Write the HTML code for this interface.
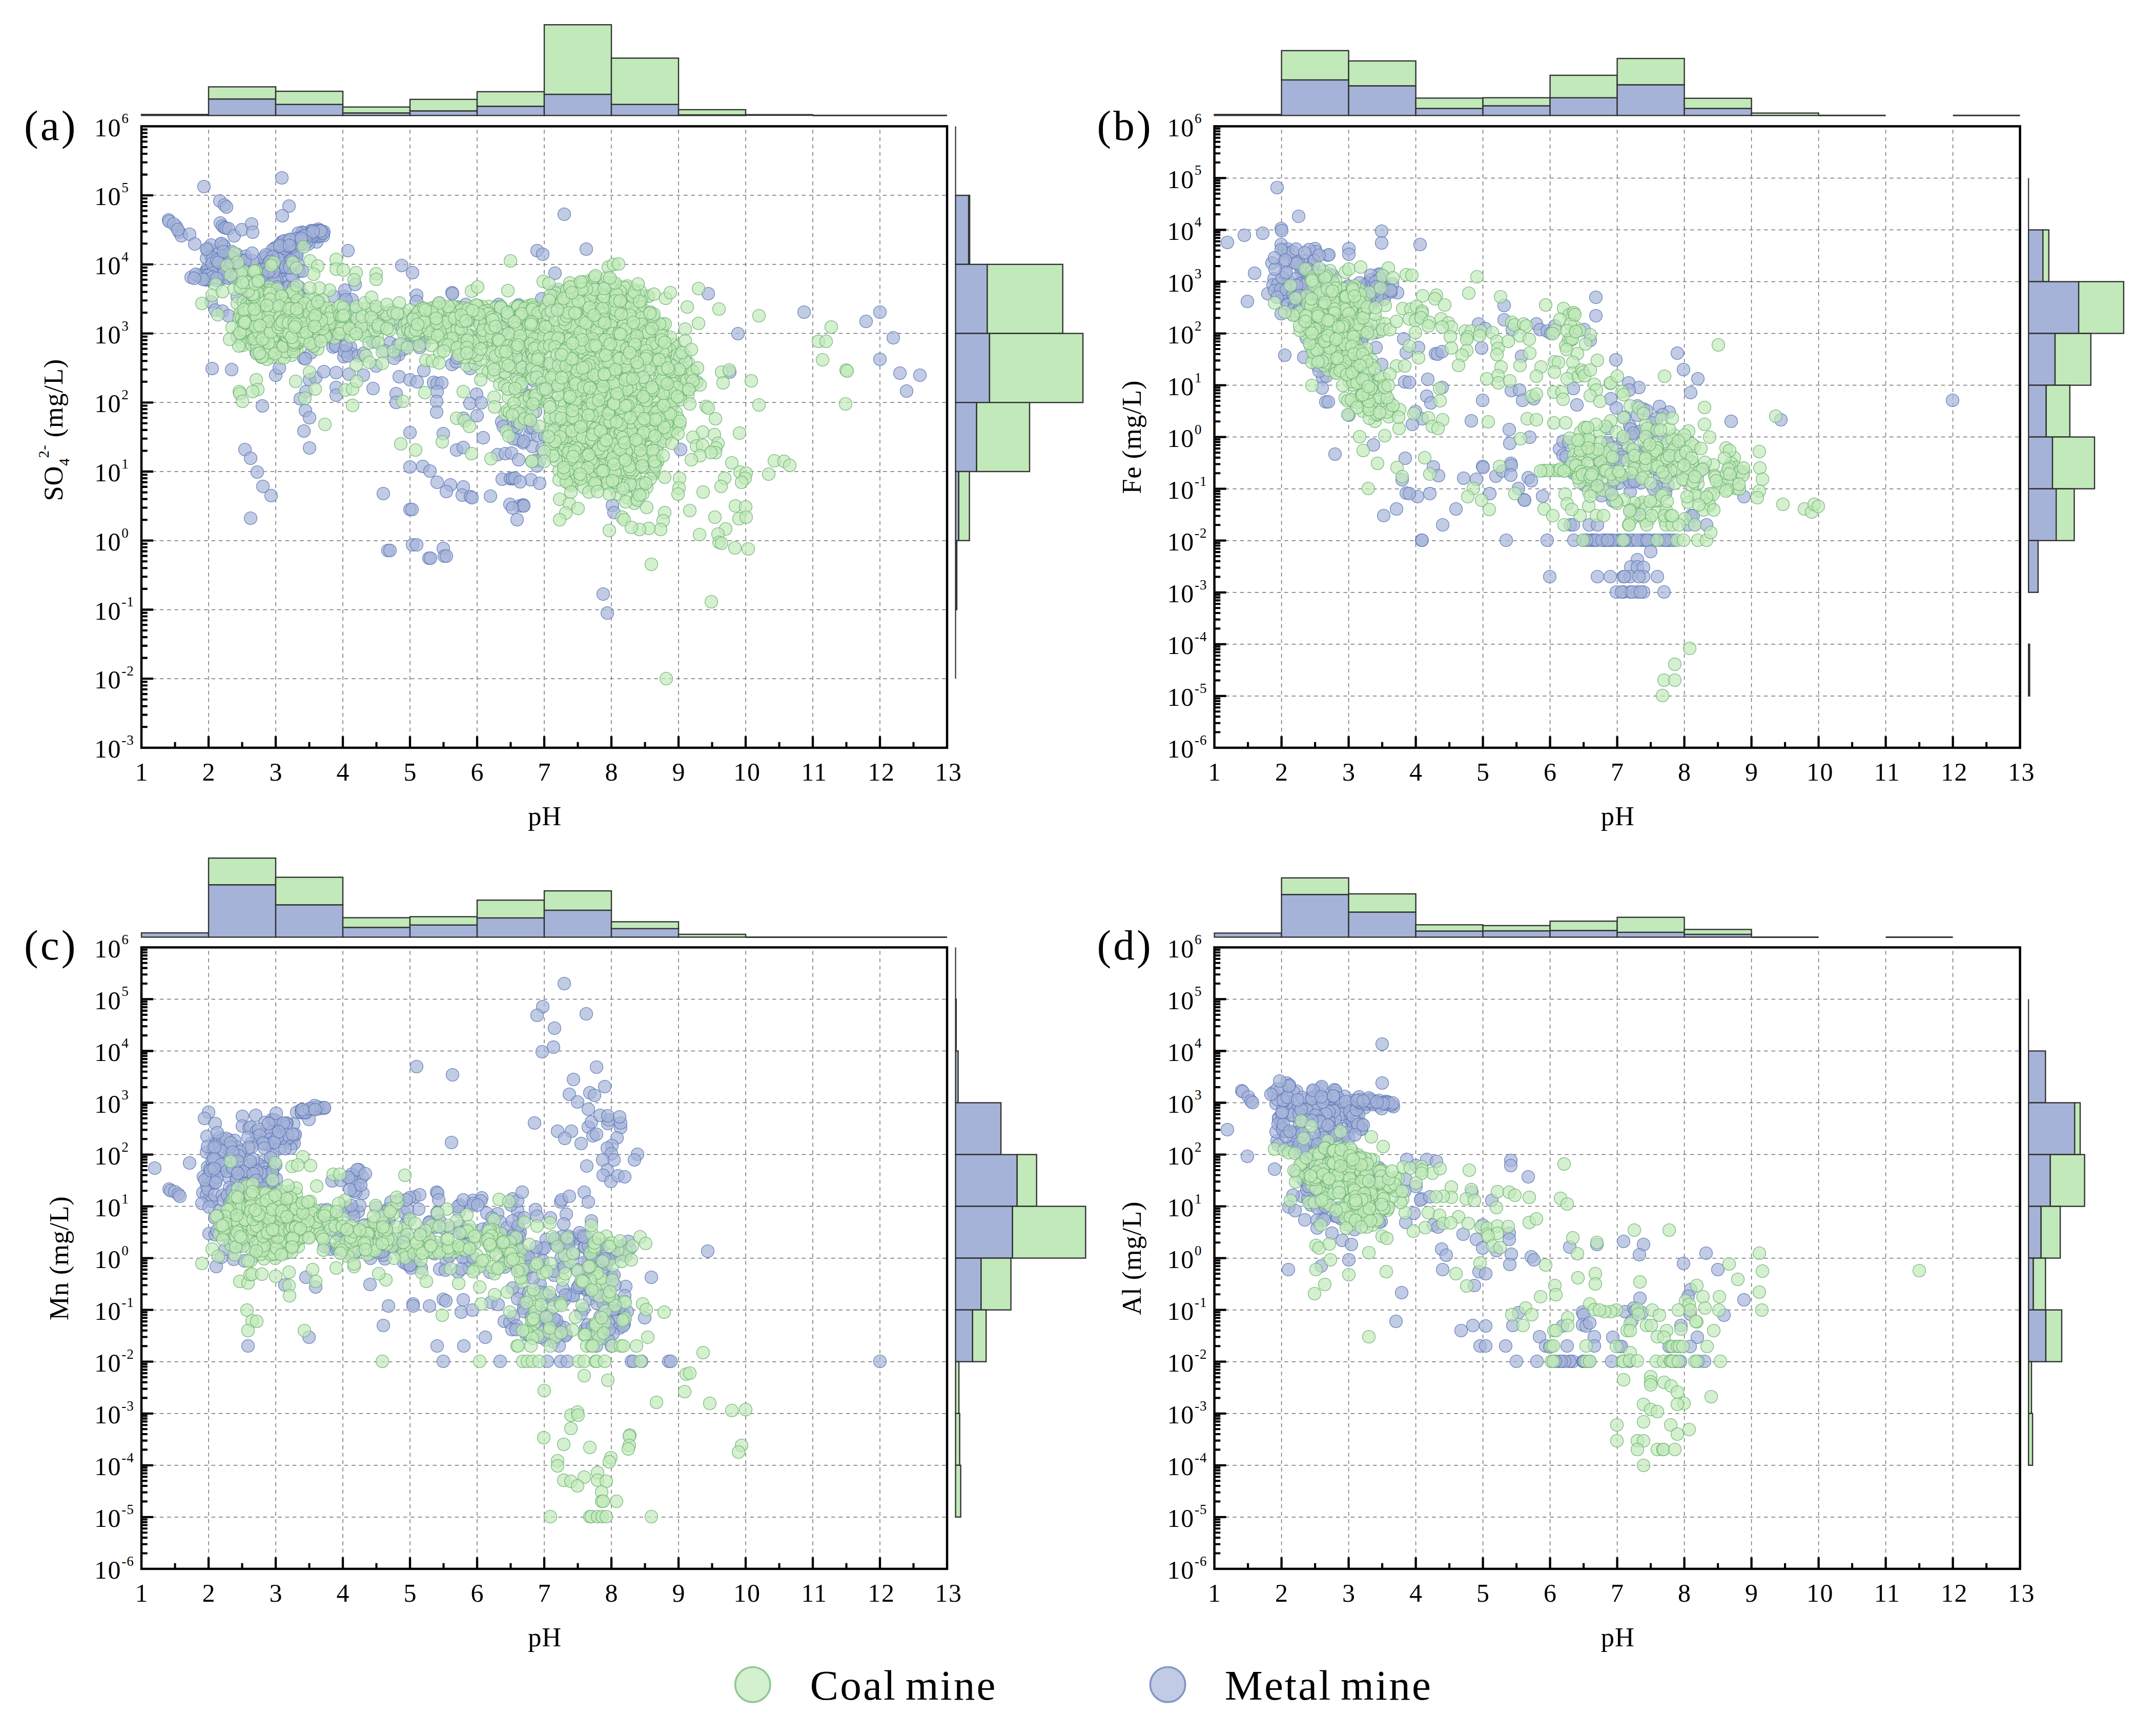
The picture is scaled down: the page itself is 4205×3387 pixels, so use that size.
<!DOCTYPE html>
<html lang="en"><head><meta charset="utf-8"><title>Mine drainage: pH vs concentration</title>
<style>
html,body{margin:0;padding:0;background:#fff}
svg{display:block}
text{font-family:"Liberation Serif", "Times New Roman", serif;fill:#000}
.grid{fill:none;stroke:#727272;stroke-width:1.5;stroke-dasharray:7.5 6.9;stroke-dashoffset:7.5}
.tk{fill:none;stroke:#000;stroke-width:4.3}
.mtk{fill:none;stroke:#000;stroke-width:4.1}
.fr{fill:none;stroke:#000;stroke-width:4.5}
.tl{font-size:50px;letter-spacing:1.7px}
.sp{font-size:27px;letter-spacing:1px}
.al{font-size:52.5px;letter-spacing:0.85px}
.sb{font-size:29px}
.tag{font-size:83.3px;letter-spacing:4px}
.lg{font-size:83.3px;letter-spacing:3.1px;word-spacing:-7.5px}
.pb circle{r:12.4px;fill:#a5b3d8;fill-opacity:.69;stroke:#5f7ab8;stroke-width:1.3;stroke-opacity:.9}
.pg circle{r:12.4px;fill:#c1e9b9;fill-opacity:.69;stroke:#6fb374;stroke-width:1.3;stroke-opacity:.9}
.hbl{fill:#a5b3d8;stroke:#333;stroke-width:2.4}
.hgr{fill:#c1e9b9;stroke:#333;stroke-width:2.4}
.hl{fill:none;stroke:#333;stroke-width:3}
.hr{stroke-width:2.2}
</style></head><body>
<svg width="4205" height="3387" viewBox="0 0 4205 3387">
<rect width="4205" height="3387" fill="#fff"/>
<g id="panel-a">
<path class="grid" d="M407 246.4V1458.9M538 246.4V1458.9M669 246.4V1458.9M800 246.4V1458.9M931 246.4V1458.9M1062 246.4V1458.9M1193 246.4V1458.9M1324 246.4V1458.9M1455 246.4V1458.9M1586 246.4V1458.9M1717 246.4V1458.9M276 381.1H1848M276 515.8H1848M276 650.6H1848M276 785.3H1848M276 920H1848M276 1054.7H1848M276 1189.5H1848M276 1324.2H1848"/>
<g class="pb"><circle cx="329" cy="429" r="12.4"/><circle cx="330" cy="432" r="12.4"/><circle cx="344" cy="442" r="12.4"/><circle cx="350" cy="453" r="12.4"/><circle cx="354" cy="460" r="12.4"/><circle cx="370" cy="457" r="12.4"/><circle cx="380" cy="476" r="12.4"/><circle cx="339" cy="437" r="12.4"/><circle cx="347" cy="448" r="12.4"/><circle cx="429" cy="392" r="12.4"/><circle cx="438" cy="400" r="12.4"/><circle cx="442" cy="404" r="12.4"/><circle cx="564" cy="402" r="12.4"/><circle cx="551" cy="421" r="12.4"/><circle cx="430" cy="435" r="12.4"/><circle cx="434" cy="441" r="12.4"/><circle cx="438" cy="444" r="12.4"/><circle cx="441" cy="445" r="12.4"/><circle cx="446" cy="446" r="12.4"/><circle cx="457" cy="460" r="12.4"/><circle cx="472" cy="448" r="12.4"/><circle cx="491" cy="437" r="12.4"/><circle cx="493" cy="453" r="12.4"/><circle cx="498" cy="520" r="12.4"/><circle cx="513" cy="524" r="12.4"/><circle cx="430" cy="514" r="12.4"/><circle cx="544" cy="552" r="12.4"/><circle cx="406" cy="485" r="12.4"/><circle cx="550" cy="528" r="12.4"/><circle cx="431" cy="477" r="12.4"/><circle cx="516" cy="531" r="12.4"/><circle cx="511" cy="534" r="12.4"/><circle cx="579" cy="499" r="12.4"/><circle cx="401" cy="530" r="12.4"/><circle cx="582" cy="481" r="12.4"/><circle cx="405" cy="489" r="12.4"/><circle cx="412" cy="478" r="12.4"/><circle cx="587" cy="468" r="12.4"/><circle cx="526" cy="505" r="12.4"/><circle cx="431" cy="544" r="12.4"/><circle cx="416" cy="532" r="12.4"/><circle cx="412" cy="501" r="12.4"/><circle cx="437" cy="481" r="12.4"/><circle cx="436" cy="498" r="12.4"/><circle cx="437" cy="479" r="12.4"/><circle cx="581" cy="489" r="12.4"/><circle cx="405" cy="523" r="12.4"/><circle cx="445" cy="526" r="12.4"/><circle cx="478" cy="506" r="12.4"/><circle cx="530" cy="562" r="12.4"/><circle cx="443" cy="540" r="12.4"/><circle cx="536" cy="484" r="12.4"/><circle cx="427" cy="542" r="12.4"/><circle cx="526" cy="560" r="12.4"/><circle cx="540" cy="482" r="12.4"/><circle cx="618" cy="472" r="12.4"/><circle cx="427" cy="494" r="12.4"/><circle cx="560" cy="524" r="12.4"/><circle cx="506" cy="543" r="12.4"/><circle cx="572" cy="566" r="12.4"/><circle cx="572" cy="540" r="12.4"/><circle cx="473" cy="537" r="12.4"/><circle cx="543" cy="496" r="12.4"/><circle cx="532" cy="527" r="12.4"/><circle cx="403" cy="531" r="12.4"/><circle cx="569" cy="497" r="12.4"/><circle cx="571" cy="523" r="12.4"/><circle cx="404" cy="546" r="12.4"/><circle cx="562" cy="512" r="12.4"/><circle cx="540" cy="569" r="12.4"/><circle cx="460" cy="536" r="12.4"/><circle cx="466" cy="535" r="12.4"/><circle cx="433" cy="503" r="12.4"/><circle cx="532" cy="487" r="12.4"/><circle cx="417" cy="512" r="12.4"/><circle cx="437" cy="500" r="12.4"/><circle cx="543" cy="511" r="12.4"/><circle cx="607" cy="450" r="12.4"/><circle cx="564" cy="522" r="12.4"/><circle cx="595" cy="477" r="12.4"/><circle cx="544" cy="505" r="12.4"/><circle cx="544" cy="533" r="12.4"/><circle cx="558" cy="471" r="12.4"/><circle cx="566" cy="469" r="12.4"/><circle cx="452" cy="491" r="12.4"/><circle cx="561" cy="515" r="12.4"/><circle cx="540" cy="547" r="12.4"/><circle cx="615" cy="456" r="12.4"/><circle cx="416" cy="506" r="12.4"/><circle cx="543" cy="568" r="12.4"/><circle cx="479" cy="521" r="12.4"/><circle cx="550" cy="472" r="12.4"/><circle cx="547" cy="542" r="12.4"/><circle cx="520" cy="552" r="12.4"/><circle cx="403" cy="504" r="12.4"/><circle cx="524" cy="549" r="12.4"/><circle cx="590" cy="453" r="12.4"/><circle cx="588" cy="468" r="12.4"/><circle cx="515" cy="542" r="12.4"/><circle cx="626" cy="456" r="12.4"/><circle cx="439" cy="516" r="12.4"/><circle cx="457" cy="543" r="12.4"/><circle cx="546" cy="515" r="12.4"/><circle cx="462" cy="496" r="12.4"/><circle cx="520" cy="513" r="12.4"/><circle cx="527" cy="511" r="12.4"/><circle cx="521" cy="500" r="12.4"/><circle cx="451" cy="509" r="12.4"/><circle cx="415" cy="503" r="12.4"/><circle cx="431" cy="528" r="12.4"/><circle cx="620" cy="462" r="12.4"/><circle cx="432" cy="475" r="12.4"/><circle cx="559" cy="488" r="12.4"/><circle cx="474" cy="528" r="12.4"/><circle cx="409" cy="543" r="12.4"/><circle cx="414" cy="514" r="12.4"/><circle cx="519" cy="504" r="12.4"/><circle cx="479" cy="500" r="12.4"/><circle cx="435" cy="530" r="12.4"/><circle cx="546" cy="516" r="12.4"/><circle cx="602" cy="476" r="12.4"/><circle cx="610" cy="462" r="12.4"/><circle cx="444" cy="543" r="12.4"/><circle cx="585" cy="461" r="12.4"/><circle cx="558" cy="568" r="12.4"/><circle cx="631" cy="460" r="12.4"/><circle cx="512" cy="547" r="12.4"/><circle cx="511" cy="537" r="12.4"/><circle cx="524" cy="514" r="12.4"/><circle cx="620" cy="457" r="12.4"/><circle cx="466" cy="508" r="12.4"/><circle cx="515" cy="503" r="12.4"/><circle cx="562" cy="559" r="12.4"/><circle cx="429" cy="506" r="12.4"/><circle cx="572" cy="499" r="12.4"/><circle cx="563" cy="561" r="12.4"/><circle cx="544" cy="499" r="12.4"/><circle cx="536" cy="513" r="12.4"/><circle cx="579" cy="499" r="12.4"/><circle cx="470" cy="508" r="12.4"/><circle cx="546" cy="529" r="12.4"/><circle cx="553" cy="490" r="12.4"/><circle cx="552" cy="522" r="12.4"/><circle cx="519" cy="497" r="12.4"/><circle cx="540" cy="545" r="12.4"/><circle cx="448" cy="499" r="12.4"/><circle cx="524" cy="513" r="12.4"/><circle cx="590" cy="455" r="12.4"/><circle cx="536" cy="547" r="12.4"/><circle cx="423" cy="508" r="12.4"/><circle cx="426" cy="512" r="12.4"/><circle cx="518" cy="525" r="12.4"/><circle cx="551" cy="520" r="12.4"/><circle cx="455" cy="542" r="12.4"/><circle cx="422" cy="547" r="12.4"/><circle cx="493" cy="509" r="12.4"/><circle cx="568" cy="508" r="12.4"/><circle cx="543" cy="506" r="12.4"/><circle cx="496" cy="535" r="12.4"/><circle cx="532" cy="501" r="12.4"/><circle cx="582" cy="516" r="12.4"/><circle cx="571" cy="477" r="12.4"/><circle cx="584" cy="529" r="12.4"/><circle cx="558" cy="521" r="12.4"/><circle cx="534" cy="530" r="12.4"/><circle cx="576" cy="470" r="12.4"/><circle cx="452" cy="502" r="12.4"/><circle cx="404" cy="536" r="12.4"/><circle cx="524" cy="530" r="12.4"/><circle cx="478" cy="509" r="12.4"/><circle cx="436" cy="491" r="12.4"/><circle cx="590" cy="529" r="12.4"/><circle cx="580" cy="473" r="12.4"/><circle cx="550" cy="579" r="12.4"/><circle cx="466" cy="519" r="12.4"/><circle cx="492" cy="494" r="12.4"/><circle cx="527" cy="510" r="12.4"/><circle cx="558" cy="485" r="12.4"/><circle cx="582" cy="455" r="12.4"/><circle cx="437" cy="534" r="12.4"/><circle cx="403" cy="486" r="12.4"/><circle cx="569" cy="538" r="12.4"/><circle cx="565" cy="522" r="12.4"/><circle cx="632" cy="452" r="12.4"/><circle cx="586" cy="465" r="12.4"/><circle cx="566" cy="478" r="12.4"/><circle cx="620" cy="460" r="12.4"/><circle cx="576" cy="474" r="12.4"/><circle cx="582" cy="475" r="12.4"/><circle cx="604" cy="456" r="12.4"/><circle cx="598" cy="472" r="12.4"/><circle cx="619" cy="457" r="12.4"/><circle cx="585" cy="465" r="12.4"/><circle cx="621" cy="447" r="12.4"/><circle cx="547" cy="476" r="12.4"/><circle cx="563" cy="481" r="12.4"/><circle cx="626" cy="459" r="12.4"/><circle cx="561" cy="469" r="12.4"/><circle cx="571" cy="481" r="12.4"/><circle cx="591" cy="461" r="12.4"/><circle cx="583" cy="470" r="12.4"/><circle cx="582" cy="465" r="12.4"/><circle cx="610" cy="459" r="12.4"/><circle cx="610" cy="450" r="12.4"/><circle cx="618" cy="450" r="12.4"/><circle cx="622" cy="450" r="12.4"/><circle cx="607" cy="456" r="12.4"/><circle cx="588" cy="475" r="12.4"/><circle cx="626" cy="455" r="12.4"/><circle cx="563" cy="476" r="12.4"/><circle cx="630" cy="455" r="12.4"/><circle cx="554" cy="470" r="12.4"/><circle cx="569" cy="477" r="12.4"/><circle cx="597" cy="464" r="12.4"/><circle cx="560" cy="480" r="12.4"/><circle cx="567" cy="468" r="12.4"/><circle cx="569" cy="477" r="12.4"/><circle cx="564" cy="471" r="12.4"/><circle cx="595" cy="460" r="12.4"/><circle cx="578" cy="466" r="12.4"/><circle cx="566" cy="467" r="12.4"/><circle cx="588" cy="469" r="12.4"/><circle cx="626" cy="450" r="12.4"/><circle cx="588" cy="465" r="12.4"/><circle cx="626" cy="451" r="12.4"/><circle cx="546" cy="480" r="12.4"/><circle cx="611" cy="452" r="12.4"/><circle cx="565" cy="479" r="12.4"/><circle cx="402" cy="546" r="12.4"/><circle cx="386" cy="538" r="12.4"/><circle cx="413" cy="539" r="12.4"/><circle cx="397" cy="538" r="12.4"/><circle cx="404" cy="539" r="12.4"/><circle cx="414" cy="533" r="12.4"/><circle cx="406" cy="538" r="12.4"/><circle cx="401" cy="545" r="12.4"/><circle cx="415" cy="541" r="12.4"/><circle cx="373" cy="541" r="12.4"/><circle cx="382" cy="535" r="12.4"/><circle cx="396" cy="545" r="12.4"/><circle cx="379" cy="543" r="12.4"/><circle cx="423" cy="543" r="12.4"/><circle cx="679" cy="489" r="12.4"/><circle cx="784" cy="518" r="12.4"/><circle cx="805" cy="532" r="12.4"/><circle cx="813" cy="576" r="12.4"/><circle cx="882" cy="571" r="12.4"/><circle cx="883" cy="573" r="12.4"/><circle cx="671" cy="578" r="12.4"/><circle cx="673" cy="566" r="12.4"/><circle cx="693" cy="555" r="12.4"/><circle cx="857" cy="591" r="12.4"/><circle cx="412" cy="589" r="12.4"/><circle cx="420" cy="605" r="12.4"/><circle cx="434" cy="607" r="12.4"/><circle cx="488" cy="636" r="12.4"/><circle cx="556" cy="581" r="12.4"/><circle cx="621" cy="603" r="12.4"/><circle cx="509" cy="569" r="12.4"/><circle cx="508" cy="625" r="12.4"/><circle cx="596" cy="610" r="12.4"/><circle cx="590" cy="574" r="12.4"/><circle cx="527" cy="625" r="12.4"/><circle cx="650" cy="677" r="12.4"/><circle cx="583" cy="560" r="12.4"/><circle cx="524" cy="660" r="12.4"/><circle cx="494" cy="639" r="12.4"/><circle cx="541" cy="560" r="12.4"/><circle cx="655" cy="673" r="12.4"/><circle cx="487" cy="647" r="12.4"/><circle cx="505" cy="612" r="12.4"/><circle cx="559" cy="601" r="12.4"/><circle cx="515" cy="615" r="12.4"/><circle cx="586" cy="595" r="12.4"/><circle cx="486" cy="663" r="12.4"/><circle cx="513" cy="694" r="12.4"/><circle cx="563" cy="662" r="12.4"/><circle cx="514" cy="677" r="12.4"/><circle cx="463" cy="579" r="12.4"/><circle cx="463" cy="655" r="12.4"/><circle cx="595" cy="584" r="12.4"/><circle cx="529" cy="678" r="12.4"/><circle cx="570" cy="571" r="12.4"/><circle cx="491" cy="581" r="12.4"/><circle cx="469" cy="617" r="12.4"/><circle cx="534" cy="632" r="12.4"/><circle cx="582" cy="668" r="12.4"/><circle cx="619" cy="614" r="12.4"/><circle cx="514" cy="617" r="12.4"/><circle cx="446" cy="616" r="12.4"/><circle cx="593" cy="699" r="12.4"/><circle cx="612" cy="653" r="12.4"/><circle cx="573" cy="561" r="12.4"/><circle cx="514" cy="607" r="12.4"/><circle cx="582" cy="574" r="12.4"/><circle cx="524" cy="631" r="12.4"/><circle cx="612" cy="676" r="12.4"/><circle cx="574" cy="581" r="12.4"/><circle cx="607" cy="688" r="12.4"/><circle cx="560" cy="609" r="12.4"/><circle cx="550" cy="579" r="12.4"/><circle cx="596" cy="700" r="12.4"/><circle cx="553" cy="661" r="12.4"/><circle cx="622" cy="587" r="12.4"/><circle cx="645" cy="648" r="12.4"/><circle cx="485" cy="570" r="12.4"/><circle cx="495" cy="641" r="12.4"/><circle cx="592" cy="606" r="12.4"/><circle cx="642" cy="610" r="12.4"/><circle cx="542" cy="576" r="12.4"/><circle cx="651" cy="578" r="12.4"/><circle cx="637" cy="636" r="12.4"/><circle cx="563" cy="639" r="12.4"/><circle cx="500" cy="688" r="12.4"/><circle cx="655" cy="675" r="12.4"/><circle cx="414" cy="719" r="12.4"/><circle cx="452" cy="721" r="12.4"/><circle cx="538" cy="732" r="12.4"/><circle cx="545" cy="718" r="12.4"/><circle cx="512" cy="792" r="12.4"/><circle cx="604" cy="741" r="12.4"/><circle cx="616" cy="737" r="12.4"/><circle cx="632" cy="725" r="12.4"/><circle cx="656" cy="727" r="12.4"/><circle cx="656" cy="756" r="12.4"/><circle cx="656" cy="771" r="12.4"/><circle cx="681" cy="730" r="12.4"/><circle cx="709" cy="732" r="12.4"/><circle cx="684" cy="678" r="12.4"/><circle cx="685" cy="690" r="12.4"/><circle cx="671" cy="696" r="12.4"/><circle cx="734" cy="714" r="12.4"/><circle cx="728" cy="758" r="12.4"/><circle cx="597" cy="764" r="12.4"/><circle cx="586" cy="778" r="12.4"/><circle cx="596" cy="801" r="12.4"/><circle cx="604" cy="815" r="12.4"/><circle cx="593" cy="841" r="12.4"/><circle cx="604" cy="874" r="12.4"/><circle cx="478" cy="877" r="12.4"/><circle cx="489" cy="894" r="12.4"/><circle cx="502" cy="921" r="12.4"/><circle cx="513" cy="949" r="12.4"/><circle cx="529" cy="967" r="12.4"/><circle cx="779" cy="735" r="12.4"/><circle cx="800" cy="741" r="12.4"/><circle cx="814" cy="745" r="12.4"/><circle cx="827" cy="723" r="12.4"/><circle cx="773" cy="768" r="12.4"/><circle cx="773" cy="785" r="12.4"/><circle cx="846" cy="746" r="12.4"/><circle cx="853" cy="748" r="12.4"/><circle cx="862" cy="747" r="12.4"/><circle cx="853" cy="764" r="12.4"/><circle cx="852" cy="783" r="12.4"/><circle cx="852" cy="804" r="12.4"/><circle cx="800" cy="844" r="12.4"/><circle cx="865" cy="846" r="12.4"/><circle cx="930" cy="769" r="12.4"/><circle cx="917" cy="787" r="12.4"/><circle cx="939" cy="786" r="12.4"/><circle cx="931" cy="811" r="12.4"/><circle cx="904" cy="816" r="12.4"/><circle cx="943" cy="854" r="12.4"/><circle cx="891" cy="878" r="12.4"/><circle cx="904" cy="873" r="12.4"/><circle cx="971" cy="887" r="12.4"/><circle cx="986" cy="885" r="12.4"/><circle cx="998" cy="884" r="12.4"/><circle cx="800" cy="911" r="12.4"/><circle cx="825" cy="910" r="12.4"/><circle cx="839" cy="919" r="12.4"/><circle cx="853" cy="941" r="12.4"/><circle cx="879" cy="946" r="12.4"/><circle cx="871" cy="959" r="12.4"/><circle cx="904" cy="950" r="12.4"/><circle cx="902" cy="966" r="12.4"/><circle cx="918" cy="969" r="12.4"/><circle cx="921" cy="971" r="12.4"/><circle cx="957" cy="968" r="12.4"/><circle cx="748" cy="963" r="12.4"/><circle cx="800" cy="994" r="12.4"/><circle cx="804" cy="994" r="12.4"/><circle cx="980" cy="935" r="12.4"/><circle cx="996" cy="934" r="12.4"/><circle cx="1000" cy="934" r="12.4"/><circle cx="995" cy="984" r="12.4"/><circle cx="1014" cy="987" r="12.4"/><circle cx="1021" cy="985" r="12.4"/><circle cx="1009" cy="835" r="12.4"/><circle cx="1021" cy="864" r="12.4"/><circle cx="1034" cy="848" r="12.4"/><circle cx="1039" cy="871" r="12.4"/><circle cx="979" cy="823" r="12.4"/><circle cx="982" cy="832" r="12.4"/><circle cx="893" cy="599" r="12.4"/><circle cx="981" cy="625" r="12.4"/><circle cx="1010" cy="618" r="12.4"/><circle cx="882" cy="711" r="12.4"/><circle cx="730" cy="666" r="12.4"/><circle cx="687" cy="585" r="12.4"/><circle cx="1026" cy="683" r="12.4"/><circle cx="778" cy="685" r="12.4"/><circle cx="947" cy="640" r="12.4"/><circle cx="890" cy="706" r="12.4"/><circle cx="664" cy="611" r="12.4"/><circle cx="841" cy="602" r="12.4"/><circle cx="809" cy="669" r="12.4"/><circle cx="725" cy="662" r="12.4"/><circle cx="761" cy="669" r="12.4"/><circle cx="788" cy="681" r="12.4"/><circle cx="672" cy="685" r="12.4"/><circle cx="893" cy="654" r="12.4"/><circle cx="819" cy="678" r="12.4"/><circle cx="928" cy="699" r="12.4"/><circle cx="952" cy="656" r="12.4"/><circle cx="1048" cy="712" r="12.4"/><circle cx="993" cy="644" r="12.4"/><circle cx="828" cy="669" r="12.4"/><circle cx="1013" cy="663" r="12.4"/><circle cx="863" cy="648" r="12.4"/><circle cx="1012" cy="630" r="12.4"/><circle cx="679" cy="694" r="12.4"/><circle cx="1011" cy="695" r="12.4"/><circle cx="892" cy="698" r="12.4"/><circle cx="777" cy="673" r="12.4"/><circle cx="685" cy="600" r="12.4"/><circle cx="833" cy="659" r="12.4"/><circle cx="813" cy="588" r="12.4"/><circle cx="930" cy="663" r="12.4"/><circle cx="751" cy="628" r="12.4"/><circle cx="813" cy="617" r="12.4"/><circle cx="1037" cy="685" r="12.4"/><circle cx="998" cy="646" r="12.4"/><circle cx="973" cy="615" r="12.4"/><circle cx="950" cy="669" r="12.4"/><circle cx="1012" cy="595" r="12.4"/><circle cx="968" cy="599" r="12.4"/><circle cx="657" cy="618" r="12.4"/><circle cx="775" cy="631" r="12.4"/><circle cx="977" cy="642" r="12.4"/><circle cx="797" cy="672" r="12.4"/><circle cx="675" cy="585" r="12.4"/><circle cx="1010" cy="628" r="12.4"/><circle cx="1041" cy="654" r="12.4"/><circle cx="738" cy="626" r="12.4"/><circle cx="1020" cy="721" r="12.4"/><circle cx="796" cy="654" r="12.4"/><circle cx="1048" cy="612" r="12.4"/><circle cx="906" cy="610" r="12.4"/><circle cx="699" cy="694" r="12.4"/><circle cx="999" cy="692" r="12.4"/><circle cx="710" cy="689" r="12.4"/><circle cx="1026" cy="650" r="12.4"/><circle cx="688" cy="615" r="12.4"/><circle cx="778" cy="692" r="12.4"/><circle cx="734" cy="608" r="12.4"/><circle cx="750" cy="684" r="12.4"/><circle cx="968" cy="639" r="12.4"/><circle cx="917" cy="719" r="12.4"/><circle cx="889" cy="616" r="12.4"/><circle cx="919" cy="624" r="12.4"/><circle cx="909" cy="594" r="12.4"/><circle cx="1043" cy="649" r="12.4"/><circle cx="865" cy="663" r="12.4"/><circle cx="675" cy="674" r="12.4"/><circle cx="769" cy="619" r="12.4"/><circle cx="973" cy="594" r="12.4"/><circle cx="769" cy="699" r="12.4"/><circle cx="754" cy="624" r="12.4"/><circle cx="872" cy="609" r="12.4"/><circle cx="670" cy="653" r="12.4"/><circle cx="952" cy="640" r="12.4"/><circle cx="1022" cy="659" r="12.4"/><circle cx="728" cy="667" r="12.4"/><circle cx="1048" cy="489" r="12.4"/><circle cx="1059" cy="496" r="12.4"/><circle cx="1144" cy="486" r="12.4"/><circle cx="1083" cy="533" r="12.4"/><circle cx="1382" cy="573" r="12.4"/><circle cx="1440" cy="651" r="12.4"/><circle cx="1424" cy="726" r="12.4"/><circle cx="1057" cy="583" r="12.4"/><circle cx="1081" cy="568" r="12.4"/><circle cx="1096" cy="569" r="12.4"/><circle cx="1114" cy="566" r="12.4"/><circle cx="1116" cy="578" r="12.4"/><circle cx="1009" cy="1014" r="12.4"/><circle cx="1021" cy="987" r="12.4"/><circle cx="1022" cy="987" r="12.4"/><circle cx="1000" cy="991" r="12.4"/><circle cx="1195" cy="986" r="12.4"/><circle cx="1198" cy="1000" r="12.4"/><circle cx="1201" cy="948" r="12.4"/><circle cx="1273" cy="893" r="12.4"/><circle cx="1328" cy="877" r="12.4"/><circle cx="1000" cy="933" r="12.4"/><circle cx="1005" cy="933" r="12.4"/><circle cx="1045" cy="803" r="12.4"/><circle cx="1045" cy="898" r="12.4"/><circle cx="1036" cy="835" r="12.4"/><circle cx="1058" cy="876" r="12.4"/><circle cx="1036" cy="936" r="12.4"/><circle cx="1012" cy="897" r="12.4"/><circle cx="1011" cy="858" r="12.4"/><circle cx="1016" cy="821" r="12.4"/><circle cx="1053" cy="899" r="12.4"/><circle cx="1055" cy="775" r="12.4"/><circle cx="1034" cy="772" r="12.4"/><circle cx="1040" cy="834" r="12.4"/><circle cx="1002" cy="856" r="12.4"/><circle cx="1049" cy="850" r="12.4"/><circle cx="1060" cy="762" r="12.4"/><circle cx="1010" cy="726" r="12.4"/><circle cx="1034" cy="820" r="12.4"/><circle cx="1031" cy="781" r="12.4"/><circle cx="1055" cy="738" r="12.4"/><circle cx="1063" cy="850" r="12.4"/><circle cx="1038" cy="900" r="12.4"/><circle cx="1016" cy="755" r="12.4"/><circle cx="1021" cy="731" r="12.4"/><circle cx="1022" cy="861" r="12.4"/><circle cx="1036" cy="781" r="12.4"/><circle cx="1041" cy="742" r="12.4"/><circle cx="1057" cy="760" r="12.4"/><circle cx="1018" cy="758" r="12.4"/><circle cx="1048" cy="909" r="12.4"/><circle cx="1054" cy="736" r="12.4"/><circle cx="1028" cy="804" r="12.4"/><circle cx="1015" cy="940" r="12.4"/><circle cx="1003" cy="832" r="12.4"/><circle cx="1053" cy="943" r="12.4"/><circle cx="1010" cy="824" r="12.4"/><circle cx="489" cy="1011" r="12.4"/><circle cx="757" cy="1074" r="12.4"/><circle cx="761" cy="1074" r="12.4"/><circle cx="805" cy="1063" r="12.4"/><circle cx="813" cy="1063" r="12.4"/><circle cx="837" cy="1089" r="12.4"/><circle cx="840" cy="1089" r="12.4"/><circle cx="865" cy="1070" r="12.4"/><circle cx="867" cy="1085" r="12.4"/><circle cx="871" cy="1085" r="12.4"/><circle cx="1177" cy="1159" r="12.4"/><circle cx="1185" cy="1196" r="12.4"/><circle cx="1569" cy="609" r="12.4"/><circle cx="1717" cy="609" r="12.4"/><circle cx="1690" cy="627" r="12.4"/><circle cx="1743" cy="659" r="12.4"/><circle cx="1717" cy="701" r="12.4"/><circle cx="1756" cy="728" r="12.4"/><circle cx="1795" cy="732" r="12.4"/><circle cx="1769" cy="763" r="12.4"/><circle cx="1101" cy="418" r="12.4"/><circle cx="398" cy="364" r="12.4"/><circle cx="550" cy="347" r="12.4"/></g>
<g class="pg"><circle cx="477" cy="638" r="12.4"/><circle cx="519" cy="614" r="12.4"/><circle cx="563" cy="632" r="12.4"/><circle cx="519" cy="691" r="12.4"/><circle cx="511" cy="587" r="12.4"/><circle cx="479" cy="612" r="12.4"/><circle cx="552" cy="659" r="12.4"/><circle cx="569" cy="693" r="12.4"/><circle cx="590" cy="653" r="12.4"/><circle cx="577" cy="653" r="12.4"/><circle cx="510" cy="660" r="12.4"/><circle cx="532" cy="625" r="12.4"/><circle cx="513" cy="629" r="12.4"/><circle cx="557" cy="653" r="12.4"/><circle cx="549" cy="652" r="12.4"/><circle cx="513" cy="616" r="12.4"/><circle cx="525" cy="620" r="12.4"/><circle cx="560" cy="685" r="12.4"/><circle cx="498" cy="651" r="12.4"/><circle cx="495" cy="608" r="12.4"/><circle cx="522" cy="636" r="12.4"/><circle cx="581" cy="623" r="12.4"/><circle cx="508" cy="655" r="12.4"/><circle cx="509" cy="583" r="12.4"/><circle cx="548" cy="646" r="12.4"/><circle cx="501" cy="661" r="12.4"/><circle cx="544" cy="593" r="12.4"/><circle cx="594" cy="641" r="12.4"/><circle cx="489" cy="647" r="12.4"/><circle cx="535" cy="665" r="12.4"/><circle cx="482" cy="668" r="12.4"/><circle cx="565" cy="656" r="12.4"/><circle cx="553" cy="677" r="12.4"/><circle cx="557" cy="636" r="12.4"/><circle cx="500" cy="670" r="12.4"/><circle cx="566" cy="642" r="12.4"/><circle cx="536" cy="657" r="12.4"/><circle cx="513" cy="647" r="12.4"/><circle cx="557" cy="631" r="12.4"/><circle cx="533" cy="599" r="12.4"/><circle cx="529" cy="634" r="12.4"/><circle cx="577" cy="642" r="12.4"/><circle cx="521" cy="630" r="12.4"/><circle cx="501" cy="684" r="12.4"/><circle cx="554" cy="588" r="12.4"/><circle cx="534" cy="671" r="12.4"/><circle cx="479" cy="637" r="12.4"/><circle cx="545" cy="618" r="12.4"/><circle cx="510" cy="697" r="12.4"/><circle cx="474" cy="625" r="12.4"/><circle cx="522" cy="607" r="12.4"/><circle cx="523" cy="655" r="12.4"/><circle cx="506" cy="582" r="12.4"/><circle cx="579" cy="682" r="12.4"/><circle cx="505" cy="642" r="12.4"/><circle cx="482" cy="613" r="12.4"/><circle cx="531" cy="595" r="12.4"/><circle cx="463" cy="592" r="12.4"/><circle cx="540" cy="587" r="12.4"/><circle cx="509" cy="657" r="12.4"/><circle cx="524" cy="586" r="12.4"/><circle cx="584" cy="636" r="12.4"/><circle cx="581" cy="596" r="12.4"/><circle cx="591" cy="585" r="12.4"/><circle cx="467" cy="617" r="12.4"/><circle cx="517" cy="641" r="12.4"/><circle cx="510" cy="653" r="12.4"/><circle cx="579" cy="609" r="12.4"/><circle cx="480" cy="618" r="12.4"/><circle cx="560" cy="660" r="12.4"/><circle cx="518" cy="598" r="12.4"/><circle cx="530" cy="665" r="12.4"/><circle cx="504" cy="676" r="12.4"/><circle cx="538" cy="641" r="12.4"/><circle cx="507" cy="678" r="12.4"/><circle cx="532" cy="580" r="12.4"/><circle cx="560" cy="617" r="12.4"/><circle cx="569" cy="637" r="12.4"/><circle cx="508" cy="637" r="12.4"/><circle cx="512" cy="603" r="12.4"/><circle cx="531" cy="660" r="12.4"/><circle cx="533" cy="629" r="12.4"/><circle cx="510" cy="651" r="12.4"/><circle cx="540" cy="664" r="12.4"/><circle cx="473" cy="630" r="12.4"/><circle cx="549" cy="662" r="12.4"/><circle cx="475" cy="589" r="12.4"/><circle cx="529" cy="668" r="12.4"/><circle cx="570" cy="579" r="12.4"/><circle cx="535" cy="672" r="12.4"/><circle cx="531" cy="596" r="12.4"/><circle cx="504" cy="586" r="12.4"/><circle cx="573" cy="623" r="12.4"/><circle cx="515" cy="601" r="12.4"/><circle cx="525" cy="600" r="12.4"/><circle cx="495" cy="630" r="12.4"/><circle cx="522" cy="647" r="12.4"/><circle cx="535" cy="672" r="12.4"/><circle cx="528" cy="640" r="12.4"/><circle cx="538" cy="604" r="12.4"/><circle cx="573" cy="612" r="12.4"/><circle cx="473" cy="674" r="12.4"/><circle cx="554" cy="612" r="12.4"/><circle cx="565" cy="665" r="12.4"/><circle cx="555" cy="591" r="12.4"/><circle cx="536" cy="596" r="12.4"/><circle cx="508" cy="612" r="12.4"/><circle cx="499" cy="648" r="12.4"/><circle cx="502" cy="653" r="12.4"/><circle cx="536" cy="611" r="12.4"/><circle cx="536" cy="655" r="12.4"/><circle cx="571" cy="623" r="12.4"/><circle cx="593" cy="651" r="12.4"/><circle cx="575" cy="585" r="12.4"/><circle cx="492" cy="673" r="12.4"/><circle cx="522" cy="647" r="12.4"/><circle cx="573" cy="582" r="12.4"/><circle cx="546" cy="698" r="12.4"/><circle cx="559" cy="634" r="12.4"/><circle cx="550" cy="632" r="12.4"/><circle cx="558" cy="676" r="12.4"/><circle cx="522" cy="651" r="12.4"/><circle cx="541" cy="657" r="12.4"/><circle cx="560" cy="595" r="12.4"/><circle cx="572" cy="661" r="12.4"/><circle cx="491" cy="622" r="12.4"/><circle cx="477" cy="622" r="12.4"/><circle cx="542" cy="592" r="12.4"/><circle cx="502" cy="601" r="12.4"/><circle cx="505" cy="605" r="12.4"/><circle cx="492" cy="651" r="12.4"/><circle cx="522" cy="603" r="12.4"/><circle cx="566" cy="612" r="12.4"/><circle cx="562" cy="589" r="12.4"/><circle cx="581" cy="616" r="12.4"/><circle cx="496" cy="645" r="12.4"/><circle cx="482" cy="594" r="12.4"/><circle cx="539" cy="615" r="12.4"/><circle cx="544" cy="636" r="12.4"/><circle cx="539" cy="636" r="12.4"/><circle cx="556" cy="631" r="12.4"/><circle cx="570" cy="664" r="12.4"/><circle cx="586" cy="616" r="12.4"/><circle cx="537" cy="627" r="12.4"/><circle cx="505" cy="634" r="12.4"/><circle cx="530" cy="594" r="12.4"/><circle cx="499" cy="622" r="12.4"/><circle cx="529" cy="644" r="12.4"/><circle cx="589" cy="625" r="12.4"/><circle cx="560" cy="617" r="12.4"/><circle cx="486" cy="600" r="12.4"/><circle cx="554" cy="632" r="12.4"/><circle cx="471" cy="636" r="12.4"/><circle cx="556" cy="579" r="12.4"/><circle cx="510" cy="658" r="12.4"/><circle cx="505" cy="632" r="12.4"/><circle cx="497" cy="600" r="12.4"/><circle cx="512" cy="649" r="12.4"/><circle cx="492" cy="661" r="12.4"/><circle cx="560" cy="660" r="12.4"/><circle cx="585" cy="613" r="12.4"/><circle cx="528" cy="665" r="12.4"/><circle cx="575" cy="663" r="12.4"/><circle cx="514" cy="615" r="12.4"/><circle cx="483" cy="616" r="12.4"/><circle cx="498" cy="615" r="12.4"/><circle cx="516" cy="660" r="12.4"/><circle cx="561" cy="630" r="12.4"/><circle cx="489" cy="629" r="12.4"/><circle cx="545" cy="660" r="12.4"/><circle cx="537" cy="659" r="12.4"/><circle cx="506" cy="653" r="12.4"/><circle cx="556" cy="619" r="12.4"/><circle cx="503" cy="673" r="12.4"/><circle cx="494" cy="655" r="12.4"/><circle cx="520" cy="619" r="12.4"/><circle cx="521" cy="616" r="12.4"/><circle cx="528" cy="692" r="12.4"/><circle cx="582" cy="627" r="12.4"/><circle cx="547" cy="662" r="12.4"/><circle cx="515" cy="694" r="12.4"/><circle cx="531" cy="652" r="12.4"/><circle cx="496" cy="593" r="12.4"/><circle cx="494" cy="609" r="12.4"/><circle cx="567" cy="620" r="12.4"/><circle cx="561" cy="617" r="12.4"/><circle cx="496" cy="637" r="12.4"/><circle cx="516" cy="575" r="12.4"/><circle cx="532" cy="671" r="12.4"/><circle cx="522" cy="590" r="12.4"/><circle cx="503" cy="590" r="12.4"/><circle cx="521" cy="599" r="12.4"/><circle cx="526" cy="637" r="12.4"/><circle cx="577" cy="592" r="12.4"/><circle cx="545" cy="619" r="12.4"/><circle cx="548" cy="600" r="12.4"/><circle cx="518" cy="654" r="12.4"/><circle cx="519" cy="636" r="12.4"/><circle cx="545" cy="635" r="12.4"/><circle cx="521" cy="649" r="12.4"/><circle cx="577" cy="674" r="12.4"/><circle cx="498" cy="657" r="12.4"/><circle cx="544" cy="649" r="12.4"/><circle cx="579" cy="573" r="12.4"/><circle cx="568" cy="613" r="12.4"/><circle cx="513" cy="646" r="12.4"/><circle cx="580" cy="599" r="12.4"/><circle cx="469" cy="611" r="12.4"/><circle cx="526" cy="672" r="12.4"/><circle cx="543" cy="621" r="12.4"/><circle cx="512" cy="615" r="12.4"/><circle cx="564" cy="575" r="12.4"/><circle cx="505" cy="601" r="12.4"/><circle cx="570" cy="635" r="12.4"/><circle cx="506" cy="657" r="12.4"/><circle cx="483" cy="624" r="12.4"/><circle cx="570" cy="570" r="12.4"/><circle cx="486" cy="617" r="12.4"/><circle cx="548" cy="603" r="12.4"/><circle cx="535" cy="626" r="12.4"/><circle cx="541" cy="590" r="12.4"/><circle cx="535" cy="664" r="12.4"/><circle cx="547" cy="576" r="12.4"/><circle cx="467" cy="621" r="12.4"/><circle cx="497" cy="569" r="12.4"/><circle cx="509" cy="604" r="12.4"/><circle cx="525" cy="644" r="12.4"/><circle cx="536" cy="637" r="12.4"/><circle cx="548" cy="627" r="12.4"/><circle cx="513" cy="619" r="12.4"/><circle cx="572" cy="621" r="12.4"/><circle cx="558" cy="687" r="12.4"/><circle cx="535" cy="664" r="12.4"/><circle cx="513" cy="607" r="12.4"/><circle cx="478" cy="608" r="12.4"/><circle cx="529" cy="567" r="12.4"/><circle cx="529" cy="602" r="12.4"/><circle cx="530" cy="594" r="12.4"/><circle cx="532" cy="636" r="12.4"/><circle cx="504" cy="608" r="12.4"/><circle cx="563" cy="652" r="12.4"/><circle cx="501" cy="645" r="12.4"/><circle cx="488" cy="613" r="12.4"/><circle cx="553" cy="614" r="12.4"/><circle cx="550" cy="609" r="12.4"/><circle cx="540" cy="625" r="12.4"/><circle cx="499" cy="585" r="12.4"/><circle cx="534" cy="647" r="12.4"/><circle cx="541" cy="627" r="12.4"/><circle cx="546" cy="662" r="12.4"/><circle cx="551" cy="584" r="12.4"/><circle cx="591" cy="629" r="12.4"/><circle cx="524" cy="640" r="12.4"/><circle cx="600" cy="612" r="12.4"/><circle cx="507" cy="597" r="12.4"/><circle cx="536" cy="653" r="12.4"/><circle cx="543" cy="636" r="12.4"/><circle cx="453" cy="639" r="12.4"/><circle cx="568" cy="613" r="12.4"/><circle cx="510" cy="596" r="12.4"/><circle cx="538" cy="578" r="12.4"/><circle cx="597" cy="624" r="12.4"/><circle cx="508" cy="589" r="12.4"/><circle cx="548" cy="663" r="12.4"/><circle cx="509" cy="636" r="12.4"/><circle cx="540" cy="663" r="12.4"/><circle cx="551" cy="672" r="12.4"/><circle cx="511" cy="593" r="12.4"/><circle cx="496" cy="644" r="12.4"/><circle cx="573" cy="605" r="12.4"/><circle cx="517" cy="615" r="12.4"/><circle cx="508" cy="625" r="12.4"/><circle cx="507" cy="670" r="12.4"/><circle cx="541" cy="652" r="12.4"/><circle cx="524" cy="591" r="12.4"/><circle cx="545" cy="617" r="12.4"/><circle cx="486" cy="597" r="12.4"/><circle cx="510" cy="623" r="12.4"/><circle cx="570" cy="624" r="12.4"/><circle cx="545" cy="620" r="12.4"/><circle cx="521" cy="672" r="12.4"/><circle cx="530" cy="697" r="12.4"/><circle cx="528" cy="644" r="12.4"/><circle cx="543" cy="653" r="12.4"/><circle cx="598" cy="608" r="12.4"/><circle cx="510" cy="599" r="12.4"/><circle cx="594" cy="646" r="12.4"/><circle cx="545" cy="646" r="12.4"/><circle cx="463" cy="657" r="12.4"/><circle cx="534" cy="641" r="12.4"/><circle cx="532" cy="628" r="12.4"/><circle cx="527" cy="611" r="12.4"/><circle cx="521" cy="652" r="12.4"/><circle cx="552" cy="594" r="12.4"/><circle cx="547" cy="641" r="12.4"/><circle cx="511" cy="688" r="12.4"/><circle cx="536" cy="626" r="12.4"/><circle cx="537" cy="641" r="12.4"/><circle cx="521" cy="701" r="12.4"/><circle cx="524" cy="684" r="12.4"/><circle cx="567" cy="664" r="12.4"/><circle cx="552" cy="670" r="12.4"/><circle cx="525" cy="560" r="12.4"/><circle cx="551" cy="647" r="12.4"/><circle cx="504" cy="563" r="12.4"/><circle cx="526" cy="688" r="12.4"/><circle cx="525" cy="630" r="12.4"/><circle cx="532" cy="632" r="12.4"/><circle cx="498" cy="569" r="12.4"/><circle cx="559" cy="613" r="12.4"/><circle cx="511" cy="583" r="12.4"/><circle cx="523" cy="616" r="12.4"/><circle cx="545" cy="617" r="12.4"/><circle cx="477" cy="647" r="12.4"/><circle cx="526" cy="567" r="12.4"/><circle cx="517" cy="656" r="12.4"/><circle cx="527" cy="620" r="12.4"/><circle cx="550" cy="609" r="12.4"/><circle cx="504" cy="648" r="12.4"/><circle cx="524" cy="610" r="12.4"/><circle cx="537" cy="639" r="12.4"/><circle cx="563" cy="665" r="12.4"/><circle cx="532" cy="630" r="12.4"/><circle cx="496" cy="637" r="12.4"/><circle cx="517" cy="659" r="12.4"/><circle cx="558" cy="652" r="12.4"/><circle cx="527" cy="642" r="12.4"/><circle cx="551" cy="579" r="12.4"/><circle cx="531" cy="646" r="12.4"/><circle cx="583" cy="625" r="12.4"/><circle cx="525" cy="611" r="12.4"/><circle cx="540" cy="589" r="12.4"/><circle cx="549" cy="642" r="12.4"/><circle cx="577" cy="620" r="12.4"/><circle cx="541" cy="638" r="12.4"/><circle cx="529" cy="598" r="12.4"/><circle cx="509" cy="633" r="12.4"/><circle cx="547" cy="666" r="12.4"/><circle cx="508" cy="640" r="12.4"/><circle cx="551" cy="660" r="12.4"/><circle cx="538" cy="638" r="12.4"/><circle cx="517" cy="632" r="12.4"/><circle cx="523" cy="572" r="12.4"/><circle cx="547" cy="661" r="12.4"/><circle cx="517" cy="637" r="12.4"/><circle cx="535" cy="622" r="12.4"/><circle cx="582" cy="625" r="12.4"/><circle cx="541" cy="629" r="12.4"/><circle cx="537" cy="586" r="12.4"/><circle cx="504" cy="599" r="12.4"/><circle cx="557" cy="594" r="12.4"/><circle cx="494" cy="620" r="12.4"/><circle cx="496" cy="597" r="12.4"/><circle cx="586" cy="609" r="12.4"/><circle cx="501" cy="677" r="12.4"/><circle cx="533" cy="669" r="12.4"/><circle cx="472" cy="621" r="12.4"/><circle cx="547" cy="638" r="12.4"/><circle cx="549" cy="673" r="12.4"/><circle cx="550" cy="668" r="12.4"/><circle cx="556" cy="606" r="12.4"/><circle cx="537" cy="675" r="12.4"/><circle cx="496" cy="649" r="12.4"/><circle cx="552" cy="676" r="12.4"/><circle cx="475" cy="631" r="12.4"/><circle cx="535" cy="605" r="12.4"/><circle cx="519" cy="587" r="12.4"/><circle cx="481" cy="644" r="12.4"/><circle cx="478" cy="643" r="12.4"/><circle cx="527" cy="627" r="12.4"/><circle cx="493" cy="589" r="12.4"/><circle cx="558" cy="599" r="12.4"/><circle cx="509" cy="625" r="12.4"/><circle cx="554" cy="698" r="12.4"/><circle cx="600" cy="658" r="12.4"/><circle cx="554" cy="653" r="12.4"/><circle cx="522" cy="624" r="12.4"/><circle cx="468" cy="650" r="12.4"/><circle cx="512" cy="644" r="12.4"/><circle cx="571" cy="661" r="12.4"/><circle cx="510" cy="609" r="12.4"/><circle cx="478" cy="612" r="12.4"/><circle cx="536" cy="655" r="12.4"/><circle cx="550" cy="619" r="12.4"/><circle cx="489" cy="633" r="12.4"/><circle cx="541" cy="564" r="12.4"/><circle cx="533" cy="583" r="12.4"/><circle cx="513" cy="626" r="12.4"/><circle cx="495" cy="614" r="12.4"/><circle cx="530" cy="597" r="12.4"/><circle cx="554" cy="653" r="12.4"/><circle cx="549" cy="595" r="12.4"/><circle cx="523" cy="620" r="12.4"/><circle cx="534" cy="656" r="12.4"/><circle cx="511" cy="632" r="12.4"/><circle cx="559" cy="620" r="12.4"/><circle cx="555" cy="630" r="12.4"/><circle cx="479" cy="630" r="12.4"/><circle cx="535" cy="617" r="12.4"/><circle cx="598" cy="618" r="12.4"/><circle cx="477" cy="626" r="12.4"/><circle cx="521" cy="648" r="12.4"/><circle cx="559" cy="607" r="12.4"/><circle cx="496" cy="607" r="12.4"/><circle cx="522" cy="616" r="12.4"/><circle cx="529" cy="609" r="12.4"/><circle cx="487" cy="604" r="12.4"/><circle cx="557" cy="592" r="12.4"/><circle cx="557" cy="686" r="12.4"/><circle cx="496" cy="661" r="12.4"/><circle cx="560" cy="653" r="12.4"/><circle cx="501" cy="690" r="12.4"/><circle cx="466" cy="675" r="12.4"/><circle cx="539" cy="596" r="12.4"/><circle cx="533" cy="579" r="12.4"/><circle cx="551" cy="649" r="12.4"/><circle cx="573" cy="678" r="12.4"/><circle cx="505" cy="648" r="12.4"/><circle cx="563" cy="670" r="12.4"/><circle cx="537" cy="690" r="12.4"/><circle cx="527" cy="572" r="12.4"/><circle cx="513" cy="621" r="12.4"/><circle cx="539" cy="617" r="12.4"/><circle cx="524" cy="669" r="12.4"/><circle cx="505" cy="586" r="12.4"/><circle cx="512" cy="662" r="12.4"/><circle cx="574" cy="597" r="12.4"/><circle cx="553" cy="675" r="12.4"/><circle cx="558" cy="593" r="12.4"/><circle cx="551" cy="614" r="12.4"/><circle cx="511" cy="696" r="12.4"/><circle cx="528" cy="648" r="12.4"/><circle cx="573" cy="686" r="12.4"/><circle cx="539" cy="610" r="12.4"/><circle cx="527" cy="608" r="12.4"/><circle cx="525" cy="627" r="12.4"/><circle cx="476" cy="604" r="12.4"/><circle cx="478" cy="629" r="12.4"/><circle cx="558" cy="655" r="12.4"/><circle cx="536" cy="598" r="12.4"/><circle cx="527" cy="584" r="12.4"/><circle cx="549" cy="578" r="12.4"/><circle cx="506" cy="689" r="12.4"/><circle cx="544" cy="597" r="12.4"/><circle cx="521" cy="596" r="12.4"/><circle cx="500" cy="616" r="12.4"/><circle cx="499" cy="637" r="12.4"/><circle cx="567" cy="601" r="12.4"/><circle cx="496" cy="603" r="12.4"/><circle cx="507" cy="635" r="12.4"/><circle cx="587" cy="612" r="12.4"/><circle cx="587" cy="655" r="12.4"/><circle cx="637" cy="656" r="12.4"/><circle cx="613" cy="610" r="12.4"/><circle cx="588" cy="618" r="12.4"/><circle cx="641" cy="648" r="12.4"/><circle cx="620" cy="681" r="12.4"/><circle cx="602" cy="614" r="12.4"/><circle cx="596" cy="637" r="12.4"/><circle cx="613" cy="661" r="12.4"/><circle cx="631" cy="615" r="12.4"/><circle cx="630" cy="628" r="12.4"/><circle cx="653" cy="659" r="12.4"/><circle cx="589" cy="645" r="12.4"/><circle cx="568" cy="643" r="12.4"/><circle cx="610" cy="643" r="12.4"/><circle cx="571" cy="612" r="12.4"/><circle cx="591" cy="627" r="12.4"/><circle cx="628" cy="613" r="12.4"/><circle cx="546" cy="619" r="12.4"/><circle cx="631" cy="652" r="12.4"/><circle cx="569" cy="647" r="12.4"/><circle cx="611" cy="649" r="12.4"/><circle cx="613" cy="661" r="12.4"/><circle cx="641" cy="605" r="12.4"/><circle cx="560" cy="656" r="12.4"/><circle cx="560" cy="614" r="12.4"/><circle cx="622" cy="628" r="12.4"/><circle cx="612" cy="582" r="12.4"/><circle cx="584" cy="644" r="12.4"/><circle cx="670" cy="642" r="12.4"/><circle cx="608" cy="635" r="12.4"/><circle cx="638" cy="647" r="12.4"/><circle cx="580" cy="586" r="12.4"/><circle cx="600" cy="623" r="12.4"/><circle cx="663" cy="612" r="12.4"/><circle cx="630" cy="585" r="12.4"/><circle cx="631" cy="602" r="12.4"/><circle cx="608" cy="627" r="12.4"/><circle cx="610" cy="632" r="12.4"/><circle cx="572" cy="645" r="12.4"/><circle cx="580" cy="630" r="12.4"/><circle cx="581" cy="631" r="12.4"/><circle cx="603" cy="627" r="12.4"/><circle cx="582" cy="660" r="12.4"/><circle cx="601" cy="633" r="12.4"/><circle cx="558" cy="627" r="12.4"/><circle cx="552" cy="625" r="12.4"/><circle cx="568" cy="602" r="12.4"/><circle cx="672" cy="628" r="12.4"/><circle cx="631" cy="620" r="12.4"/><circle cx="573" cy="673" r="12.4"/><circle cx="626" cy="604" r="12.4"/><circle cx="603" cy="630" r="12.4"/><circle cx="597" cy="629" r="12.4"/><circle cx="586" cy="629" r="12.4"/><circle cx="593" cy="623" r="12.4"/><circle cx="583" cy="667" r="12.4"/><circle cx="593" cy="626" r="12.4"/><circle cx="613" cy="631" r="12.4"/><circle cx="566" cy="651" r="12.4"/><circle cx="569" cy="615" r="12.4"/><circle cx="618" cy="626" r="12.4"/><circle cx="584" cy="631" r="12.4"/><circle cx="580" cy="617" r="12.4"/><circle cx="570" cy="602" r="12.4"/><circle cx="575" cy="632" r="12.4"/><circle cx="590" cy="627" r="12.4"/><circle cx="633" cy="620" r="12.4"/><circle cx="549" cy="632" r="12.4"/><circle cx="597" cy="604" r="12.4"/><circle cx="560" cy="649" r="12.4"/><circle cx="604" cy="629" r="12.4"/><circle cx="565" cy="618" r="12.4"/><circle cx="571" cy="666" r="12.4"/><circle cx="604" cy="583" r="12.4"/><circle cx="595" cy="665" r="12.4"/><circle cx="581" cy="624" r="12.4"/><circle cx="603" cy="641" r="12.4"/><circle cx="620" cy="616" r="12.4"/><circle cx="594" cy="646" r="12.4"/><circle cx="574" cy="622" r="12.4"/><circle cx="615" cy="625" r="12.4"/><circle cx="575" cy="669" r="12.4"/><circle cx="610" cy="624" r="12.4"/><circle cx="633" cy="629" r="12.4"/><circle cx="606" cy="611" r="12.4"/><circle cx="667" cy="651" r="12.4"/><circle cx="550" cy="645" r="12.4"/><circle cx="543" cy="639" r="12.4"/><circle cx="607" cy="618" r="12.4"/><circle cx="625" cy="634" r="12.4"/><circle cx="596" cy="625" r="12.4"/><circle cx="634" cy="642" r="12.4"/><circle cx="632" cy="638" r="12.4"/><circle cx="592" cy="620" r="12.4"/><circle cx="613" cy="614" r="12.4"/><circle cx="587" cy="650" r="12.4"/><circle cx="613" cy="626" r="12.4"/><circle cx="612" cy="622" r="12.4"/><circle cx="645" cy="626" r="12.4"/><circle cx="607" cy="604" r="12.4"/><circle cx="585" cy="601" r="12.4"/><circle cx="619" cy="644" r="12.4"/><circle cx="625" cy="623" r="12.4"/><circle cx="608" cy="639" r="12.4"/><circle cx="595" cy="592" r="12.4"/><circle cx="666" cy="643" r="12.4"/><circle cx="634" cy="650" r="12.4"/><circle cx="584" cy="630" r="12.4"/><circle cx="591" cy="656" r="12.4"/><circle cx="612" cy="614" r="12.4"/><circle cx="606" cy="643" r="12.4"/><circle cx="615" cy="660" r="12.4"/><circle cx="626" cy="617" r="12.4"/><circle cx="606" cy="634" r="12.4"/><circle cx="636" cy="655" r="12.4"/><circle cx="547" cy="633" r="12.4"/><circle cx="584" cy="638" r="12.4"/><circle cx="594" cy="640" r="12.4"/><circle cx="561" cy="636" r="12.4"/><circle cx="623" cy="660" r="12.4"/><circle cx="654" cy="631" r="12.4"/><circle cx="589" cy="662" r="12.4"/><circle cx="618" cy="639" r="12.4"/><circle cx="624" cy="598" r="12.4"/><circle cx="579" cy="611" r="12.4"/><circle cx="573" cy="667" r="12.4"/><circle cx="551" cy="628" r="12.4"/><circle cx="604" cy="611" r="12.4"/><circle cx="618" cy="612" r="12.4"/><circle cx="564" cy="602" r="12.4"/><circle cx="648" cy="622" r="12.4"/><circle cx="613" cy="645" r="12.4"/><circle cx="620" cy="614" r="12.4"/><circle cx="631" cy="656" r="12.4"/><circle cx="564" cy="651" r="12.4"/><circle cx="623" cy="657" r="12.4"/><circle cx="625" cy="628" r="12.4"/><circle cx="584" cy="647" r="12.4"/><circle cx="619" cy="641" r="12.4"/><circle cx="592" cy="659" r="12.4"/><circle cx="635" cy="657" r="12.4"/><circle cx="589" cy="646" r="12.4"/><circle cx="637" cy="601" r="12.4"/><circle cx="585" cy="638" r="12.4"/><circle cx="563" cy="630" r="12.4"/><circle cx="610" cy="598" r="12.4"/><circle cx="625" cy="632" r="12.4"/><circle cx="645" cy="631" r="12.4"/><circle cx="592" cy="631" r="12.4"/><circle cx="620" cy="589" r="12.4"/><circle cx="598" cy="649" r="12.4"/><circle cx="630" cy="641" r="12.4"/><circle cx="574" cy="630" r="12.4"/><circle cx="621" cy="632" r="12.4"/><circle cx="612" cy="675" r="12.4"/><circle cx="666" cy="622" r="12.4"/><circle cx="578" cy="633" r="12.4"/><circle cx="647" cy="608" r="12.4"/><circle cx="579" cy="603" r="12.4"/><circle cx="641" cy="621" r="12.4"/><circle cx="605" cy="670" r="12.4"/><circle cx="627" cy="625" r="12.4"/><circle cx="569" cy="658" r="12.4"/><circle cx="610" cy="625" r="12.4"/><circle cx="615" cy="616" r="12.4"/><circle cx="614" cy="637" r="12.4"/><circle cx="575" cy="638" r="12.4"/><circle cx="626" cy="666" r="12.4"/><circle cx="684" cy="657" r="12.4"/><circle cx="800" cy="617" r="12.4"/><circle cx="660" cy="599" r="12.4"/><circle cx="734" cy="618" r="12.4"/><circle cx="768" cy="622" r="12.4"/><circle cx="694" cy="605" r="12.4"/><circle cx="799" cy="646" r="12.4"/><circle cx="754" cy="609" r="12.4"/><circle cx="720" cy="646" r="12.4"/><circle cx="750" cy="613" r="12.4"/><circle cx="707" cy="649" r="12.4"/><circle cx="665" cy="638" r="12.4"/><circle cx="758" cy="629" r="12.4"/><circle cx="736" cy="657" r="12.4"/><circle cx="703" cy="645" r="12.4"/><circle cx="760" cy="644" r="12.4"/><circle cx="667" cy="641" r="12.4"/><circle cx="711" cy="603" r="12.4"/><circle cx="787" cy="612" r="12.4"/><circle cx="724" cy="615" r="12.4"/><circle cx="673" cy="614" r="12.4"/><circle cx="745" cy="638" r="12.4"/><circle cx="764" cy="605" r="12.4"/><circle cx="696" cy="651" r="12.4"/><circle cx="732" cy="644" r="12.4"/><circle cx="723" cy="623" r="12.4"/><circle cx="662" cy="651" r="12.4"/><circle cx="786" cy="643" r="12.4"/><circle cx="688" cy="637" r="12.4"/><circle cx="754" cy="613" r="12.4"/><circle cx="711" cy="655" r="12.4"/><circle cx="695" cy="636" r="12.4"/><circle cx="664" cy="596" r="12.4"/><circle cx="663" cy="615" r="12.4"/><circle cx="790" cy="633" r="12.4"/><circle cx="726" cy="604" r="12.4"/><circle cx="737" cy="603" r="12.4"/><circle cx="667" cy="617" r="12.4"/><circle cx="694" cy="647" r="12.4"/><circle cx="738" cy="638" r="12.4"/><circle cx="697" cy="621" r="12.4"/><circle cx="673" cy="614" r="12.4"/><circle cx="799" cy="640" r="12.4"/><circle cx="705" cy="637" r="12.4"/><circle cx="787" cy="649" r="12.4"/><circle cx="474" cy="554" r="12.4"/><circle cx="493" cy="557" r="12.4"/><circle cx="500" cy="530" r="12.4"/><circle cx="476" cy="530" r="12.4"/><circle cx="502" cy="571" r="12.4"/><circle cx="491" cy="555" r="12.4"/><circle cx="484" cy="554" r="12.4"/><circle cx="470" cy="563" r="12.4"/><circle cx="498" cy="544" r="12.4"/><circle cx="494" cy="578" r="12.4"/><circle cx="477" cy="548" r="12.4"/><circle cx="495" cy="579" r="12.4"/><circle cx="457" cy="564" r="12.4"/><circle cx="492" cy="575" r="12.4"/><circle cx="496" cy="545" r="12.4"/><circle cx="491" cy="547" r="12.4"/><circle cx="483" cy="551" r="12.4"/><circle cx="486" cy="561" r="12.4"/><circle cx="494" cy="574" r="12.4"/><circle cx="499" cy="528" r="12.4"/><circle cx="498" cy="549" r="12.4"/><circle cx="505" cy="549" r="12.4"/><circle cx="470" cy="533" r="12.4"/><circle cx="484" cy="568" r="12.4"/><circle cx="469" cy="561" r="12.4"/><circle cx="482" cy="551" r="12.4"/><circle cx="496" cy="529" r="12.4"/><circle cx="498" cy="554" r="12.4"/><circle cx="504" cy="548" r="12.4"/><circle cx="473" cy="551" r="12.4"/><circle cx="457" cy="494" r="12.4"/><circle cx="464" cy="512" r="12.4"/><circle cx="443" cy="518" r="12.4"/><circle cx="450" cy="537" r="12.4"/><circle cx="421" cy="555" r="12.4"/><circle cx="414" cy="576" r="12.4"/><circle cx="434" cy="569" r="12.4"/><circle cx="394" cy="592" r="12.4"/><circle cx="425" cy="614" r="12.4"/><circle cx="448" cy="662" r="12.4"/><circle cx="592" cy="482" r="12.4"/><circle cx="534" cy="512" r="12.4"/><circle cx="529" cy="518" r="12.4"/><circle cx="571" cy="512" r="12.4"/><circle cx="579" cy="523" r="12.4"/><circle cx="605" cy="509" r="12.4"/><circle cx="620" cy="519" r="12.4"/><circle cx="612" cy="535" r="12.4"/><circle cx="656" cy="506" r="12.4"/><circle cx="656" cy="525" r="12.4"/><circle cx="670" cy="527" r="12.4"/><circle cx="695" cy="532" r="12.4"/><circle cx="691" cy="546" r="12.4"/><circle cx="734" cy="534" r="12.4"/><circle cx="734" cy="545" r="12.4"/><circle cx="643" cy="566" r="12.4"/><circle cx="623" cy="562" r="12.4"/><circle cx="604" cy="562" r="12.4"/><circle cx="579" cy="557" r="12.4"/><circle cx="670" cy="600" r="12.4"/><circle cx="670" cy="616" r="12.4"/><circle cx="682" cy="641" r="12.4"/><circle cx="695" cy="598" r="12.4"/><circle cx="707" cy="618" r="12.4"/><circle cx="695" cy="651" r="12.4"/><circle cx="712" cy="591" r="12.4"/><circle cx="725" cy="580" r="12.4"/><circle cx="734" cy="598" r="12.4"/><circle cx="725" cy="619" r="12.4"/><circle cx="738" cy="634" r="12.4"/><circle cx="755" cy="641" r="12.4"/><circle cx="755" cy="594" r="12.4"/><circle cx="768" cy="610" r="12.4"/><circle cx="779" cy="591" r="12.4"/><circle cx="775" cy="612" r="12.4"/><circle cx="795" cy="630" r="12.4"/><circle cx="800" cy="605" r="12.4"/><circle cx="796" cy="644" r="12.4"/><circle cx="720" cy="669" r="12.4"/><circle cx="738" cy="669" r="12.4"/><circle cx="746" cy="687" r="12.4"/><circle cx="768" cy="685" r="12.4"/><circle cx="782" cy="671" r="12.4"/><circle cx="795" cy="678" r="12.4"/><circle cx="714" cy="694" r="12.4"/><circle cx="721" cy="707" r="12.4"/><circle cx="746" cy="709" r="12.4"/><circle cx="695" cy="712" r="12.4"/><circle cx="863" cy="628" r="12.4"/><circle cx="941" cy="614" r="12.4"/><circle cx="938" cy="628" r="12.4"/><circle cx="855" cy="647" r="12.4"/><circle cx="860" cy="628" r="12.4"/><circle cx="954" cy="598" r="12.4"/><circle cx="1022" cy="599" r="12.4"/><circle cx="1037" cy="595" r="12.4"/><circle cx="877" cy="621" r="12.4"/><circle cx="968" cy="600" r="12.4"/><circle cx="1030" cy="597" r="12.4"/><circle cx="825" cy="621" r="12.4"/><circle cx="890" cy="649" r="12.4"/><circle cx="1036" cy="646" r="12.4"/><circle cx="883" cy="611" r="12.4"/><circle cx="1016" cy="665" r="12.4"/><circle cx="892" cy="611" r="12.4"/><circle cx="1016" cy="612" r="12.4"/><circle cx="901" cy="667" r="12.4"/><circle cx="806" cy="622" r="12.4"/><circle cx="850" cy="630" r="12.4"/><circle cx="988" cy="664" r="12.4"/><circle cx="894" cy="655" r="12.4"/><circle cx="983" cy="668" r="12.4"/><circle cx="891" cy="664" r="12.4"/><circle cx="847" cy="642" r="12.4"/><circle cx="1037" cy="655" r="12.4"/><circle cx="989" cy="608" r="12.4"/><circle cx="893" cy="640" r="12.4"/><circle cx="1001" cy="612" r="12.4"/><circle cx="935" cy="655" r="12.4"/><circle cx="972" cy="614" r="12.4"/><circle cx="825" cy="623" r="12.4"/><circle cx="848" cy="640" r="12.4"/><circle cx="932" cy="596" r="12.4"/><circle cx="848" cy="615" r="12.4"/><circle cx="1039" cy="595" r="12.4"/><circle cx="840" cy="623" r="12.4"/><circle cx="1011" cy="597" r="12.4"/><circle cx="932" cy="656" r="12.4"/><circle cx="957" cy="630" r="12.4"/><circle cx="963" cy="652" r="12.4"/><circle cx="921" cy="615" r="12.4"/><circle cx="958" cy="660" r="12.4"/><circle cx="824" cy="646" r="12.4"/><circle cx="905" cy="606" r="12.4"/><circle cx="882" cy="598" r="12.4"/><circle cx="1006" cy="639" r="12.4"/><circle cx="909" cy="665" r="12.4"/><circle cx="1007" cy="626" r="12.4"/><circle cx="808" cy="642" r="12.4"/><circle cx="858" cy="643" r="12.4"/><circle cx="1013" cy="608" r="12.4"/><circle cx="1005" cy="600" r="12.4"/><circle cx="836" cy="640" r="12.4"/><circle cx="860" cy="625" r="12.4"/><circle cx="892" cy="656" r="12.4"/><circle cx="994" cy="667" r="12.4"/><circle cx="860" cy="614" r="12.4"/><circle cx="1008" cy="626" r="12.4"/><circle cx="829" cy="635" r="12.4"/><circle cx="860" cy="646" r="12.4"/><circle cx="901" cy="606" r="12.4"/><circle cx="988" cy="667" r="12.4"/><circle cx="838" cy="610" r="12.4"/><circle cx="925" cy="606" r="12.4"/><circle cx="1040" cy="629" r="12.4"/><circle cx="818" cy="609" r="12.4"/><circle cx="854" cy="614" r="12.4"/><circle cx="952" cy="666" r="12.4"/><circle cx="899" cy="639" r="12.4"/><circle cx="1039" cy="634" r="12.4"/><circle cx="895" cy="666" r="12.4"/><circle cx="970" cy="627" r="12.4"/><circle cx="1004" cy="613" r="12.4"/><circle cx="825" cy="612" r="12.4"/><circle cx="883" cy="664" r="12.4"/><circle cx="863" cy="599" r="12.4"/><circle cx="925" cy="672" r="12.4"/><circle cx="884" cy="605" r="12.4"/><circle cx="846" cy="656" r="12.4"/><circle cx="926" cy="663" r="12.4"/><circle cx="1037" cy="633" r="12.4"/><circle cx="1021" cy="641" r="12.4"/><circle cx="933" cy="658" r="12.4"/><circle cx="1039" cy="632" r="12.4"/><circle cx="1026" cy="629" r="12.4"/><circle cx="929" cy="635" r="12.4"/><circle cx="1035" cy="604" r="12.4"/><circle cx="976" cy="610" r="12.4"/><circle cx="881" cy="658" r="12.4"/><circle cx="980" cy="670" r="12.4"/><circle cx="1012" cy="642" r="12.4"/><circle cx="900" cy="601" r="12.4"/><circle cx="1028" cy="658" r="12.4"/><circle cx="880" cy="617" r="12.4"/><circle cx="1041" cy="620" r="12.4"/><circle cx="843" cy="612" r="12.4"/><circle cx="977" cy="661" r="12.4"/><circle cx="867" cy="650" r="12.4"/><circle cx="950" cy="648" r="12.4"/><circle cx="841" cy="658" r="12.4"/><circle cx="826" cy="601" r="12.4"/><circle cx="950" cy="668" r="12.4"/><circle cx="972" cy="664" r="12.4"/><circle cx="1014" cy="649" r="12.4"/><circle cx="1009" cy="605" r="12.4"/><circle cx="872" cy="630" r="12.4"/><circle cx="937" cy="632" r="12.4"/><circle cx="1023" cy="646" r="12.4"/><circle cx="811" cy="617" r="12.4"/><circle cx="1046" cy="601" r="12.4"/><circle cx="895" cy="607" r="12.4"/><circle cx="966" cy="631" r="12.4"/><circle cx="1021" cy="619" r="12.4"/><circle cx="960" cy="676" r="12.4"/><circle cx="906" cy="629" r="12.4"/><circle cx="1048" cy="640" r="12.4"/><circle cx="803" cy="639" r="12.4"/><circle cx="1020" cy="656" r="12.4"/><circle cx="814" cy="633" r="12.4"/><circle cx="864" cy="648" r="12.4"/><circle cx="1042" cy="632" r="12.4"/><circle cx="1008" cy="602" r="12.4"/><circle cx="981" cy="610" r="12.4"/><circle cx="1014" cy="638" r="12.4"/><circle cx="890" cy="625" r="12.4"/><circle cx="857" cy="653" r="12.4"/><circle cx="921" cy="604" r="12.4"/><circle cx="870" cy="624" r="12.4"/><circle cx="870" cy="606" r="12.4"/><circle cx="938" cy="652" r="12.4"/><circle cx="801" cy="650" r="12.4"/><circle cx="850" cy="634" r="12.4"/><circle cx="1002" cy="617" r="12.4"/><circle cx="1010" cy="600" r="12.4"/><circle cx="839" cy="651" r="12.4"/><circle cx="1031" cy="657" r="12.4"/><circle cx="855" cy="643" r="12.4"/><circle cx="958" cy="616" r="12.4"/><circle cx="1033" cy="621" r="12.4"/><circle cx="1048" cy="609" r="12.4"/><circle cx="860" cy="648" r="12.4"/><circle cx="980" cy="647" r="12.4"/><circle cx="892" cy="610" r="12.4"/><circle cx="997" cy="612" r="12.4"/><circle cx="906" cy="615" r="12.4"/><circle cx="919" cy="656" r="12.4"/><circle cx="926" cy="664" r="12.4"/><circle cx="913" cy="624" r="12.4"/><circle cx="941" cy="598" r="12.4"/><circle cx="850" cy="603" r="12.4"/><circle cx="844" cy="615" r="12.4"/><circle cx="812" cy="614" r="12.4"/><circle cx="816" cy="642" r="12.4"/><circle cx="1021" cy="639" r="12.4"/><circle cx="897" cy="658" r="12.4"/><circle cx="949" cy="653" r="12.4"/><circle cx="981" cy="614" r="12.4"/><circle cx="818" cy="618" r="12.4"/><circle cx="852" cy="655" r="12.4"/><circle cx="1011" cy="598" r="12.4"/><circle cx="944" cy="638" r="12.4"/><circle cx="912" cy="613" r="12.4"/><circle cx="1049" cy="660" r="12.4"/><circle cx="992" cy="662" r="12.4"/><circle cx="1031" cy="667" r="12.4"/><circle cx="996" cy="649" r="12.4"/><circle cx="807" cy="620" r="12.4"/><circle cx="883" cy="658" r="12.4"/><circle cx="808" cy="654" r="12.4"/><circle cx="905" cy="601" r="12.4"/><circle cx="894" cy="615" r="12.4"/><circle cx="968" cy="614" r="12.4"/><circle cx="861" cy="661" r="12.4"/><circle cx="899" cy="657" r="12.4"/><circle cx="834" cy="624" r="12.4"/><circle cx="844" cy="613" r="12.4"/><circle cx="926" cy="666" r="12.4"/><circle cx="926" cy="666" r="12.4"/><circle cx="884" cy="598" r="12.4"/><circle cx="1009" cy="617" r="12.4"/><circle cx="873" cy="650" r="12.4"/><circle cx="1049" cy="637" r="12.4"/><circle cx="928" cy="612" r="12.4"/><circle cx="816" cy="622" r="12.4"/><circle cx="853" cy="638" r="12.4"/><circle cx="833" cy="614" r="12.4"/><circle cx="999" cy="622" r="12.4"/><circle cx="977" cy="654" r="12.4"/><circle cx="980" cy="636" r="12.4"/><circle cx="849" cy="644" r="12.4"/><circle cx="884" cy="615" r="12.4"/><circle cx="1008" cy="667" r="12.4"/><circle cx="1013" cy="669" r="12.4"/><circle cx="952" cy="663" r="12.4"/><circle cx="957" cy="668" r="12.4"/><circle cx="849" cy="608" r="12.4"/><circle cx="823" cy="626" r="12.4"/><circle cx="1046" cy="640" r="12.4"/><circle cx="871" cy="646" r="12.4"/><circle cx="880" cy="643" r="12.4"/><circle cx="982" cy="653" r="12.4"/><circle cx="947" cy="627" r="12.4"/><circle cx="845" cy="600" r="12.4"/><circle cx="825" cy="622" r="12.4"/><circle cx="1011" cy="665" r="12.4"/><circle cx="849" cy="654" r="12.4"/><circle cx="892" cy="624" r="12.4"/><circle cx="1025" cy="642" r="12.4"/><circle cx="939" cy="669" r="12.4"/><circle cx="872" cy="617" r="12.4"/><circle cx="828" cy="617" r="12.4"/><circle cx="978" cy="598" r="12.4"/><circle cx="926" cy="606" r="12.4"/><circle cx="927" cy="597" r="12.4"/><circle cx="964" cy="632" r="12.4"/><circle cx="1016" cy="613" r="12.4"/><circle cx="837" cy="641" r="12.4"/><circle cx="962" cy="665" r="12.4"/><circle cx="951" cy="651" r="12.4"/><circle cx="863" cy="636" r="12.4"/><circle cx="853" cy="648" r="12.4"/><circle cx="912" cy="670" r="12.4"/><circle cx="949" cy="654" r="12.4"/><circle cx="993" cy="614" r="12.4"/><circle cx="971" cy="651" r="12.4"/><circle cx="885" cy="617" r="12.4"/><circle cx="821" cy="603" r="12.4"/><circle cx="886" cy="616" r="12.4"/><circle cx="851" cy="625" r="12.4"/><circle cx="828" cy="627" r="12.4"/><circle cx="816" cy="609" r="12.4"/><circle cx="1014" cy="642" r="12.4"/><circle cx="957" cy="637" r="12.4"/><circle cx="950" cy="606" r="12.4"/><circle cx="810" cy="640" r="12.4"/><circle cx="1014" cy="644" r="12.4"/><circle cx="989" cy="617" r="12.4"/><circle cx="848" cy="657" r="12.4"/><circle cx="846" cy="617" r="12.4"/><circle cx="1037" cy="648" r="12.4"/><circle cx="996" cy="662" r="12.4"/><circle cx="827" cy="602" r="12.4"/><circle cx="1024" cy="602" r="12.4"/><circle cx="932" cy="597" r="12.4"/><circle cx="918" cy="661" r="12.4"/><circle cx="912" cy="614" r="12.4"/><circle cx="847" cy="658" r="12.4"/><circle cx="929" cy="595" r="12.4"/><circle cx="853" cy="600" r="12.4"/><circle cx="913" cy="605" r="12.4"/><circle cx="900" cy="605" r="12.4"/><circle cx="1050" cy="655" r="12.4"/><circle cx="810" cy="652" r="12.4"/><circle cx="942" cy="656" r="12.4"/><circle cx="912" cy="654" r="12.4"/><circle cx="894" cy="648" r="12.4"/><circle cx="868" cy="604" r="12.4"/><circle cx="972" cy="671" r="12.4"/><circle cx="953" cy="612" r="12.4"/><circle cx="853" cy="610" r="12.4"/><circle cx="912" cy="625" r="12.4"/><circle cx="878" cy="643" r="12.4"/><circle cx="912" cy="610" r="12.4"/><circle cx="821" cy="645" r="12.4"/><circle cx="837" cy="645" r="12.4"/><circle cx="828" cy="625" r="12.4"/><circle cx="880" cy="610" r="12.4"/><circle cx="923" cy="667" r="12.4"/><circle cx="943" cy="608" r="12.4"/><circle cx="1034" cy="609" r="12.4"/><circle cx="1001" cy="655" r="12.4"/><circle cx="961" cy="649" r="12.4"/><circle cx="1005" cy="667" r="12.4"/><circle cx="880" cy="661" r="12.4"/><circle cx="943" cy="644" r="12.4"/><circle cx="892" cy="643" r="12.4"/><circle cx="909" cy="612" r="12.4"/><circle cx="953" cy="612" r="12.4"/><circle cx="912" cy="664" r="12.4"/><circle cx="977" cy="600" r="12.4"/><circle cx="1040" cy="600" r="12.4"/><circle cx="1014" cy="618" r="12.4"/><circle cx="819" cy="621" r="12.4"/><circle cx="960" cy="619" r="12.4"/><circle cx="806" cy="623" r="12.4"/><circle cx="959" cy="657" r="12.4"/><circle cx="934" cy="613" r="12.4"/><circle cx="958" cy="640" r="12.4"/><circle cx="998" cy="625" r="12.4"/><circle cx="900" cy="641" r="12.4"/><circle cx="991" cy="617" r="12.4"/><circle cx="967" cy="622" r="12.4"/><circle cx="880" cy="621" r="12.4"/><circle cx="1007" cy="641" r="12.4"/><circle cx="1033" cy="654" r="12.4"/><circle cx="870" cy="629" r="12.4"/><circle cx="1018" cy="612" r="12.4"/><circle cx="842" cy="609" r="12.4"/><circle cx="974" cy="674" r="12.4"/><circle cx="1019" cy="665" r="12.4"/><circle cx="887" cy="621" r="12.4"/><circle cx="882" cy="660" r="12.4"/><circle cx="861" cy="655" r="12.4"/><circle cx="1032" cy="632" r="12.4"/><circle cx="972" cy="662" r="12.4"/><circle cx="858" cy="646" r="12.4"/><circle cx="875" cy="598" r="12.4"/><circle cx="820" cy="638" r="12.4"/><circle cx="828" cy="628" r="12.4"/><circle cx="961" cy="624" r="12.4"/><circle cx="990" cy="610" r="12.4"/><circle cx="992" cy="651" r="12.4"/><circle cx="852" cy="630" r="12.4"/><circle cx="802" cy="647" r="12.4"/><circle cx="812" cy="644" r="12.4"/><circle cx="902" cy="627" r="12.4"/><circle cx="1004" cy="628" r="12.4"/><circle cx="974" cy="664" r="12.4"/><circle cx="1015" cy="655" r="12.4"/><circle cx="913" cy="603" r="12.4"/><circle cx="830" cy="605" r="12.4"/><circle cx="967" cy="637" r="12.4"/><circle cx="922" cy="606" r="12.4"/><circle cx="900" cy="615" r="12.4"/><circle cx="815" cy="633" r="12.4"/><circle cx="851" cy="621" r="12.4"/><circle cx="909" cy="626" r="12.4"/><circle cx="854" cy="655" r="12.4"/><circle cx="920" cy="568" r="12.4"/><circle cx="932" cy="560" r="12.4"/><circle cx="857" cy="591" r="12.4"/><circle cx="991" cy="567" r="12.4"/><circle cx="996" cy="509" r="12.4"/><circle cx="1040" cy="709" r="12.4"/><circle cx="1032" cy="730" r="12.4"/><circle cx="1047" cy="685" r="12.4"/><circle cx="987" cy="706" r="12.4"/><circle cx="1044" cy="702" r="12.4"/><circle cx="1021" cy="698" r="12.4"/><circle cx="831" cy="703" r="12.4"/><circle cx="889" cy="679" r="12.4"/><circle cx="1027" cy="729" r="12.4"/><circle cx="911" cy="713" r="12.4"/><circle cx="976" cy="735" r="12.4"/><circle cx="980" cy="686" r="12.4"/><circle cx="941" cy="723" r="12.4"/><circle cx="1000" cy="683" r="12.4"/><circle cx="1038" cy="704" r="12.4"/><circle cx="1007" cy="734" r="12.4"/><circle cx="1011" cy="678" r="12.4"/><circle cx="868" cy="673" r="12.4"/><circle cx="875" cy="673" r="12.4"/><circle cx="985" cy="734" r="12.4"/><circle cx="985" cy="726" r="12.4"/><circle cx="965" cy="701" r="12.4"/><circle cx="992" cy="675" r="12.4"/><circle cx="1024" cy="684" r="12.4"/><circle cx="927" cy="710" r="12.4"/><circle cx="922" cy="697" r="12.4"/><circle cx="1049" cy="723" r="12.4"/><circle cx="989" cy="687" r="12.4"/><circle cx="844" cy="704" r="12.4"/><circle cx="907" cy="697" r="12.4"/><circle cx="953" cy="726" r="12.4"/><circle cx="1003" cy="717" r="12.4"/><circle cx="858" cy="688" r="12.4"/><circle cx="1016" cy="706" r="12.4"/><circle cx="1033" cy="735" r="12.4"/><circle cx="1028" cy="683" r="12.4"/><circle cx="1046" cy="716" r="12.4"/><circle cx="1004" cy="676" r="12.4"/><circle cx="1035" cy="730" r="12.4"/><circle cx="976" cy="714" r="12.4"/><circle cx="949" cy="690" r="12.4"/><circle cx="1006" cy="717" r="12.4"/><circle cx="981" cy="708" r="12.4"/><circle cx="1007" cy="697" r="12.4"/><circle cx="997" cy="716" r="12.4"/><circle cx="1031" cy="696" r="12.4"/><circle cx="1039" cy="681" r="12.4"/><circle cx="938" cy="702" r="12.4"/><circle cx="1038" cy="713" r="12.4"/><circle cx="893" cy="678" r="12.4"/><circle cx="931" cy="693" r="12.4"/><circle cx="895" cy="693" r="12.4"/><circle cx="962" cy="714" r="12.4"/><circle cx="842" cy="674" r="12.4"/><circle cx="989" cy="698" r="12.4"/><circle cx="1008" cy="678" r="12.4"/><circle cx="1019" cy="717" r="12.4"/><circle cx="963" cy="732" r="12.4"/><circle cx="857" cy="708" r="12.4"/><circle cx="1047" cy="676" r="12.4"/><circle cx="818" cy="674" r="12.4"/><circle cx="961" cy="687" r="12.4"/><circle cx="992" cy="713" r="12.4"/><circle cx="919" cy="688" r="12.4"/><circle cx="866" cy="685" r="12.4"/><circle cx="1037" cy="684" r="12.4"/><circle cx="1011" cy="673" r="12.4"/><circle cx="967" cy="695" r="12.4"/><circle cx="911" cy="678" r="12.4"/><circle cx="978" cy="686" r="12.4"/><circle cx="911" cy="689" r="12.4"/><circle cx="938" cy="681" r="12.4"/><circle cx="964" cy="721" r="12.4"/><circle cx="987" cy="686" r="12.4"/><circle cx="1038" cy="705" r="12.4"/><circle cx="500" cy="741" r="12.4"/><circle cx="503" cy="760" r="12.4"/><circle cx="493" cy="764" r="12.4"/><circle cx="467" cy="764" r="12.4"/><circle cx="468" cy="768" r="12.4"/><circle cx="473" cy="783" r="12.4"/><circle cx="577" cy="744" r="12.4"/><circle cx="604" cy="726" r="12.4"/><circle cx="615" cy="759" r="12.4"/><circle cx="595" cy="777" r="12.4"/><circle cx="674" cy="761" r="12.4"/><circle cx="688" cy="759" r="12.4"/><circle cx="696" cy="744" r="12.4"/><circle cx="688" cy="791" r="12.4"/><circle cx="634" cy="828" r="12.4"/><circle cx="786" cy="783" r="12.4"/><circle cx="829" cy="766" r="12.4"/><circle cx="904" cy="764" r="12.4"/><circle cx="782" cy="866" r="12.4"/><circle cx="811" cy="878" r="12.4"/><circle cx="863" cy="862" r="12.4"/><circle cx="891" cy="816" r="12.4"/><circle cx="907" cy="821" r="12.4"/><circle cx="916" cy="832" r="12.4"/><circle cx="920" cy="885" r="12.4"/><circle cx="958" cy="895" r="12.4"/><circle cx="1038" cy="900" r="12.4"/><circle cx="964" cy="775" r="12.4"/><circle cx="965" cy="794" r="12.4"/><circle cx="975" cy="750" r="12.4"/><circle cx="985" cy="753" r="12.4"/><circle cx="986" cy="807" r="12.4"/><circle cx="988" cy="841" r="12.4"/><circle cx="993" cy="851" r="12.4"/><circle cx="938" cy="741" r="12.4"/><circle cx="1044" cy="784" r="12.4"/><circle cx="1015" cy="777" r="12.4"/><circle cx="1006" cy="764" r="12.4"/><circle cx="1025" cy="806" r="12.4"/><circle cx="1011" cy="744" r="12.4"/><circle cx="1036" cy="774" r="12.4"/><circle cx="1039" cy="806" r="12.4"/><circle cx="990" cy="801" r="12.4"/><circle cx="992" cy="775" r="12.4"/><circle cx="991" cy="759" r="12.4"/><circle cx="1040" cy="774" r="12.4"/><circle cx="994" cy="804" r="12.4"/><circle cx="1034" cy="781" r="12.4"/><circle cx="1022" cy="784" r="12.4"/><circle cx="1003" cy="787" r="12.4"/><circle cx="1011" cy="808" r="12.4"/><circle cx="1015" cy="754" r="12.4"/><circle cx="1006" cy="802" r="12.4"/><circle cx="1033" cy="774" r="12.4"/><circle cx="1050" cy="770" r="12.4"/><circle cx="1018" cy="748" r="12.4"/><circle cx="1005" cy="758" r="12.4"/><circle cx="1013" cy="806" r="12.4"/><circle cx="1000" cy="810" r="12.4"/><circle cx="1015" cy="826" r="12.4"/><circle cx="1157" cy="589" r="12.4"/><circle cx="1243" cy="692" r="12.4"/><circle cx="1230" cy="817" r="12.4"/><circle cx="1043" cy="725" r="12.4"/><circle cx="1117" cy="892" r="12.4"/><circle cx="1165" cy="647" r="12.4"/><circle cx="1328" cy="686" r="12.4"/><circle cx="1135" cy="617" r="12.4"/><circle cx="1186" cy="831" r="12.4"/><circle cx="1137" cy="826" r="12.4"/><circle cx="1132" cy="849" r="12.4"/><circle cx="1350" cy="735" r="12.4"/><circle cx="1123" cy="571" r="12.4"/><circle cx="1299" cy="702" r="12.4"/><circle cx="1130" cy="636" r="12.4"/><circle cx="1265" cy="578" r="12.4"/><circle cx="1190" cy="558" r="12.4"/><circle cx="1039" cy="725" r="12.4"/><circle cx="1275" cy="842" r="12.4"/><circle cx="1214" cy="657" r="12.4"/><circle cx="1285" cy="820" r="12.4"/><circle cx="1261" cy="896" r="12.4"/><circle cx="1245" cy="754" r="12.4"/><circle cx="1212" cy="576" r="12.4"/><circle cx="1260" cy="899" r="12.4"/><circle cx="1320" cy="697" r="12.4"/><circle cx="1330" cy="729" r="12.4"/><circle cx="1174" cy="832" r="12.4"/><circle cx="1219" cy="929" r="12.4"/><circle cx="1039" cy="604" r="12.4"/><circle cx="1092" cy="861" r="12.4"/><circle cx="1238" cy="949" r="12.4"/><circle cx="1211" cy="767" r="12.4"/><circle cx="1173" cy="721" r="12.4"/><circle cx="1163" cy="883" r="12.4"/><circle cx="1311" cy="793" r="12.4"/><circle cx="1208" cy="559" r="12.4"/><circle cx="1113" cy="934" r="12.4"/><circle cx="1308" cy="768" r="12.4"/><circle cx="1272" cy="640" r="12.4"/><circle cx="1334" cy="759" r="12.4"/><circle cx="1086" cy="863" r="12.4"/><circle cx="1267" cy="897" r="12.4"/><circle cx="1238" cy="593" r="12.4"/><circle cx="1038" cy="737" r="12.4"/><circle cx="1309" cy="676" r="12.4"/><circle cx="1213" cy="702" r="12.4"/><circle cx="1230" cy="702" r="12.4"/><circle cx="1135" cy="779" r="12.4"/><circle cx="1343" cy="708" r="12.4"/><circle cx="1107" cy="880" r="12.4"/><circle cx="1173" cy="905" r="12.4"/><circle cx="1239" cy="929" r="12.4"/><circle cx="1112" cy="814" r="12.4"/><circle cx="1309" cy="744" r="12.4"/><circle cx="1255" cy="578" r="12.4"/><circle cx="1218" cy="566" r="12.4"/><circle cx="1097" cy="579" r="12.4"/><circle cx="1265" cy="578" r="12.4"/><circle cx="1157" cy="709" r="12.4"/><circle cx="1121" cy="760" r="12.4"/><circle cx="1225" cy="569" r="12.4"/><circle cx="1177" cy="688" r="12.4"/><circle cx="1305" cy="721" r="12.4"/><circle cx="1241" cy="792" r="12.4"/><circle cx="1102" cy="609" r="12.4"/><circle cx="1234" cy="631" r="12.4"/><circle cx="1145" cy="631" r="12.4"/><circle cx="1313" cy="736" r="12.4"/><circle cx="1164" cy="761" r="12.4"/><circle cx="1109" cy="902" r="12.4"/><circle cx="1256" cy="605" r="12.4"/><circle cx="1319" cy="833" r="12.4"/><circle cx="1106" cy="658" r="12.4"/><circle cx="1190" cy="870" r="12.4"/><circle cx="1172" cy="707" r="12.4"/><circle cx="1250" cy="749" r="12.4"/><circle cx="1129" cy="554" r="12.4"/><circle cx="1131" cy="563" r="12.4"/><circle cx="1334" cy="738" r="12.4"/><circle cx="1094" cy="688" r="12.4"/><circle cx="1242" cy="661" r="12.4"/><circle cx="1056" cy="608" r="12.4"/><circle cx="1203" cy="659" r="12.4"/><circle cx="1154" cy="735" r="12.4"/><circle cx="1101" cy="754" r="12.4"/><circle cx="1263" cy="840" r="12.4"/><circle cx="1120" cy="908" r="12.4"/><circle cx="1100" cy="632" r="12.4"/><circle cx="1337" cy="694" r="12.4"/><circle cx="1207" cy="964" r="12.4"/><circle cx="1273" cy="877" r="12.4"/><circle cx="1179" cy="855" r="12.4"/><circle cx="1255" cy="853" r="12.4"/><circle cx="1213" cy="659" r="12.4"/><circle cx="1266" cy="688" r="12.4"/><circle cx="1216" cy="634" r="12.4"/><circle cx="1317" cy="673" r="12.4"/><circle cx="1090" cy="565" r="12.4"/><circle cx="1165" cy="588" r="12.4"/><circle cx="1106" cy="787" r="12.4"/><circle cx="1055" cy="615" r="12.4"/><circle cx="1082" cy="667" r="12.4"/><circle cx="1114" cy="874" r="12.4"/><circle cx="1234" cy="724" r="12.4"/><circle cx="1123" cy="762" r="12.4"/><circle cx="1219" cy="770" r="12.4"/><circle cx="1179" cy="594" r="12.4"/><circle cx="1107" cy="638" r="12.4"/><circle cx="1090" cy="670" r="12.4"/><circle cx="1113" cy="796" r="12.4"/><circle cx="1094" cy="749" r="12.4"/><circle cx="1267" cy="902" r="12.4"/><circle cx="1149" cy="887" r="12.4"/><circle cx="1211" cy="906" r="12.4"/><circle cx="1297" cy="667" r="12.4"/><circle cx="1278" cy="879" r="12.4"/><circle cx="1159" cy="731" r="12.4"/><circle cx="1187" cy="760" r="12.4"/><circle cx="1278" cy="898" r="12.4"/><circle cx="1224" cy="971" r="12.4"/><circle cx="1113" cy="624" r="12.4"/><circle cx="1263" cy="752" r="12.4"/><circle cx="1142" cy="665" r="12.4"/><circle cx="1150" cy="548" r="12.4"/><circle cx="1259" cy="862" r="12.4"/><circle cx="1190" cy="817" r="12.4"/><circle cx="1094" cy="786" r="12.4"/><circle cx="1170" cy="822" r="12.4"/><circle cx="1342" cy="771" r="12.4"/><circle cx="1096" cy="650" r="12.4"/><circle cx="1125" cy="738" r="12.4"/><circle cx="1257" cy="899" r="12.4"/><circle cx="1152" cy="690" r="12.4"/><circle cx="1229" cy="687" r="12.4"/><circle cx="1229" cy="838" r="12.4"/><circle cx="1236" cy="586" r="12.4"/><circle cx="1153" cy="580" r="12.4"/><circle cx="1113" cy="828" r="12.4"/><circle cx="1271" cy="612" r="12.4"/><circle cx="1266" cy="881" r="12.4"/><circle cx="1141" cy="925" r="12.4"/><circle cx="1136" cy="798" r="12.4"/><circle cx="1103" cy="824" r="12.4"/><circle cx="1254" cy="650" r="12.4"/><circle cx="1247" cy="671" r="12.4"/><circle cx="1132" cy="890" r="12.4"/><circle cx="1080" cy="600" r="12.4"/><circle cx="1096" cy="822" r="12.4"/><circle cx="1317" cy="763" r="12.4"/><circle cx="1313" cy="754" r="12.4"/><circle cx="1046" cy="765" r="12.4"/><circle cx="1215" cy="900" r="12.4"/><circle cx="1295" cy="736" r="12.4"/><circle cx="1110" cy="781" r="12.4"/><circle cx="1158" cy="690" r="12.4"/><circle cx="1124" cy="574" r="12.4"/><circle cx="1223" cy="624" r="12.4"/><circle cx="1256" cy="941" r="12.4"/><circle cx="1117" cy="577" r="12.4"/><circle cx="1088" cy="674" r="12.4"/><circle cx="1300" cy="833" r="12.4"/><circle cx="1274" cy="715" r="12.4"/><circle cx="1189" cy="624" r="12.4"/><circle cx="1297" cy="784" r="12.4"/><circle cx="1214" cy="908" r="12.4"/><circle cx="1153" cy="625" r="12.4"/><circle cx="1128" cy="713" r="12.4"/><circle cx="1185" cy="792" r="12.4"/><circle cx="1172" cy="563" r="12.4"/><circle cx="1095" cy="871" r="12.4"/><circle cx="1038" cy="689" r="12.4"/><circle cx="1241" cy="653" r="12.4"/><circle cx="1238" cy="982" r="12.4"/><circle cx="1257" cy="909" r="12.4"/><circle cx="1152" cy="706" r="12.4"/><circle cx="1252" cy="825" r="12.4"/><circle cx="1187" cy="911" r="12.4"/><circle cx="1283" cy="762" r="12.4"/><circle cx="1060" cy="626" r="12.4"/><circle cx="1056" cy="705" r="12.4"/><circle cx="1107" cy="662" r="12.4"/><circle cx="1276" cy="924" r="12.4"/><circle cx="1178" cy="630" r="12.4"/><circle cx="1111" cy="871" r="12.4"/><circle cx="1094" cy="781" r="12.4"/><circle cx="1107" cy="918" r="12.4"/><circle cx="1130" cy="794" r="12.4"/><circle cx="1317" cy="762" r="12.4"/><circle cx="1193" cy="711" r="12.4"/><circle cx="1148" cy="604" r="12.4"/><circle cx="1246" cy="874" r="12.4"/><circle cx="1159" cy="612" r="12.4"/><circle cx="1262" cy="951" r="12.4"/><circle cx="1194" cy="797" r="12.4"/><circle cx="1067" cy="594" r="12.4"/><circle cx="1201" cy="927" r="12.4"/><circle cx="1111" cy="567" r="12.4"/><circle cx="1201" cy="575" r="12.4"/><circle cx="1122" cy="931" r="12.4"/><circle cx="1173" cy="673" r="12.4"/><circle cx="1076" cy="879" r="12.4"/><circle cx="1110" cy="850" r="12.4"/><circle cx="1083" cy="648" r="12.4"/><circle cx="1195" cy="591" r="12.4"/><circle cx="1283" cy="869" r="12.4"/><circle cx="1116" cy="579" r="12.4"/><circle cx="1078" cy="663" r="12.4"/><circle cx="1198" cy="948" r="12.4"/><circle cx="1125" cy="637" r="12.4"/><circle cx="1167" cy="824" r="12.4"/><circle cx="1227" cy="731" r="12.4"/><circle cx="1281" cy="785" r="12.4"/><circle cx="1162" cy="557" r="12.4"/><circle cx="1240" cy="857" r="12.4"/><circle cx="1296" cy="854" r="12.4"/><circle cx="1260" cy="639" r="12.4"/><circle cx="1195" cy="914" r="12.4"/><circle cx="1147" cy="879" r="12.4"/><circle cx="1224" cy="792" r="12.4"/><circle cx="1248" cy="850" r="12.4"/><circle cx="1059" cy="728" r="12.4"/><circle cx="1162" cy="850" r="12.4"/><circle cx="1231" cy="867" r="12.4"/><circle cx="1229" cy="862" r="12.4"/><circle cx="1246" cy="728" r="12.4"/><circle cx="1276" cy="798" r="12.4"/><circle cx="1209" cy="713" r="12.4"/><circle cx="1351" cy="724" r="12.4"/><circle cx="1042" cy="697" r="12.4"/><circle cx="1119" cy="855" r="12.4"/><circle cx="1269" cy="694" r="12.4"/><circle cx="1163" cy="596" r="12.4"/><circle cx="1215" cy="849" r="12.4"/><circle cx="1211" cy="655" r="12.4"/><circle cx="1208" cy="679" r="12.4"/><circle cx="1048" cy="663" r="12.4"/><circle cx="1268" cy="645" r="12.4"/><circle cx="1219" cy="857" r="12.4"/><circle cx="1351" cy="753" r="12.4"/><circle cx="1152" cy="731" r="12.4"/><circle cx="1248" cy="788" r="12.4"/><circle cx="1179" cy="944" r="12.4"/><circle cx="1204" cy="850" r="12.4"/><circle cx="1258" cy="890" r="12.4"/><circle cx="1077" cy="755" r="12.4"/><circle cx="1107" cy="711" r="12.4"/><circle cx="1250" cy="609" r="12.4"/><circle cx="1076" cy="819" r="12.4"/><circle cx="1116" cy="762" r="12.4"/><circle cx="1269" cy="636" r="12.4"/><circle cx="1307" cy="798" r="12.4"/><circle cx="1220" cy="771" r="12.4"/><circle cx="1311" cy="840" r="12.4"/><circle cx="1118" cy="873" r="12.4"/><circle cx="1299" cy="804" r="12.4"/><circle cx="1283" cy="650" r="12.4"/><circle cx="1037" cy="722" r="12.4"/><circle cx="1162" cy="904" r="12.4"/><circle cx="1204" cy="632" r="12.4"/><circle cx="1195" cy="553" r="12.4"/><circle cx="1054" cy="783" r="12.4"/><circle cx="1207" cy="823" r="12.4"/><circle cx="1229" cy="751" r="12.4"/><circle cx="1143" cy="927" r="12.4"/><circle cx="1202" cy="727" r="12.4"/><circle cx="1156" cy="714" r="12.4"/><circle cx="1100" cy="726" r="12.4"/><circle cx="1046" cy="725" r="12.4"/><circle cx="1246" cy="577" r="12.4"/><circle cx="1317" cy="737" r="12.4"/><circle cx="1327" cy="774" r="12.4"/><circle cx="1230" cy="948" r="12.4"/><circle cx="1292" cy="729" r="12.4"/><circle cx="1212" cy="565" r="12.4"/><circle cx="1210" cy="731" r="12.4"/><circle cx="1221" cy="979" r="12.4"/><circle cx="1162" cy="862" r="12.4"/><circle cx="1178" cy="901" r="12.4"/><circle cx="1312" cy="672" r="12.4"/><circle cx="1274" cy="682" r="12.4"/><circle cx="1195" cy="765" r="12.4"/><circle cx="1043" cy="773" r="12.4"/><circle cx="1119" cy="750" r="12.4"/><circle cx="1042" cy="722" r="12.4"/><circle cx="1156" cy="664" r="12.4"/><circle cx="1156" cy="665" r="12.4"/><circle cx="1096" cy="605" r="12.4"/><circle cx="1228" cy="809" r="12.4"/><circle cx="1193" cy="713" r="12.4"/><circle cx="1135" cy="553" r="12.4"/><circle cx="1201" cy="679" r="12.4"/><circle cx="1185" cy="694" r="12.4"/><circle cx="1050" cy="682" r="12.4"/><circle cx="1248" cy="721" r="12.4"/><circle cx="1150" cy="827" r="12.4"/><circle cx="1051" cy="780" r="12.4"/><circle cx="1138" cy="763" r="12.4"/><circle cx="1210" cy="882" r="12.4"/><circle cx="1267" cy="807" r="12.4"/><circle cx="1335" cy="761" r="12.4"/><circle cx="1039" cy="718" r="12.4"/><circle cx="1093" cy="675" r="12.4"/><circle cx="1091" cy="678" r="12.4"/><circle cx="1248" cy="904" r="12.4"/><circle cx="1167" cy="823" r="12.4"/><circle cx="1232" cy="759" r="12.4"/><circle cx="1243" cy="973" r="12.4"/><circle cx="1050" cy="671" r="12.4"/><circle cx="1272" cy="671" r="12.4"/><circle cx="1105" cy="900" r="12.4"/><circle cx="1184" cy="860" r="12.4"/><circle cx="1296" cy="710" r="12.4"/><circle cx="1078" cy="844" r="12.4"/><circle cx="1306" cy="682" r="12.4"/><circle cx="1064" cy="626" r="12.4"/><circle cx="1248" cy="625" r="12.4"/><circle cx="1276" cy="920" r="12.4"/><circle cx="1170" cy="737" r="12.4"/><circle cx="1283" cy="899" r="12.4"/><circle cx="1198" cy="949" r="12.4"/><circle cx="1208" cy="719" r="12.4"/><circle cx="1248" cy="864" r="12.4"/><circle cx="1062" cy="628" r="12.4"/><circle cx="1170" cy="937" r="12.4"/><circle cx="1202" cy="681" r="12.4"/><circle cx="1148" cy="561" r="12.4"/><circle cx="1196" cy="892" r="12.4"/><circle cx="1149" cy="677" r="12.4"/><circle cx="1191" cy="831" r="12.4"/><circle cx="1320" cy="772" r="12.4"/><circle cx="1213" cy="775" r="12.4"/><circle cx="1058" cy="729" r="12.4"/><circle cx="1260" cy="850" r="12.4"/><circle cx="1195" cy="594" r="12.4"/><circle cx="1236" cy="947" r="12.4"/><circle cx="1224" cy="893" r="12.4"/><circle cx="1281" cy="796" r="12.4"/><circle cx="1194" cy="640" r="12.4"/><circle cx="1177" cy="770" r="12.4"/><circle cx="1084" cy="572" r="12.4"/><circle cx="1130" cy="911" r="12.4"/><circle cx="1237" cy="780" r="12.4"/><circle cx="1262" cy="773" r="12.4"/><circle cx="1060" cy="666" r="12.4"/><circle cx="1181" cy="699" r="12.4"/><circle cx="1182" cy="735" r="12.4"/><circle cx="1075" cy="742" r="12.4"/><circle cx="1203" cy="624" r="12.4"/><circle cx="1251" cy="612" r="12.4"/><circle cx="1110" cy="864" r="12.4"/><circle cx="1088" cy="718" r="12.4"/><circle cx="1213" cy="748" r="12.4"/><circle cx="1167" cy="906" r="12.4"/><circle cx="1143" cy="894" r="12.4"/><circle cx="1073" cy="714" r="12.4"/><circle cx="1215" cy="947" r="12.4"/><circle cx="1272" cy="669" r="12.4"/><circle cx="1115" cy="947" r="12.4"/><circle cx="1164" cy="936" r="12.4"/><circle cx="1193" cy="647" r="12.4"/><circle cx="1126" cy="558" r="12.4"/><circle cx="1040" cy="691" r="12.4"/><circle cx="1286" cy="681" r="12.4"/><circle cx="1186" cy="739" r="12.4"/><circle cx="1064" cy="693" r="12.4"/><circle cx="1208" cy="574" r="12.4"/><circle cx="1167" cy="748" r="12.4"/><circle cx="1229" cy="890" r="12.4"/><circle cx="1264" cy="639" r="12.4"/><circle cx="1218" cy="605" r="12.4"/><circle cx="1312" cy="781" r="12.4"/><circle cx="1140" cy="634" r="12.4"/><circle cx="1268" cy="624" r="12.4"/><circle cx="1244" cy="958" r="12.4"/><circle cx="1311" cy="733" r="12.4"/><circle cx="1182" cy="820" r="12.4"/><circle cx="1115" cy="562" r="12.4"/><circle cx="1253" cy="947" r="12.4"/><circle cx="1095" cy="829" r="12.4"/><circle cx="1137" cy="657" r="12.4"/><circle cx="1204" cy="718" r="12.4"/><circle cx="1190" cy="596" r="12.4"/><circle cx="1193" cy="574" r="12.4"/><circle cx="1140" cy="794" r="12.4"/><circle cx="1182" cy="781" r="12.4"/><circle cx="1283" cy="901" r="12.4"/><circle cx="1208" cy="610" r="12.4"/><circle cx="1080" cy="578" r="12.4"/><circle cx="1105" cy="834" r="12.4"/><circle cx="1118" cy="559" r="12.4"/><circle cx="1249" cy="911" r="12.4"/><circle cx="1124" cy="748" r="12.4"/><circle cx="1242" cy="775" r="12.4"/><circle cx="1198" cy="757" r="12.4"/><circle cx="1273" cy="903" r="12.4"/><circle cx="1153" cy="633" r="12.4"/><circle cx="1156" cy="624" r="12.4"/><circle cx="1199" cy="856" r="12.4"/><circle cx="1280" cy="813" r="12.4"/><circle cx="1099" cy="764" r="12.4"/><circle cx="1285" cy="710" r="12.4"/><circle cx="1096" cy="590" r="12.4"/><circle cx="1156" cy="948" r="12.4"/><circle cx="1050" cy="610" r="12.4"/><circle cx="1291" cy="806" r="12.4"/><circle cx="1062" cy="734" r="12.4"/><circle cx="1222" cy="863" r="12.4"/><circle cx="1058" cy="682" r="12.4"/><circle cx="1159" cy="602" r="12.4"/><circle cx="1150" cy="649" r="12.4"/><circle cx="1111" cy="760" r="12.4"/><circle cx="1161" cy="680" r="12.4"/><circle cx="1043" cy="661" r="12.4"/><circle cx="1133" cy="810" r="12.4"/><circle cx="1224" cy="804" r="12.4"/><circle cx="1173" cy="803" r="12.4"/><circle cx="1178" cy="613" r="12.4"/><circle cx="1145" cy="637" r="12.4"/><circle cx="1217" cy="816" r="12.4"/><circle cx="1225" cy="903" r="12.4"/><circle cx="1204" cy="930" r="12.4"/><circle cx="1131" cy="716" r="12.4"/><circle cx="1192" cy="753" r="12.4"/><circle cx="1273" cy="917" r="12.4"/><circle cx="1211" cy="922" r="12.4"/><circle cx="1101" cy="878" r="12.4"/><circle cx="1299" cy="854" r="12.4"/><circle cx="1203" cy="841" r="12.4"/><circle cx="1190" cy="598" r="12.4"/><circle cx="1093" cy="646" r="12.4"/><circle cx="1251" cy="586" r="12.4"/><circle cx="1040" cy="634" r="12.4"/><circle cx="1357" cy="745" r="12.4"/><circle cx="1126" cy="887" r="12.4"/><circle cx="1245" cy="715" r="12.4"/><circle cx="1048" cy="726" r="12.4"/><circle cx="1155" cy="598" r="12.4"/><circle cx="1138" cy="925" r="12.4"/><circle cx="1260" cy="848" r="12.4"/><circle cx="1237" cy="744" r="12.4"/><circle cx="1122" cy="708" r="12.4"/><circle cx="1091" cy="820" r="12.4"/><circle cx="1245" cy="774" r="12.4"/><circle cx="1240" cy="862" r="12.4"/><circle cx="1181" cy="730" r="12.4"/><circle cx="1299" cy="785" r="12.4"/><circle cx="1036" cy="671" r="12.4"/><circle cx="1178" cy="635" r="12.4"/><circle cx="1138" cy="550" r="12.4"/><circle cx="1185" cy="663" r="12.4"/><circle cx="1256" cy="912" r="12.4"/><circle cx="1188" cy="932" r="12.4"/><circle cx="1314" cy="786" r="12.4"/><circle cx="1138" cy="689" r="12.4"/><circle cx="1290" cy="648" r="12.4"/><circle cx="1310" cy="812" r="12.4"/><circle cx="1079" cy="890" r="12.4"/><circle cx="1298" cy="855" r="12.4"/><circle cx="1171" cy="775" r="12.4"/><circle cx="1328" cy="780" r="12.4"/><circle cx="1338" cy="734" r="12.4"/><circle cx="1168" cy="552" r="12.4"/><circle cx="1223" cy="886" r="12.4"/><circle cx="1119" cy="614" r="12.4"/><circle cx="1229" cy="589" r="12.4"/><circle cx="1036" cy="630" r="12.4"/><circle cx="1182" cy="779" r="12.4"/><circle cx="1133" cy="788" r="12.4"/><circle cx="1100" cy="708" r="12.4"/><circle cx="1274" cy="744" r="12.4"/><circle cx="1215" cy="662" r="12.4"/><circle cx="1090" cy="659" r="12.4"/><circle cx="1175" cy="824" r="12.4"/><circle cx="1078" cy="854" r="12.4"/><circle cx="1113" cy="683" r="12.4"/><circle cx="1182" cy="687" r="12.4"/><circle cx="1203" cy="800" r="12.4"/><circle cx="1183" cy="558" r="12.4"/><circle cx="1037" cy="628" r="12.4"/><circle cx="1187" cy="731" r="12.4"/><circle cx="1174" cy="683" r="12.4"/><circle cx="1243" cy="633" r="12.4"/><circle cx="1211" cy="732" r="12.4"/><circle cx="1107" cy="704" r="12.4"/><circle cx="1249" cy="568" r="12.4"/><circle cx="1292" cy="643" r="12.4"/><circle cx="1123" cy="870" r="12.4"/><circle cx="1140" cy="695" r="12.4"/><circle cx="1265" cy="641" r="12.4"/><circle cx="1271" cy="701" r="12.4"/><circle cx="1277" cy="905" r="12.4"/><circle cx="1151" cy="700" r="12.4"/><circle cx="1238" cy="769" r="12.4"/><circle cx="1098" cy="628" r="12.4"/><circle cx="1203" cy="621" r="12.4"/><circle cx="1242" cy="881" r="12.4"/><circle cx="1196" cy="915" r="12.4"/><circle cx="1234" cy="722" r="12.4"/><circle cx="1071" cy="633" r="12.4"/><circle cx="1124" cy="681" r="12.4"/><circle cx="1127" cy="773" r="12.4"/><circle cx="1102" cy="788" r="12.4"/><circle cx="1112" cy="552" r="12.4"/><circle cx="1319" cy="805" r="12.4"/><circle cx="1120" cy="723" r="12.4"/><circle cx="1125" cy="937" r="12.4"/><circle cx="1311" cy="725" r="12.4"/><circle cx="1181" cy="694" r="12.4"/><circle cx="1068" cy="629" r="12.4"/><circle cx="1285" cy="817" r="12.4"/><circle cx="1175" cy="726" r="12.4"/><circle cx="1298" cy="744" r="12.4"/><circle cx="1108" cy="942" r="12.4"/><circle cx="1195" cy="626" r="12.4"/><circle cx="1259" cy="715" r="12.4"/><circle cx="1202" cy="934" r="12.4"/><circle cx="1259" cy="614" r="12.4"/><circle cx="1213" cy="884" r="12.4"/><circle cx="1123" cy="595" r="12.4"/><circle cx="1287" cy="798" r="12.4"/><circle cx="1200" cy="916" r="12.4"/><circle cx="1294" cy="632" r="12.4"/><circle cx="1071" cy="784" r="12.4"/><circle cx="1112" cy="943" r="12.4"/><circle cx="1145" cy="645" r="12.4"/><circle cx="1143" cy="604" r="12.4"/><circle cx="1042" cy="698" r="12.4"/><circle cx="1250" cy="946" r="12.4"/><circle cx="1276" cy="630" r="12.4"/><circle cx="1153" cy="911" r="12.4"/><circle cx="1165" cy="687" r="12.4"/><circle cx="1285" cy="649" r="12.4"/><circle cx="1151" cy="633" r="12.4"/><circle cx="1187" cy="691" r="12.4"/><circle cx="1319" cy="712" r="12.4"/><circle cx="1340" cy="742" r="12.4"/><circle cx="1133" cy="796" r="12.4"/><circle cx="1185" cy="550" r="12.4"/><circle cx="1282" cy="837" r="12.4"/><circle cx="1094" cy="693" r="12.4"/><circle cx="1248" cy="599" r="12.4"/><circle cx="1133" cy="724" r="12.4"/><circle cx="1154" cy="790" r="12.4"/><circle cx="1103" cy="870" r="12.4"/><circle cx="1106" cy="852" r="12.4"/><circle cx="1142" cy="671" r="12.4"/><circle cx="1173" cy="775" r="12.4"/><circle cx="1237" cy="691" r="12.4"/><circle cx="1075" cy="834" r="12.4"/><circle cx="1251" cy="766" r="12.4"/><circle cx="1177" cy="685" r="12.4"/><circle cx="1149" cy="692" r="12.4"/><circle cx="1238" cy="857" r="12.4"/><circle cx="1231" cy="715" r="12.4"/><circle cx="1259" cy="684" r="12.4"/><circle cx="1181" cy="806" r="12.4"/><circle cx="1244" cy="790" r="12.4"/><circle cx="1278" cy="901" r="12.4"/><circle cx="1079" cy="639" r="12.4"/><circle cx="1225" cy="920" r="12.4"/><circle cx="1128" cy="875" r="12.4"/><circle cx="1208" cy="880" r="12.4"/><circle cx="1213" cy="916" r="12.4"/><circle cx="1085" cy="821" r="12.4"/><circle cx="1178" cy="904" r="12.4"/><circle cx="1109" cy="924" r="12.4"/><circle cx="1204" cy="702" r="12.4"/><circle cx="1214" cy="569" r="12.4"/><circle cx="1108" cy="612" r="12.4"/><circle cx="1114" cy="902" r="12.4"/><circle cx="1323" cy="816" r="12.4"/><circle cx="1111" cy="916" r="12.4"/><circle cx="1251" cy="694" r="12.4"/><circle cx="1282" cy="802" r="12.4"/><circle cx="1159" cy="946" r="12.4"/><circle cx="1215" cy="598" r="12.4"/><circle cx="1039" cy="738" r="12.4"/><circle cx="1296" cy="703" r="12.4"/><circle cx="1241" cy="867" r="12.4"/><circle cx="1243" cy="790" r="12.4"/><circle cx="1298" cy="632" r="12.4"/><circle cx="1235" cy="580" r="12.4"/><circle cx="1046" cy="779" r="12.4"/><circle cx="1072" cy="843" r="12.4"/><circle cx="1244" cy="976" r="12.4"/><circle cx="1293" cy="763" r="12.4"/><circle cx="1270" cy="889" r="12.4"/><circle cx="1072" cy="583" r="12.4"/><circle cx="1135" cy="670" r="12.4"/><circle cx="1150" cy="607" r="12.4"/><circle cx="1141" cy="695" r="12.4"/><circle cx="1227" cy="876" r="12.4"/><circle cx="1293" cy="721" r="12.4"/><circle cx="1188" cy="590" r="12.4"/><circle cx="1081" cy="654" r="12.4"/><circle cx="1091" cy="918" r="12.4"/><circle cx="1199" cy="603" r="12.4"/><circle cx="1197" cy="633" r="12.4"/><circle cx="1036" cy="633" r="12.4"/><circle cx="1075" cy="604" r="12.4"/><circle cx="1239" cy="760" r="12.4"/><circle cx="1190" cy="772" r="12.4"/><circle cx="1209" cy="598" r="12.4"/><circle cx="1238" cy="611" r="12.4"/><circle cx="1186" cy="886" r="12.4"/><circle cx="1210" cy="870" r="12.4"/><circle cx="1146" cy="861" r="12.4"/><circle cx="1245" cy="858" r="12.4"/><circle cx="1322" cy="692" r="12.4"/><circle cx="1288" cy="735" r="12.4"/><circle cx="1108" cy="900" r="12.4"/><circle cx="1280" cy="815" r="12.4"/><circle cx="1184" cy="900" r="12.4"/><circle cx="1151" cy="671" r="12.4"/><circle cx="1046" cy="778" r="12.4"/><circle cx="1196" cy="602" r="12.4"/><circle cx="1142" cy="854" r="12.4"/><circle cx="1089" cy="770" r="12.4"/><circle cx="1074" cy="867" r="12.4"/><circle cx="1327" cy="695" r="12.4"/><circle cx="1146" cy="682" r="12.4"/><circle cx="1204" cy="670" r="12.4"/><circle cx="1115" cy="636" r="12.4"/><circle cx="1116" cy="784" r="12.4"/><circle cx="1265" cy="661" r="12.4"/><circle cx="1091" cy="936" r="12.4"/><circle cx="1250" cy="838" r="12.4"/><circle cx="1094" cy="701" r="12.4"/><circle cx="1177" cy="765" r="12.4"/><circle cx="1083" cy="861" r="12.4"/><circle cx="1227" cy="855" r="12.4"/><circle cx="1233" cy="922" r="12.4"/><circle cx="1218" cy="576" r="12.4"/><circle cx="1195" cy="829" r="12.4"/><circle cx="1271" cy="623" r="12.4"/><circle cx="1314" cy="749" r="12.4"/><circle cx="1308" cy="658" r="12.4"/><circle cx="1095" cy="848" r="12.4"/><circle cx="1180" cy="876" r="12.4"/><circle cx="1202" cy="628" r="12.4"/><circle cx="1256" cy="640" r="12.4"/><circle cx="1097" cy="855" r="12.4"/><circle cx="1196" cy="707" r="12.4"/><circle cx="1184" cy="931" r="12.4"/><circle cx="1351" cy="723" r="12.4"/><circle cx="1206" cy="904" r="12.4"/><circle cx="1321" cy="756" r="12.4"/><circle cx="1161" cy="889" r="12.4"/><circle cx="1256" cy="835" r="12.4"/><circle cx="1201" cy="660" r="12.4"/><circle cx="1151" cy="583" r="12.4"/><circle cx="1194" cy="818" r="12.4"/><circle cx="1220" cy="605" r="12.4"/><circle cx="1125" cy="748" r="12.4"/><circle cx="1204" cy="770" r="12.4"/><circle cx="1068" cy="784" r="12.4"/><circle cx="1360" cy="745" r="12.4"/><circle cx="1277" cy="678" r="12.4"/><circle cx="1152" cy="933" r="12.4"/><circle cx="1223" cy="681" r="12.4"/><circle cx="1261" cy="746" r="12.4"/><circle cx="1252" cy="620" r="12.4"/><circle cx="1128" cy="571" r="12.4"/><circle cx="1161" cy="677" r="12.4"/><circle cx="1189" cy="655" r="12.4"/><circle cx="1195" cy="568" r="12.4"/><circle cx="1152" cy="716" r="12.4"/><circle cx="1164" cy="876" r="12.4"/><circle cx="1205" cy="673" r="12.4"/><circle cx="1230" cy="838" r="12.4"/><circle cx="1231" cy="711" r="12.4"/><circle cx="1156" cy="558" r="12.4"/><circle cx="1113" cy="697" r="12.4"/><circle cx="1082" cy="753" r="12.4"/><circle cx="1180" cy="835" r="12.4"/><circle cx="1200" cy="921" r="12.4"/><circle cx="1189" cy="804" r="12.4"/><circle cx="1236" cy="565" r="12.4"/><circle cx="1331" cy="719" r="12.4"/><circle cx="1202" cy="684" r="12.4"/><circle cx="1256" cy="898" r="12.4"/><circle cx="1263" cy="767" r="12.4"/><circle cx="1185" cy="781" r="12.4"/><circle cx="1236" cy="657" r="12.4"/><circle cx="1096" cy="805" r="12.4"/><circle cx="1047" cy="736" r="12.4"/><circle cx="1282" cy="716" r="12.4"/><circle cx="1221" cy="879" r="12.4"/><circle cx="1125" cy="606" r="12.4"/><circle cx="1279" cy="909" r="12.4"/><circle cx="1268" cy="652" r="12.4"/><circle cx="1224" cy="750" r="12.4"/><circle cx="1106" cy="567" r="12.4"/><circle cx="1269" cy="609" r="12.4"/><circle cx="1252" cy="633" r="12.4"/><circle cx="1126" cy="930" r="12.4"/><circle cx="1224" cy="561" r="12.4"/><circle cx="1153" cy="673" r="12.4"/><circle cx="1204" cy="686" r="12.4"/><circle cx="1127" cy="768" r="12.4"/><circle cx="1151" cy="782" r="12.4"/><circle cx="1269" cy="934" r="12.4"/><circle cx="1299" cy="679" r="12.4"/><circle cx="1104" cy="733" r="12.4"/><circle cx="1220" cy="592" r="12.4"/><circle cx="1074" cy="576" r="12.4"/><circle cx="1176" cy="792" r="12.4"/><circle cx="1139" cy="838" r="12.4"/><circle cx="1210" cy="827" r="12.4"/><circle cx="1298" cy="708" r="12.4"/><circle cx="1349" cy="735" r="12.4"/><circle cx="1125" cy="850" r="12.4"/><circle cx="1201" cy="869" r="12.4"/><circle cx="1161" cy="565" r="12.4"/><circle cx="1196" cy="735" r="12.4"/><circle cx="1099" cy="904" r="12.4"/><circle cx="1201" cy="941" r="12.4"/><circle cx="1225" cy="683" r="12.4"/><circle cx="1224" cy="558" r="12.4"/><circle cx="1221" cy="589" r="12.4"/><circle cx="1076" cy="634" r="12.4"/><circle cx="1159" cy="902" r="12.4"/><circle cx="1295" cy="731" r="12.4"/><circle cx="1159" cy="777" r="12.4"/><circle cx="1276" cy="697" r="12.4"/><circle cx="1171" cy="816" r="12.4"/><circle cx="1202" cy="616" r="12.4"/><circle cx="1170" cy="874" r="12.4"/><circle cx="1205" cy="880" r="12.4"/><circle cx="1051" cy="694" r="12.4"/><circle cx="1352" cy="725" r="12.4"/><circle cx="1236" cy="917" r="12.4"/><circle cx="1289" cy="664" r="12.4"/><circle cx="1281" cy="879" r="12.4"/><circle cx="1338" cy="707" r="12.4"/><circle cx="1293" cy="687" r="12.4"/><circle cx="1049" cy="675" r="12.4"/><circle cx="1144" cy="564" r="12.4"/><circle cx="1254" cy="848" r="12.4"/><circle cx="1081" cy="840" r="12.4"/><circle cx="1199" cy="761" r="12.4"/><circle cx="1165" cy="644" r="12.4"/><circle cx="1172" cy="668" r="12.4"/><circle cx="1117" cy="723" r="12.4"/><circle cx="1064" cy="603" r="12.4"/><circle cx="1172" cy="873" r="12.4"/><circle cx="1263" cy="645" r="12.4"/><circle cx="1140" cy="591" r="12.4"/><circle cx="1173" cy="663" r="12.4"/><circle cx="1269" cy="839" r="12.4"/><circle cx="1290" cy="727" r="12.4"/><circle cx="1170" cy="704" r="12.4"/><circle cx="1210" cy="744" r="12.4"/><circle cx="1114" cy="913" r="12.4"/><circle cx="1148" cy="886" r="12.4"/><circle cx="1231" cy="576" r="12.4"/><circle cx="1215" cy="663" r="12.4"/><circle cx="1155" cy="700" r="12.4"/><circle cx="1161" cy="872" r="12.4"/><circle cx="1254" cy="964" r="12.4"/><circle cx="1194" cy="853" r="12.4"/><circle cx="1297" cy="743" r="12.4"/><circle cx="1072" cy="789" r="12.4"/><circle cx="1179" cy="579" r="12.4"/><circle cx="1226" cy="727" r="12.4"/><circle cx="1158" cy="869" r="12.4"/><circle cx="1301" cy="826" r="12.4"/><circle cx="1079" cy="718" r="12.4"/><circle cx="1289" cy="847" r="12.4"/><circle cx="1104" cy="701" r="12.4"/><circle cx="1143" cy="829" r="12.4"/><circle cx="1187" cy="801" r="12.4"/><circle cx="1164" cy="801" r="12.4"/><circle cx="1230" cy="945" r="12.4"/><circle cx="1170" cy="742" r="12.4"/><circle cx="1192" cy="635" r="12.4"/><circle cx="1150" cy="741" r="12.4"/><circle cx="1136" cy="803" r="12.4"/><circle cx="1254" cy="891" r="12.4"/><circle cx="1196" cy="651" r="12.4"/><circle cx="1218" cy="767" r="12.4"/><circle cx="1185" cy="942" r="12.4"/><circle cx="1218" cy="561" r="12.4"/><circle cx="1200" cy="783" r="12.4"/><circle cx="1108" cy="918" r="12.4"/><circle cx="1046" cy="771" r="12.4"/><circle cx="1184" cy="826" r="12.4"/><circle cx="1331" cy="688" r="12.4"/><circle cx="1269" cy="768" r="12.4"/><circle cx="1155" cy="698" r="12.4"/><circle cx="1130" cy="800" r="12.4"/><circle cx="1158" cy="783" r="12.4"/><circle cx="1108" cy="895" r="12.4"/><circle cx="1185" cy="819" r="12.4"/><circle cx="1157" cy="861" r="12.4"/><circle cx="1043" cy="680" r="12.4"/><circle cx="1309" cy="766" r="12.4"/><circle cx="1159" cy="839" r="12.4"/><circle cx="1074" cy="709" r="12.4"/><circle cx="1216" cy="953" r="12.4"/><circle cx="1291" cy="654" r="12.4"/><circle cx="1248" cy="966" r="12.4"/><circle cx="1261" cy="679" r="12.4"/><circle cx="1284" cy="756" r="12.4"/><circle cx="1256" cy="672" r="12.4"/><circle cx="1265" cy="817" r="12.4"/><circle cx="1231" cy="786" r="12.4"/><circle cx="1166" cy="798" r="12.4"/><circle cx="1177" cy="910" r="12.4"/><circle cx="1229" cy="916" r="12.4"/><circle cx="1271" cy="837" r="12.4"/><circle cx="1221" cy="632" r="12.4"/><circle cx="1224" cy="842" r="12.4"/><circle cx="1268" cy="761" r="12.4"/><circle cx="1061" cy="657" r="12.4"/><circle cx="1129" cy="910" r="12.4"/><circle cx="1160" cy="541" r="12.4"/><circle cx="1197" cy="565" r="12.4"/><circle cx="1113" cy="777" r="12.4"/><circle cx="1069" cy="613" r="12.4"/><circle cx="1211" cy="699" r="12.4"/><circle cx="1143" cy="826" r="12.4"/><circle cx="1135" cy="725" r="12.4"/><circle cx="1092" cy="638" r="12.4"/><circle cx="1281" cy="751" r="12.4"/><circle cx="1051" cy="696" r="12.4"/><circle cx="1114" cy="896" r="12.4"/><circle cx="1073" cy="815" r="12.4"/><circle cx="1084" cy="624" r="12.4"/><circle cx="1219" cy="853" r="12.4"/><circle cx="1173" cy="907" r="12.4"/><circle cx="1195" cy="938" r="12.4"/><circle cx="1171" cy="697" r="12.4"/><circle cx="1292" cy="741" r="12.4"/><circle cx="1134" cy="890" r="12.4"/><circle cx="1250" cy="724" r="12.4"/><circle cx="1162" cy="883" r="12.4"/><circle cx="1326" cy="829" r="12.4"/><circle cx="1103" cy="632" r="12.4"/><circle cx="1160" cy="919" r="12.4"/><circle cx="1216" cy="636" r="12.4"/><circle cx="1103" cy="842" r="12.4"/><circle cx="1085" cy="813" r="12.4"/><circle cx="1249" cy="794" r="12.4"/><circle cx="1275" cy="886" r="12.4"/><circle cx="1274" cy="879" r="12.4"/><circle cx="1062" cy="677" r="12.4"/><circle cx="1111" cy="878" r="12.4"/><circle cx="1209" cy="657" r="12.4"/><circle cx="1156" cy="661" r="12.4"/><circle cx="1123" cy="832" r="12.4"/><circle cx="1150" cy="776" r="12.4"/><circle cx="1105" cy="940" r="12.4"/><circle cx="1285" cy="812" r="12.4"/><circle cx="1064" cy="638" r="12.4"/><circle cx="1223" cy="747" r="12.4"/><circle cx="1058" cy="747" r="12.4"/><circle cx="1085" cy="898" r="12.4"/><circle cx="1272" cy="849" r="12.4"/><circle cx="1235" cy="581" r="12.4"/><circle cx="1124" cy="820" r="12.4"/><circle cx="1239" cy="654" r="12.4"/><circle cx="1155" cy="822" r="12.4"/><circle cx="1217" cy="816" r="12.4"/><circle cx="1223" cy="618" r="12.4"/><circle cx="1067" cy="765" r="12.4"/><circle cx="1146" cy="890" r="12.4"/><circle cx="1287" cy="632" r="12.4"/><circle cx="1222" cy="881" r="12.4"/><circle cx="1100" cy="923" r="12.4"/><circle cx="1304" cy="806" r="12.4"/><circle cx="1216" cy="858" r="12.4"/><circle cx="1108" cy="580" r="12.4"/><circle cx="1247" cy="861" r="12.4"/><circle cx="1049" cy="701" r="12.4"/><circle cx="1239" cy="666" r="12.4"/><circle cx="1132" cy="772" r="12.4"/><circle cx="1264" cy="811" r="12.4"/><circle cx="1118" cy="594" r="12.4"/><circle cx="1263" cy="761" r="12.4"/><circle cx="1167" cy="911" r="12.4"/><circle cx="1123" cy="665" r="12.4"/><circle cx="1198" cy="829" r="12.4"/><circle cx="1139" cy="951" r="12.4"/><circle cx="1209" cy="647" r="12.4"/><circle cx="1133" cy="809" r="12.4"/><circle cx="1295" cy="861" r="12.4"/><circle cx="1198" cy="825" r="12.4"/><circle cx="1244" cy="816" r="12.4"/><circle cx="1196" cy="735" r="12.4"/><circle cx="1305" cy="845" r="12.4"/><circle cx="1209" cy="854" r="12.4"/><circle cx="1202" cy="844" r="12.4"/><circle cx="1173" cy="918" r="12.4"/><circle cx="1294" cy="768" r="12.4"/><circle cx="1233" cy="598" r="12.4"/><circle cx="1235" cy="578" r="12.4"/><circle cx="1109" cy="883" r="12.4"/><circle cx="1203" cy="606" r="12.4"/><circle cx="1137" cy="853" r="12.4"/><circle cx="1171" cy="791" r="12.4"/><circle cx="1238" cy="570" r="12.4"/><circle cx="1172" cy="867" r="12.4"/><circle cx="1071" cy="586" r="12.4"/><circle cx="1176" cy="602" r="12.4"/><circle cx="1186" cy="766" r="12.4"/><circle cx="1269" cy="691" r="12.4"/><circle cx="1167" cy="814" r="12.4"/><circle cx="1225" cy="849" r="12.4"/><circle cx="1073" cy="660" r="12.4"/><circle cx="1129" cy="744" r="12.4"/><circle cx="1095" cy="683" r="12.4"/><circle cx="1194" cy="747" r="12.4"/><circle cx="1190" cy="556" r="12.4"/><circle cx="1279" cy="805" r="12.4"/><circle cx="1308" cy="808" r="12.4"/><circle cx="1163" cy="946" r="12.4"/><circle cx="1174" cy="694" r="12.4"/><circle cx="1295" cy="791" r="12.4"/><circle cx="1230" cy="663" r="12.4"/><circle cx="1101" cy="734" r="12.4"/><circle cx="1177" cy="623" r="12.4"/><circle cx="1154" cy="857" r="12.4"/><circle cx="1113" cy="776" r="12.4"/><circle cx="1134" cy="678" r="12.4"/><circle cx="1228" cy="910" r="12.4"/><circle cx="1325" cy="721" r="12.4"/><circle cx="1248" cy="588" r="12.4"/><circle cx="1277" cy="900" r="12.4"/><circle cx="1267" cy="719" r="12.4"/><circle cx="1217" cy="754" r="12.4"/><circle cx="1073" cy="674" r="12.4"/><circle cx="1170" cy="872" r="12.4"/><circle cx="1079" cy="889" r="12.4"/><circle cx="1281" cy="677" r="12.4"/><circle cx="1267" cy="841" r="12.4"/><circle cx="1246" cy="748" r="12.4"/><circle cx="1144" cy="822" r="12.4"/><circle cx="1260" cy="943" r="12.4"/><circle cx="1272" cy="818" r="12.4"/><circle cx="1278" cy="703" r="12.4"/><circle cx="1089" cy="660" r="12.4"/><circle cx="1123" cy="788" r="12.4"/><circle cx="1201" cy="581" r="12.4"/><circle cx="1193" cy="664" r="12.4"/><circle cx="1305" cy="722" r="12.4"/><circle cx="1103" cy="735" r="12.4"/><circle cx="1203" cy="718" r="12.4"/><circle cx="1286" cy="817" r="12.4"/><circle cx="1259" cy="648" r="12.4"/><circle cx="1265" cy="649" r="12.4"/><circle cx="1166" cy="880" r="12.4"/><circle cx="1186" cy="819" r="12.4"/><circle cx="1229" cy="654" r="12.4"/><circle cx="1157" cy="903" r="12.4"/><circle cx="1168" cy="761" r="12.4"/><circle cx="1133" cy="934" r="12.4"/><circle cx="1160" cy="800" r="12.4"/><circle cx="1193" cy="899" r="12.4"/><circle cx="1093" cy="852" r="12.4"/><circle cx="1209" cy="683" r="12.4"/><circle cx="1153" cy="897" r="12.4"/><circle cx="1260" cy="744" r="12.4"/><circle cx="1173" cy="837" r="12.4"/><circle cx="1206" cy="877" r="12.4"/><circle cx="1187" cy="722" r="12.4"/><circle cx="1188" cy="722" r="12.4"/><circle cx="1294" cy="720" r="12.4"/><circle cx="1218" cy="838" r="12.4"/><circle cx="1253" cy="909" r="12.4"/><circle cx="1215" cy="854" r="12.4"/><circle cx="1190" cy="714" r="12.4"/><circle cx="1095" cy="816" r="12.4"/><circle cx="1296" cy="834" r="12.4"/><circle cx="1274" cy="617" r="12.4"/><circle cx="1260" cy="793" r="12.4"/><circle cx="1210" cy="569" r="12.4"/><circle cx="1144" cy="724" r="12.4"/><circle cx="1229" cy="738" r="12.4"/><circle cx="1272" cy="641" r="12.4"/><circle cx="1170" cy="626" r="12.4"/><circle cx="1227" cy="690" r="12.4"/><circle cx="1132" cy="711" r="12.4"/><circle cx="1244" cy="801" r="12.4"/><circle cx="1154" cy="675" r="12.4"/><circle cx="1250" cy="878" r="12.4"/><circle cx="1129" cy="738" r="12.4"/><circle cx="1207" cy="794" r="12.4"/><circle cx="1157" cy="730" r="12.4"/><circle cx="1082" cy="730" r="12.4"/><circle cx="1169" cy="793" r="12.4"/><circle cx="1199" cy="879" r="12.4"/><circle cx="1222" cy="738" r="12.4"/><circle cx="1204" cy="790" r="12.4"/><circle cx="1197" cy="867" r="12.4"/><circle cx="1221" cy="705" r="12.4"/><circle cx="1114" cy="701" r="12.4"/><circle cx="1134" cy="625" r="12.4"/><circle cx="1148" cy="722" r="12.4"/><circle cx="1247" cy="715" r="12.4"/><circle cx="1129" cy="753" r="12.4"/><circle cx="1140" cy="710" r="12.4"/><circle cx="1131" cy="811" r="12.4"/><circle cx="1286" cy="702" r="12.4"/><circle cx="1230" cy="755" r="12.4"/><circle cx="1162" cy="538" r="12.4"/><circle cx="1215" cy="780" r="12.4"/><circle cx="1210" cy="845" r="12.4"/><circle cx="1181" cy="552" r="12.4"/><circle cx="1274" cy="761" r="12.4"/><circle cx="1083" cy="677" r="12.4"/><circle cx="1123" cy="758" r="12.4"/><circle cx="1273" cy="670" r="12.4"/><circle cx="1255" cy="736" r="12.4"/><circle cx="1215" cy="894" r="12.4"/><circle cx="1162" cy="836" r="12.4"/><circle cx="1104" cy="681" r="12.4"/><circle cx="1261" cy="781" r="12.4"/><circle cx="1166" cy="812" r="12.4"/><circle cx="1183" cy="880" r="12.4"/><circle cx="1165" cy="677" r="12.4"/><circle cx="1040" cy="788" r="12.4"/><circle cx="1231" cy="840" r="12.4"/><circle cx="1087" cy="692" r="12.4"/><circle cx="1231" cy="824" r="12.4"/><circle cx="1134" cy="824" r="12.4"/><circle cx="1152" cy="727" r="12.4"/><circle cx="1225" cy="736" r="12.4"/><circle cx="1132" cy="649" r="12.4"/><circle cx="1213" cy="756" r="12.4"/><circle cx="1210" cy="663" r="12.4"/><circle cx="1196" cy="770" r="12.4"/><circle cx="1276" cy="613" r="12.4"/><circle cx="1211" cy="753" r="12.4"/><circle cx="1203" cy="574" r="12.4"/><circle cx="1210" cy="699" r="12.4"/><circle cx="1073" cy="794" r="12.4"/><circle cx="1171" cy="717" r="12.4"/><circle cx="1229" cy="615" r="12.4"/><circle cx="1212" cy="841" r="12.4"/><circle cx="1090" cy="713" r="12.4"/><circle cx="1259" cy="821" r="12.4"/><circle cx="1189" cy="821" r="12.4"/><circle cx="1116" cy="841" r="12.4"/><circle cx="1136" cy="663" r="12.4"/><circle cx="1060" cy="760" r="12.4"/><circle cx="1164" cy="795" r="12.4"/><circle cx="1206" cy="776" r="12.4"/><circle cx="1105" cy="714" r="12.4"/><circle cx="1177" cy="919" r="12.4"/><circle cx="1150" cy="600" r="12.4"/><circle cx="1174" cy="883" r="12.4"/><circle cx="1123" cy="780" r="12.4"/><circle cx="1112" cy="769" r="12.4"/><circle cx="1234" cy="694" r="12.4"/><circle cx="1135" cy="564" r="12.4"/><circle cx="1101" cy="623" r="12.4"/><circle cx="1272" cy="756" r="12.4"/><circle cx="1250" cy="826" r="12.4"/><circle cx="1196" cy="894" r="12.4"/><circle cx="1125" cy="709" r="12.4"/><circle cx="1101" cy="685" r="12.4"/><circle cx="1123" cy="817" r="12.4"/><circle cx="1167" cy="800" r="12.4"/><circle cx="1219" cy="812" r="12.4"/><circle cx="1182" cy="824" r="12.4"/><circle cx="1124" cy="610" r="12.4"/><circle cx="1187" cy="705" r="12.4"/><circle cx="1155" cy="810" r="12.4"/><circle cx="1208" cy="673" r="12.4"/><circle cx="1185" cy="541" r="12.4"/><circle cx="1245" cy="554" r="12.4"/><circle cx="1148" cy="797" r="12.4"/><circle cx="1185" cy="778" r="12.4"/><circle cx="1116" cy="700" r="12.4"/><circle cx="1261" cy="684" r="12.4"/><circle cx="1148" cy="705" r="12.4"/><circle cx="1322" cy="774" r="12.4"/><circle cx="1268" cy="611" r="12.4"/><circle cx="1210" cy="877" r="12.4"/><circle cx="1168" cy="876" r="12.4"/><circle cx="1138" cy="760" r="12.4"/><circle cx="1220" cy="715" r="12.4"/><circle cx="1223" cy="680" r="12.4"/><circle cx="1117" cy="670" r="12.4"/><circle cx="1291" cy="663" r="12.4"/><circle cx="1228" cy="655" r="12.4"/><circle cx="1237" cy="667" r="12.4"/><circle cx="1215" cy="818" r="12.4"/><circle cx="1220" cy="809" r="12.4"/><circle cx="1188" cy="674" r="12.4"/><circle cx="1076" cy="737" r="12.4"/><circle cx="1186" cy="680" r="12.4"/><circle cx="1147" cy="913" r="12.4"/><circle cx="1177" cy="741" r="12.4"/><circle cx="1122" cy="741" r="12.4"/><circle cx="1217" cy="635" r="12.4"/><circle cx="1233" cy="639" r="12.4"/><circle cx="1262" cy="695" r="12.4"/><circle cx="1215" cy="854" r="12.4"/><circle cx="1211" cy="796" r="12.4"/><circle cx="1181" cy="663" r="12.4"/><circle cx="1143" cy="630" r="12.4"/><circle cx="1178" cy="737" r="12.4"/><circle cx="1096" cy="747" r="12.4"/><circle cx="1083" cy="861" r="12.4"/><circle cx="1179" cy="771" r="12.4"/><circle cx="1220" cy="643" r="12.4"/><circle cx="1106" cy="617" r="12.4"/><circle cx="1303" cy="718" r="12.4"/><circle cx="1133" cy="833" r="12.4"/><circle cx="1255" cy="774" r="12.4"/><circle cx="1256" cy="844" r="12.4"/><circle cx="1223" cy="760" r="12.4"/><circle cx="1126" cy="762" r="12.4"/><circle cx="1243" cy="656" r="12.4"/><circle cx="1173" cy="766" r="12.4"/><circle cx="1157" cy="707" r="12.4"/><circle cx="1182" cy="693" r="12.4"/><circle cx="1065" cy="759" r="12.4"/><circle cx="1157" cy="848" r="12.4"/><circle cx="1191" cy="671" r="12.4"/><circle cx="1297" cy="668" r="12.4"/><circle cx="1154" cy="727" r="12.4"/><circle cx="1220" cy="898" r="12.4"/><circle cx="1208" cy="651" r="12.4"/><circle cx="1212" cy="828" r="12.4"/><circle cx="1197" cy="788" r="12.4"/><circle cx="1179" cy="563" r="12.4"/><circle cx="1170" cy="768" r="12.4"/><circle cx="1219" cy="864" r="12.4"/><circle cx="1129" cy="588" r="12.4"/><circle cx="1162" cy="674" r="12.4"/><circle cx="1191" cy="823" r="12.4"/><circle cx="1158" cy="721" r="12.4"/><circle cx="1168" cy="737" r="12.4"/><circle cx="1149" cy="712" r="12.4"/><circle cx="1141" cy="728" r="12.4"/><circle cx="1100" cy="582" r="12.4"/><circle cx="1178" cy="868" r="12.4"/><circle cx="1109" cy="610" r="12.4"/><circle cx="1156" cy="787" r="12.4"/><circle cx="1187" cy="807" r="12.4"/><circle cx="1089" cy="752" r="12.4"/><circle cx="1208" cy="700" r="12.4"/><circle cx="1076" cy="607" r="12.4"/><circle cx="1127" cy="723" r="12.4"/><circle cx="1121" cy="880" r="12.4"/><circle cx="1201" cy="587" r="12.4"/><circle cx="1112" cy="560" r="12.4"/><circle cx="1230" cy="815" r="12.4"/><circle cx="1212" cy="613" r="12.4"/><circle cx="1123" cy="749" r="12.4"/><circle cx="1096" cy="737" r="12.4"/><circle cx="1088" cy="605" r="12.4"/><circle cx="1279" cy="819" r="12.4"/><circle cx="1203" cy="823" r="12.4"/><circle cx="1168" cy="781" r="12.4"/><circle cx="1148" cy="810" r="12.4"/><circle cx="1205" cy="752" r="12.4"/><circle cx="1257" cy="817" r="12.4"/><circle cx="1172" cy="841" r="12.4"/><circle cx="1122" cy="611" r="12.4"/><circle cx="1180" cy="630" r="12.4"/><circle cx="1183" cy="859" r="12.4"/><circle cx="1239" cy="672" r="12.4"/><circle cx="1231" cy="786" r="12.4"/><circle cx="1225" cy="791" r="12.4"/><circle cx="1200" cy="552" r="12.4"/><circle cx="1132" cy="925" r="12.4"/><circle cx="1278" cy="851" r="12.4"/><circle cx="1161" cy="943" r="12.4"/><circle cx="1133" cy="550" r="12.4"/><circle cx="1139" cy="755" r="12.4"/><circle cx="1197" cy="748" r="12.4"/><circle cx="1070" cy="852" r="12.4"/><circle cx="1159" cy="732" r="12.4"/><circle cx="1143" cy="716" r="12.4"/><circle cx="1096" cy="692" r="12.4"/><circle cx="1198" cy="906" r="12.4"/><circle cx="1220" cy="741" r="12.4"/><circle cx="1235" cy="739" r="12.4"/><circle cx="1241" cy="858" r="12.4"/><circle cx="1151" cy="757" r="12.4"/><circle cx="1116" cy="571" r="12.4"/><circle cx="1180" cy="731" r="12.4"/><circle cx="1260" cy="700" r="12.4"/><circle cx="1117" cy="814" r="12.4"/><circle cx="1211" cy="652" r="12.4"/><circle cx="1189" cy="730" r="12.4"/><circle cx="1137" cy="718" r="12.4"/><circle cx="1198" cy="788" r="12.4"/><circle cx="1236" cy="629" r="12.4"/><circle cx="1177" cy="754" r="12.4"/><circle cx="1118" cy="891" r="12.4"/><circle cx="1100" cy="912" r="12.4"/><circle cx="1117" cy="801" r="12.4"/><circle cx="1204" cy="768" r="12.4"/><circle cx="1201" cy="721" r="12.4"/><circle cx="1149" cy="887" r="12.4"/><circle cx="1225" cy="699" r="12.4"/><circle cx="1302" cy="749" r="12.4"/><circle cx="1210" cy="587" r="12.4"/><circle cx="1221" cy="792" r="12.4"/><circle cx="1243" cy="707" r="12.4"/><circle cx="1229" cy="688" r="12.4"/><circle cx="1179" cy="730" r="12.4"/><circle cx="1159" cy="615" r="12.4"/><circle cx="1112" cy="774" r="12.4"/><circle cx="1187" cy="521" r="12.4"/><circle cx="1197" cy="516" r="12.4"/><circle cx="1207" cy="515" r="12.4"/><circle cx="1190" cy="542" r="12.4"/><circle cx="1060" cy="549" r="12.4"/><circle cx="1071" cy="553" r="12.4"/><circle cx="1276" cy="574" r="12.4"/><circle cx="1299" cy="582" r="12.4"/><circle cx="1308" cy="571" r="12.4"/><circle cx="1363" cy="563" r="12.4"/><circle cx="1341" cy="599" r="12.4"/><circle cx="1403" cy="603" r="12.4"/><circle cx="1481" cy="616" r="12.4"/><circle cx="1363" cy="631" r="12.4"/><circle cx="1337" cy="642" r="12.4"/><circle cx="1337" cy="665" r="12.4"/><circle cx="1349" cy="682" r="12.4"/><circle cx="1361" cy="718" r="12.4"/><circle cx="1366" cy="751" r="12.4"/><circle cx="1352" cy="743" r="12.4"/><circle cx="1344" cy="760" r="12.4"/><circle cx="1408" cy="726" r="12.4"/><circle cx="1423" cy="722" r="12.4"/><circle cx="1411" cy="747" r="12.4"/><circle cx="1466" cy="743" r="12.4"/><circle cx="1481" cy="790" r="12.4"/><circle cx="1346" cy="788" r="12.4"/><circle cx="1378" cy="793" r="12.4"/><circle cx="1382" cy="796" r="12.4"/><circle cx="1396" cy="817" r="12.4"/><circle cx="1443" cy="845" r="12.4"/><circle cx="1371" cy="843" r="12.4"/><circle cx="1394" cy="848" r="12.4"/><circle cx="1352" cy="853" r="12.4"/><circle cx="1359" cy="870" r="12.4"/><circle cx="1371" cy="869" r="12.4"/><circle cx="1401" cy="865" r="12.4"/><circle cx="1397" cy="874" r="12.4"/><circle cx="1396" cy="883" r="12.4"/><circle cx="1387" cy="883" r="12.4"/><circle cx="1366" cy="889" r="12.4"/><circle cx="1349" cy="897" r="12.4"/><circle cx="1327" cy="822" r="12.4"/><circle cx="1323" cy="846" r="12.4"/><circle cx="1311" cy="865" r="12.4"/><circle cx="1428" cy="903" r="12.4"/><circle cx="1444" cy="921" r="12.4"/><circle cx="1456" cy="923" r="12.4"/><circle cx="1454" cy="933" r="12.4"/><circle cx="1447" cy="941" r="12.4"/><circle cx="1414" cy="933" r="12.4"/><circle cx="1407" cy="949" r="12.4"/><circle cx="1372" cy="960" r="12.4"/><circle cx="1326" cy="933" r="12.4"/><circle cx="1325" cy="952" r="12.4"/><circle cx="1323" cy="964" r="12.4"/><circle cx="1297" cy="931" r="12.4"/><circle cx="1294" cy="889" r="12.4"/><circle cx="1346" cy="996" r="12.4"/><circle cx="1435" cy="987" r="12.4"/><circle cx="1455" cy="989" r="12.4"/><circle cx="1395" cy="1009" r="12.4"/><circle cx="1442" cy="1012" r="12.4"/><circle cx="1456" cy="1009" r="12.4"/><circle cx="1416" cy="1032" r="12.4"/><circle cx="1365" cy="1043" r="12.4"/><circle cx="1401" cy="1042" r="12.4"/><circle cx="1403" cy="1058" r="12.4"/><circle cx="1408" cy="1060" r="12.4"/><circle cx="1434" cy="1069" r="12.4"/><circle cx="1460" cy="1071" r="12.4"/><circle cx="1092" cy="974" r="12.4"/><circle cx="1111" cy="983" r="12.4"/><circle cx="1128" cy="992" r="12.4"/><circle cx="1104" cy="1001" r="12.4"/><circle cx="1092" cy="1014" r="12.4"/><circle cx="1062" cy="881" r="12.4"/><circle cx="1038" cy="900" r="12.4"/><circle cx="1062" cy="900" r="12.4"/><circle cx="1052" cy="832" r="12.4"/><circle cx="1024" cy="817" r="12.4"/><circle cx="1035" cy="820" r="12.4"/><circle cx="1189" cy="964" r="12.4"/><circle cx="1262" cy="990" r="12.4"/><circle cx="1214" cy="1009" r="12.4"/><circle cx="1218" cy="1014" r="12.4"/><circle cx="1297" cy="1000" r="12.4"/><circle cx="1294" cy="1016" r="12.4"/><circle cx="1289" cy="1033" r="12.4"/><circle cx="1266" cy="1031" r="12.4"/><circle cx="1248" cy="1033" r="12.4"/><circle cx="1232" cy="1029" r="12.4"/><circle cx="1189" cy="1035" r="12.4"/><circle cx="1149" cy="960" r="12.4"/><circle cx="1166" cy="959" r="12.4"/><circle cx="1114" cy="960" r="12.4"/><circle cx="1300" cy="1324" r="12.4"/><circle cx="1388" cy="1174" r="12.4"/><circle cx="1271" cy="1101" r="12.4"/><circle cx="1597" cy="666" r="12.4"/><circle cx="1612" cy="666" r="12.4"/><circle cx="1622" cy="638" r="12.4"/><circle cx="1605" cy="702" r="12.4"/><circle cx="1651" cy="722" r="12.4"/><circle cx="1653" cy="724" r="12.4"/><circle cx="1650" cy="788" r="12.4"/><circle cx="1500" cy="925" r="12.4"/><circle cx="1511" cy="899" r="12.4"/><circle cx="1530" cy="900" r="12.4"/><circle cx="1541" cy="908" r="12.4"/></g>
<path class="tk" d="M276 381.1h23M276 515.8h23M276 650.6h23M276 785.3h23M276 920h23M276 1054.7h23M276 1189.5h23M276 1324.2h23M407 1458.9v-22.7M538 1458.9v-22.7M669 1458.9v-22.7M800 1458.9v-22.7M931 1458.9v-22.7M1062 1458.9v-22.7M1193 1458.9v-22.7M1324 1458.9v-22.7M1455 1458.9v-22.7M1586 1458.9v-22.7M1717 1458.9v-22.7"/>
<path class="mtk" d="M276 340.6h11.7M276 316.8h11.7M276 300h11.7M276 287h11.7M276 276.3h11.7M276 267.3h11.7M276 259.5h11.7M276 252.6h11.7M276 475.3h11.7M276 451.6h11.7M276 434.7h11.7M276 421.7h11.7M276 411h11.7M276 402h11.7M276 394.2h11.7M276 387.3h11.7M276 610h11.7M276 586.3h11.7M276 569.5h11.7M276 556.4h11.7M276 545.7h11.7M276 536.7h11.7M276 528.9h11.7M276 522h11.7M276 744.7h11.7M276 721h11.7M276 704.2h11.7M276 691.1h11.7M276 680.5h11.7M276 671.4h11.7M276 663.6h11.7M276 656.7h11.7M276 879.5h11.7M276 855.7h11.7M276 838.9h11.7M276 825.8h11.7M276 815.2h11.7M276 806.2h11.7M276 798.3h11.7M276 791.5h11.7M276 1014.2h11.7M276 990.5h11.7M276 973.6h11.7M276 960.6h11.7M276 949.9h11.7M276 940.9h11.7M276 933.1h11.7M276 926.2h11.7M276 1148.9h11.7M276 1125.2h11.7M276 1108.3h11.7M276 1095.3h11.7M276 1084.6h11.7M276 1075.6h11.7M276 1067.8h11.7M276 1060.9h11.7M276 1283.6h11.7M276 1259.9h11.7M276 1243.1h11.7M276 1230h11.7M276 1219.3h11.7M276 1210.3h11.7M276 1202.5h11.7M276 1195.6h11.7M276 1418.3h11.7M276 1394.6h11.7M276 1377.8h11.7M276 1364.7h11.7M276 1354.1h11.7M276 1345h11.7M276 1337.2h11.7M276 1330.3h11.7M341.5 1458.9v-11.1M472.5 1458.9v-11.1M603.5 1458.9v-11.1M734.5 1458.9v-11.1M865.5 1458.9v-11.1M996.5 1458.9v-11.1M1127.5 1458.9v-11.1M1258.5 1458.9v-11.1M1389.5 1458.9v-11.1M1520.5 1458.9v-11.1M1651.5 1458.9v-11.1M1782.5 1458.9v-11.1"/>
<rect class="fr" x="276" y="246.4" width="1572" height="1212.5"/>
<text class="tl" text-anchor="middle" x="276.9" y="1522.5">1</text>
<text class="tl" text-anchor="middle" x="407.9" y="1522.5">2</text>
<text class="tl" text-anchor="middle" x="538.9" y="1522.5">3</text>
<text class="tl" text-anchor="middle" x="669.9" y="1522.5">4</text>
<text class="tl" text-anchor="middle" x="800.9" y="1522.5">5</text>
<text class="tl" text-anchor="middle" x="931.9" y="1522.5">6</text>
<text class="tl" text-anchor="middle" x="1062.8" y="1522.5">7</text>
<text class="tl" text-anchor="middle" x="1193.8" y="1522.5">8</text>
<text class="tl" text-anchor="middle" x="1324.8" y="1522.5">9</text>
<text class="tl" text-anchor="middle" x="1458" y="1522.5">10</text>
<text class="tl" text-anchor="middle" x="1589" y="1522.5">11</text>
<text class="tl" text-anchor="middle" x="1720" y="1522.5">12</text>
<text class="tl" text-anchor="middle" x="1851" y="1522.5">13</text>
<text class="tl" x="183.9" y="265.5">10<tspan class="sp" dy="-25.2">6</tspan></text>
<text class="tl" x="183.9" y="400.2">10<tspan class="sp" dy="-25.2">5</tspan></text>
<text class="tl" x="183.9" y="534.9">10<tspan class="sp" dy="-25.2">4</tspan></text>
<text class="tl" x="183.9" y="669.7">10<tspan class="sp" dy="-25.2">3</tspan></text>
<text class="tl" x="183.9" y="804.4">10<tspan class="sp" dy="-25.2">2</tspan></text>
<text class="tl" x="183.9" y="939.1">10<tspan class="sp" dy="-25.2">1</tspan></text>
<text class="tl" x="183.9" y="1073.8">10<tspan class="sp" dy="-25.2">0</tspan></text>
<text class="tl" x="183.9" y="1208.6">10<tspan class="sp" dy="-25.2">-1</tspan></text>
<text class="tl" x="183.9" y="1343.3">10<tspan class="sp" dy="-25.2">-2</tspan></text>
<text class="tl" x="183.9" y="1478">10<tspan class="sp" dy="-25.2">-3</tspan></text>
<text class="al" text-anchor="middle" x="1063.2" y="1610.3">pH</text>
<text class="al" text-anchor="middle" transform="translate(122.4 838.7) rotate(-90)">SO<tspan class="sb" dy="13">4</tspan><tspan class="sb" dy="-40">2-</tspan><tspan dy="27"> (mg/L)</tspan></text>
<text class="tag" x="47" y="273.3">(a)</text>
<rect class="hbl" x="276" y="223.3" width="131" height="2"/><rect class="hbl" x="407" y="193.1" width="131" height="32.2"/><rect class="hgr" x="407" y="169.4" width="131" height="23.7"/><rect class="hbl" x="538" y="203.7" width="131" height="21.6"/><rect class="hgr" x="538" y="178.1" width="131" height="25.6"/><rect class="hbl" x="669" y="220.3" width="131" height="5"/><rect class="hgr" x="669" y="208.8" width="131" height="11.5"/><rect class="hbl" x="800" y="216.3" width="131" height="9"/><rect class="hgr" x="800" y="193.9" width="131" height="22.4"/><rect class="hbl" x="931" y="207.3" width="131" height="18"/><rect class="hgr" x="931" y="178.9" width="131" height="28.4"/><rect class="hbl" x="1062" y="184" width="131" height="41.3"/><rect class="hgr" x="1062" y="48.3" width="131" height="135.7"/><rect class="hbl" x="1193" y="203.7" width="131" height="21.6"/><rect class="hgr" x="1193" y="113.4" width="131" height="90.3"/><rect class="hbl" x="1324" y="224.1" width="131" height="1.2"/><rect class="hgr" x="1324" y="214" width="131" height="10.1"/><rect class="hgr" x="1455" y="223.7" width="131" height="1.2"/><path class="hl" d="M1586 225.3h131"/><path class="hl" d="M1717 225.3h131"/><path class="hl hr" d="M1864.6 246.4v134.7"/><rect class="hbl" x="1864.6" y="381.1" width="25.5" height="134.7"/><rect class="hgr" x="1890.1" y="381.1" width="2" height="134.7"/><rect class="hbl" x="1864.6" y="515.8" width="61.8" height="134.7"/><rect class="hgr" x="1926.4" y="515.8" width="147.3" height="134.7"/><rect class="hbl" x="1864.6" y="650.6" width="66.3" height="134.7"/><rect class="hgr" x="1930.9" y="650.6" width="182.2" height="134.7"/><rect class="hbl" x="1864.6" y="785.3" width="41.1" height="134.7"/><rect class="hgr" x="1905.7" y="785.3" width="103.3" height="134.7"/><rect class="hbl" x="1864.6" y="920" width="6.2" height="134.7"/><rect class="hgr" x="1870.8" y="920" width="20.8" height="134.7"/><rect class="hbl" x="1864.6" y="1054.7" width="2.4" height="134.7"/><path class="hl hr" d="M1864.6 1189.5v134.7"/>
</g>
<g id="panel-b">
<path class="grid" d="M2500.6 246.4V1458.9M2631.6 246.4V1458.9M2762.6 246.4V1458.9M2893.6 246.4V1458.9M3024.6 246.4V1458.9M3155.6 246.4V1458.9M3286.6 246.4V1458.9M3417.6 246.4V1458.9M3548.6 246.4V1458.9M3679.6 246.4V1458.9M3810.6 246.4V1458.9M2369.6 347.4H3941.6M2369.6 448.5H3941.6M2369.6 549.5H3941.6M2369.6 650.6H3941.6M2369.6 751.6H3941.6M2369.6 852.6H3941.6M2369.6 953.7H3941.6M2369.6 1054.7H3941.6M2369.6 1155.8H3941.6M2369.6 1256.8H3941.6M2369.6 1357.9H3941.6"/>
<g class="pb"><circle cx="2395" cy="473" r="12.4"/><circle cx="2428" cy="459" r="12.4"/><circle cx="2464" cy="455" r="12.4"/><circle cx="2500" cy="446" r="12.4"/><circle cx="2501" cy="450" r="12.4"/><circle cx="2534" cy="422" r="12.4"/><circle cx="2500" cy="477" r="12.4"/><circle cx="2505" cy="488" r="12.4"/><circle cx="2513" cy="486" r="12.4"/><circle cx="2513" cy="495" r="12.4"/><circle cx="2448" cy="533" r="12.4"/><circle cx="2474" cy="573" r="12.4"/><circle cx="2434" cy="588" r="12.4"/><circle cx="2696" cy="451" r="12.4"/><circle cx="2696" cy="474" r="12.4"/><circle cx="2771" cy="477" r="12.4"/><circle cx="2632" cy="485" r="12.4"/><circle cx="2632" cy="496" r="12.4"/><circle cx="2566" cy="485" r="12.4"/><circle cx="2568" cy="491" r="12.4"/><circle cx="2591" cy="498" r="12.4"/><circle cx="2507" cy="693" r="12.4"/><circle cx="2544" cy="697" r="12.4"/><circle cx="2500" cy="612" r="12.4"/><circle cx="2589" cy="598" r="12.4"/><circle cx="2507" cy="533" r="12.4"/><circle cx="2581" cy="619" r="12.4"/><circle cx="2543" cy="509" r="12.4"/><circle cx="2519" cy="565" r="12.4"/><circle cx="2577" cy="546" r="12.4"/><circle cx="2531" cy="554" r="12.4"/><circle cx="2541" cy="528" r="12.4"/><circle cx="2549" cy="568" r="12.4"/><circle cx="2599" cy="536" r="12.4"/><circle cx="2563" cy="507" r="12.4"/><circle cx="2576" cy="554" r="12.4"/><circle cx="2528" cy="563" r="12.4"/><circle cx="2571" cy="535" r="12.4"/><circle cx="2601" cy="603" r="12.4"/><circle cx="2509" cy="586" r="12.4"/><circle cx="2536" cy="602" r="12.4"/><circle cx="2551" cy="566" r="12.4"/><circle cx="2553" cy="530" r="12.4"/><circle cx="2539" cy="530" r="12.4"/><circle cx="2522" cy="491" r="12.4"/><circle cx="2486" cy="544" r="12.4"/><circle cx="2583" cy="578" r="12.4"/><circle cx="2546" cy="530" r="12.4"/><circle cx="2593" cy="497" r="12.4"/><circle cx="2525" cy="587" r="12.4"/><circle cx="2517" cy="580" r="12.4"/><circle cx="2577" cy="544" r="12.4"/><circle cx="2560" cy="555" r="12.4"/><circle cx="2506" cy="572" r="12.4"/><circle cx="2484" cy="556" r="12.4"/><circle cx="2571" cy="606" r="12.4"/><circle cx="2494" cy="554" r="12.4"/><circle cx="2561" cy="575" r="12.4"/><circle cx="2534" cy="609" r="12.4"/><circle cx="2545" cy="576" r="12.4"/><circle cx="2611" cy="565" r="12.4"/><circle cx="2536" cy="518" r="12.4"/><circle cx="2505" cy="512" r="12.4"/><circle cx="2583" cy="529" r="12.4"/><circle cx="2562" cy="517" r="12.4"/><circle cx="2534" cy="584" r="12.4"/><circle cx="2553" cy="536" r="12.4"/><circle cx="2610" cy="567" r="12.4"/><circle cx="2534" cy="511" r="12.4"/><circle cx="2546" cy="544" r="12.4"/><circle cx="2555" cy="590" r="12.4"/><circle cx="2530" cy="575" r="12.4"/><circle cx="2577" cy="562" r="12.4"/><circle cx="2527" cy="513" r="12.4"/><circle cx="2487" cy="567" r="12.4"/><circle cx="2569" cy="554" r="12.4"/><circle cx="2554" cy="487" r="12.4"/><circle cx="2565" cy="509" r="12.4"/><circle cx="2513" cy="594" r="12.4"/><circle cx="2551" cy="524" r="12.4"/><circle cx="2516" cy="560" r="12.4"/><circle cx="2543" cy="551" r="12.4"/><circle cx="2592" cy="549" r="12.4"/><circle cx="2482" cy="513" r="12.4"/><circle cx="2516" cy="550" r="12.4"/><circle cx="2555" cy="540" r="12.4"/><circle cx="2560" cy="562" r="12.4"/><circle cx="2583" cy="551" r="12.4"/><circle cx="2609" cy="602" r="12.4"/><circle cx="2528" cy="544" r="12.4"/><circle cx="2512" cy="559" r="12.4"/><circle cx="2521" cy="567" r="12.4"/><circle cx="2563" cy="574" r="12.4"/><circle cx="2522" cy="613" r="12.4"/><circle cx="2533" cy="557" r="12.4"/><circle cx="2500" cy="487" r="12.4"/><circle cx="2529" cy="486" r="12.4"/><circle cx="2582" cy="546" r="12.4"/><circle cx="2606" cy="563" r="12.4"/><circle cx="2588" cy="603" r="12.4"/><circle cx="2565" cy="617" r="12.4"/><circle cx="2544" cy="569" r="12.4"/><circle cx="2530" cy="587" r="12.4"/><circle cx="2560" cy="530" r="12.4"/><circle cx="2502" cy="572" r="12.4"/><circle cx="2557" cy="546" r="12.4"/><circle cx="2502" cy="542" r="12.4"/><circle cx="2545" cy="620" r="12.4"/><circle cx="2499" cy="565" r="12.4"/><circle cx="2611" cy="564" r="12.4"/><circle cx="2573" cy="541" r="12.4"/><circle cx="2558" cy="563" r="12.4"/><circle cx="2611" cy="569" r="12.4"/><circle cx="2531" cy="514" r="12.4"/><circle cx="2537" cy="554" r="12.4"/><circle cx="2510" cy="532" r="12.4"/><circle cx="2510" cy="565" r="12.4"/><circle cx="2531" cy="580" r="12.4"/><circle cx="2583" cy="557" r="12.4"/><circle cx="2567" cy="617" r="12.4"/><circle cx="2546" cy="493" r="12.4"/><circle cx="2523" cy="574" r="12.4"/><circle cx="2526" cy="597" r="12.4"/><circle cx="2585" cy="568" r="12.4"/><circle cx="2492" cy="580" r="12.4"/><circle cx="2574" cy="498" r="12.4"/><circle cx="2488" cy="525" r="12.4"/><circle cx="2487" cy="503" r="12.4"/><circle cx="2508" cy="507" r="12.4"/><circle cx="2522" cy="605" r="12.4"/><circle cx="2548" cy="555" r="12.4"/><circle cx="2544" cy="592" r="12.4"/><circle cx="2535" cy="576" r="12.4"/><circle cx="2530" cy="557" r="12.4"/><circle cx="2675" cy="546" r="12.4"/><circle cx="2671" cy="554" r="12.4"/><circle cx="2656" cy="584" r="12.4"/><circle cx="2667" cy="553" r="12.4"/><circle cx="2700" cy="560" r="12.4"/><circle cx="2675" cy="595" r="12.4"/><circle cx="2701" cy="584" r="12.4"/><circle cx="2688" cy="585" r="12.4"/><circle cx="2672" cy="580" r="12.4"/><circle cx="2706" cy="558" r="12.4"/><circle cx="2640" cy="573" r="12.4"/><circle cx="2673" cy="574" r="12.4"/><circle cx="2659" cy="573" r="12.4"/><circle cx="2727" cy="571" r="12.4"/><circle cx="2717" cy="554" r="12.4"/><circle cx="2710" cy="567" r="12.4"/><circle cx="2714" cy="570" r="12.4"/><circle cx="2670" cy="553" r="12.4"/><circle cx="2712" cy="565" r="12.4"/><circle cx="2697" cy="572" r="12.4"/><circle cx="2666" cy="571" r="12.4"/><circle cx="2690" cy="535" r="12.4"/><circle cx="2668" cy="563" r="12.4"/><circle cx="2688" cy="579" r="12.4"/><circle cx="2657" cy="561" r="12.4"/><circle cx="2694" cy="535" r="12.4"/><circle cx="2714" cy="567" r="12.4"/><circle cx="2675" cy="537" r="12.4"/><circle cx="2680" cy="570" r="12.4"/><circle cx="2692" cy="544" r="12.4"/><circle cx="2653" cy="552" r="12.4"/><circle cx="2684" cy="550" r="12.4"/><circle cx="2673" cy="579" r="12.4"/><circle cx="2665" cy="586" r="12.4"/><circle cx="2685" cy="560" r="12.4"/><circle cx="2658" cy="661" r="12.4"/><circle cx="2589" cy="612" r="12.4"/><circle cx="2612" cy="664" r="12.4"/><circle cx="2656" cy="647" r="12.4"/><circle cx="2565" cy="572" r="12.4"/><circle cx="2624" cy="663" r="12.4"/><circle cx="2643" cy="601" r="12.4"/><circle cx="2573" cy="705" r="12.4"/><circle cx="2583" cy="574" r="12.4"/><circle cx="2685" cy="678" r="12.4"/><circle cx="2615" cy="659" r="12.4"/><circle cx="2596" cy="708" r="12.4"/><circle cx="2585" cy="621" r="12.4"/><circle cx="2580" cy="580" r="12.4"/><circle cx="2674" cy="730" r="12.4"/><circle cx="2587" cy="609" r="12.4"/><circle cx="2643" cy="622" r="12.4"/><circle cx="2608" cy="634" r="12.4"/><circle cx="2595" cy="716" r="12.4"/><circle cx="2542" cy="595" r="12.4"/><circle cx="2588" cy="619" r="12.4"/><circle cx="2643" cy="601" r="12.4"/><circle cx="2620" cy="611" r="12.4"/><circle cx="2657" cy="629" r="12.4"/><circle cx="2593" cy="545" r="12.4"/><circle cx="2625" cy="598" r="12.4"/><circle cx="2650" cy="664" r="12.4"/><circle cx="2647" cy="703" r="12.4"/><circle cx="2609" cy="588" r="12.4"/><circle cx="2617" cy="651" r="12.4"/><circle cx="2574" cy="691" r="12.4"/><circle cx="2668" cy="642" r="12.4"/><circle cx="2620" cy="669" r="12.4"/><circle cx="2642" cy="600" r="12.4"/><circle cx="2633" cy="590" r="12.4"/><circle cx="2637" cy="668" r="12.4"/><circle cx="2571" cy="694" r="12.4"/><circle cx="2591" cy="544" r="12.4"/><circle cx="2582" cy="611" r="12.4"/><circle cx="2582" cy="676" r="12.4"/><circle cx="2580" cy="654" r="12.4"/><circle cx="2564" cy="639" r="12.4"/><circle cx="2684" cy="649" r="12.4"/><circle cx="2535" cy="604" r="12.4"/><circle cx="2578" cy="550" r="12.4"/><circle cx="2645" cy="631" r="12.4"/><circle cx="2607" cy="647" r="12.4"/><circle cx="2565" cy="583" r="12.4"/><circle cx="2628" cy="680" r="12.4"/><circle cx="2573" cy="538" r="12.4"/><circle cx="2596" cy="648" r="12.4"/><circle cx="2581" cy="736" r="12.4"/><circle cx="2566" cy="654" r="12.4"/><circle cx="2582" cy="707" r="12.4"/><circle cx="2547" cy="603" r="12.4"/><circle cx="2631" cy="558" r="12.4"/><circle cx="2597" cy="680" r="12.4"/><circle cx="2595" cy="537" r="12.4"/><circle cx="2627" cy="620" r="12.4"/><circle cx="2644" cy="659" r="12.4"/><circle cx="2588" cy="622" r="12.4"/><circle cx="2612" cy="599" r="12.4"/><circle cx="2583" cy="602" r="12.4"/><circle cx="2624" cy="681" r="12.4"/><circle cx="2549" cy="660" r="12.4"/><circle cx="2644" cy="727" r="12.4"/><circle cx="2600" cy="723" r="12.4"/><circle cx="2599" cy="676" r="12.4"/><circle cx="2621" cy="656" r="12.4"/><circle cx="2580" cy="589" r="12.4"/><circle cx="2601" cy="634" r="12.4"/><circle cx="2580" cy="567" r="12.4"/><circle cx="2573" cy="678" r="12.4"/><circle cx="2641" cy="620" r="12.4"/><circle cx="2556" cy="589" r="12.4"/><circle cx="2596" cy="689" r="12.4"/><circle cx="2588" cy="559" r="12.4"/><circle cx="2570" cy="673" r="12.4"/><circle cx="2647" cy="742" r="12.4"/><circle cx="2665" cy="639" r="12.4"/><circle cx="2586" cy="661" r="12.4"/><circle cx="2555" cy="614" r="12.4"/><circle cx="2656" cy="668" r="12.4"/><circle cx="2667" cy="724" r="12.4"/><circle cx="2605" cy="693" r="12.4"/><circle cx="2616" cy="660" r="12.4"/><circle cx="2625" cy="672" r="12.4"/><circle cx="2535" cy="577" r="12.4"/><circle cx="2619" cy="670" r="12.4"/><circle cx="2589" cy="642" r="12.4"/><circle cx="2570" cy="713" r="12.4"/><circle cx="2649" cy="725" r="12.4"/><circle cx="2591" cy="641" r="12.4"/><circle cx="2632" cy="721" r="12.4"/><circle cx="2636" cy="660" r="12.4"/><circle cx="2533" cy="609" r="12.4"/><circle cx="2550" cy="647" r="12.4"/><circle cx="2641" cy="637" r="12.4"/><circle cx="2588" cy="734" r="12.4"/><circle cx="2656" cy="646" r="12.4"/><circle cx="2642" cy="566" r="12.4"/><circle cx="2583" cy="631" r="12.4"/><circle cx="2620" cy="628" r="12.4"/><circle cx="2667" cy="603" r="12.4"/><circle cx="2581" cy="574" r="12.4"/><circle cx="2639" cy="684" r="12.4"/><circle cx="2560" cy="577" r="12.4"/><circle cx="2574" cy="724" r="12.4"/><circle cx="2642" cy="651" r="12.4"/><circle cx="2644" cy="663" r="12.4"/><circle cx="3114" cy="580" r="12.4"/><circle cx="3114" cy="616" r="12.4"/><circle cx="2935" cy="596" r="12.4"/><circle cx="2935" cy="624" r="12.4"/><circle cx="2885" cy="632" r="12.4"/><circle cx="2898" cy="641" r="12.4"/><circle cx="2998" cy="632" r="12.4"/><circle cx="3005" cy="643" r="12.4"/><circle cx="3019" cy="646" r="12.4"/><circle cx="3026" cy="650" r="12.4"/><circle cx="3034" cy="636" r="12.4"/><circle cx="2951" cy="643" r="12.4"/><circle cx="3103" cy="664" r="12.4"/><circle cx="3091" cy="643" r="12.4"/><circle cx="2801" cy="690" r="12.4"/><circle cx="2805" cy="691" r="12.4"/><circle cx="2814" cy="686" r="12.4"/><circle cx="2891" cy="679" r="12.4"/><circle cx="2739" cy="661" r="12.4"/><circle cx="2768" cy="678" r="12.4"/><circle cx="2744" cy="688" r="12.4"/><circle cx="2696" cy="711" r="12.4"/><circle cx="2741" cy="745" r="12.4"/><circle cx="2750" cy="746" r="12.4"/><circle cx="2969" cy="695" r="12.4"/><circle cx="2580" cy="757" r="12.4"/><circle cx="2587" cy="784" r="12.4"/><circle cx="2592" cy="784" r="12.4"/><circle cx="2641" cy="784" r="12.4"/><circle cx="2632" cy="810" r="12.4"/><circle cx="2680" cy="868" r="12.4"/><circle cx="2605" cy="886" r="12.4"/><circle cx="2742" cy="894" r="12.4"/><circle cx="2736" cy="936" r="12.4"/><circle cx="2744" cy="962" r="12.4"/><circle cx="2725" cy="993" r="12.4"/><circle cx="2700" cy="1006" r="12.4"/><circle cx="3239" cy="1054" r="12.4"/><circle cx="3230" cy="1054" r="12.4"/><circle cx="3097" cy="1054" r="12.4"/><circle cx="3132" cy="1054" r="12.4"/><circle cx="3089" cy="1054" r="12.4"/><circle cx="3210" cy="1054" r="12.4"/><circle cx="3162" cy="1054" r="12.4"/><circle cx="3115" cy="1054" r="12.4"/><circle cx="3147" cy="1054" r="12.4"/><circle cx="3255" cy="1054" r="12.4"/><circle cx="3158" cy="1054" r="12.4"/><circle cx="3217" cy="1054" r="12.4"/><circle cx="3203" cy="1054" r="12.4"/><circle cx="3169" cy="1054" r="12.4"/><circle cx="3187" cy="1054" r="12.4"/><circle cx="3144" cy="1054" r="12.4"/><circle cx="3108" cy="1054" r="12.4"/><circle cx="3173" cy="1054" r="12.4"/><circle cx="3131" cy="1054" r="12.4"/><circle cx="3137" cy="1054" r="12.4"/><circle cx="3105" cy="1054" r="12.4"/><circle cx="3266" cy="1054" r="12.4"/><circle cx="3158" cy="1054" r="12.4"/><circle cx="3108" cy="1054" r="12.4"/><circle cx="3071" cy="1054" r="12.4"/><circle cx="3111" cy="1054" r="12.4"/><circle cx="3256" cy="1054" r="12.4"/><circle cx="3139" cy="1054" r="12.4"/><circle cx="3211" cy="1054" r="12.4"/><circle cx="3115" cy="1054" r="12.4"/><circle cx="3208" cy="1054" r="12.4"/><circle cx="3164" cy="1054" r="12.4"/><circle cx="3227" cy="1054" r="12.4"/><circle cx="3181" cy="1054" r="12.4"/><circle cx="3147" cy="1054" r="12.4"/><circle cx="3126" cy="1054" r="12.4"/><circle cx="3195" cy="1054" r="12.4"/><circle cx="3248" cy="1054" r="12.4"/><circle cx="3217" cy="1054" r="12.4"/><circle cx="3170" cy="1054" r="12.4"/><circle cx="3137" cy="1054" r="12.4"/><circle cx="3261" cy="1054" r="12.4"/><circle cx="3251" cy="1054" r="12.4"/><circle cx="3096" cy="1054" r="12.4"/><circle cx="3214" cy="1054" r="12.4"/><circle cx="2774" cy="1054" r="12.4"/><circle cx="2775" cy="1054" r="12.4"/><circle cx="2939" cy="1054" r="12.4"/><circle cx="3019" cy="1054" r="12.4"/><circle cx="3064" cy="1024" r="12.4"/><circle cx="3070" cy="1024" r="12.4"/><circle cx="3101" cy="1024" r="12.4"/><circle cx="3117" cy="1024" r="12.4"/><circle cx="3294" cy="1024" r="12.4"/><circle cx="3307" cy="1024" r="12.4"/><circle cx="3330" cy="1024" r="12.4"/><circle cx="3195" cy="1092" r="12.4"/><circle cx="3182" cy="1106" r="12.4"/><circle cx="3195" cy="1106" r="12.4"/><circle cx="3207" cy="1107" r="12.4"/><circle cx="3117" cy="1125" r="12.4"/><circle cx="3142" cy="1125" r="12.4"/><circle cx="3168" cy="1125" r="12.4"/><circle cx="3181" cy="1125" r="12.4"/><circle cx="3207" cy="1125" r="12.4"/><circle cx="3234" cy="1125" r="12.4"/><circle cx="3024" cy="1125" r="12.4"/><circle cx="3154" cy="1155" r="12.4"/><circle cx="3168" cy="1155" r="12.4"/><circle cx="3181" cy="1155" r="12.4"/><circle cx="3195" cy="1155" r="12.4"/><circle cx="3207" cy="1155" r="12.4"/><circle cx="3247" cy="1155" r="12.4"/><circle cx="3221" cy="1076" r="12.4"/><circle cx="3170" cy="1125" r="12.4"/><circle cx="3198" cy="1125" r="12.4"/><circle cx="3164" cy="1155" r="12.4"/><circle cx="3185" cy="1155" r="12.4"/><circle cx="3201" cy="1155" r="12.4"/><circle cx="3178" cy="747" r="12.4"/><circle cx="3198" cy="756" r="12.4"/><circle cx="3179" cy="761" r="12.4"/><circle cx="3143" cy="778" r="12.4"/><circle cx="3154" cy="796" r="12.4"/><circle cx="3195" cy="792" r="12.4"/><circle cx="3207" cy="798" r="12.4"/><circle cx="3213" cy="801" r="12.4"/><circle cx="3238" cy="793" r="12.4"/><circle cx="3257" cy="804" r="12.4"/><circle cx="3244" cy="809" r="12.4"/><circle cx="3232" cy="817" r="12.4"/><circle cx="3170" cy="814" r="12.4"/><circle cx="3195" cy="810" r="12.4"/><circle cx="3285" cy="721" r="12.4"/><circle cx="3313" cy="739" r="12.4"/><circle cx="3299" cy="766" r="12.4"/><circle cx="3378" cy="822" r="12.4"/><circle cx="3153" cy="702" r="12.4"/><circle cx="3202" cy="842" r="12.4"/><circle cx="3150" cy="937" r="12.4"/><circle cx="3232" cy="899" r="12.4"/><circle cx="3099" cy="937" r="12.4"/><circle cx="3177" cy="934" r="12.4"/><circle cx="3215" cy="849" r="12.4"/><circle cx="3180" cy="831" r="12.4"/><circle cx="3064" cy="902" r="12.4"/><circle cx="3139" cy="867" r="12.4"/><circle cx="3152" cy="873" r="12.4"/><circle cx="3238" cy="931" r="12.4"/><circle cx="3190" cy="905" r="12.4"/><circle cx="3257" cy="927" r="12.4"/><circle cx="3187" cy="889" r="12.4"/><circle cx="3161" cy="887" r="12.4"/><circle cx="3120" cy="900" r="12.4"/><circle cx="3070" cy="923" r="12.4"/><circle cx="3119" cy="923" r="12.4"/><circle cx="3180" cy="882" r="12.4"/><circle cx="3115" cy="953" r="12.4"/><circle cx="3181" cy="959" r="12.4"/><circle cx="3139" cy="960" r="12.4"/><circle cx="3209" cy="884" r="12.4"/><circle cx="3119" cy="948" r="12.4"/><circle cx="3212" cy="872" r="12.4"/><circle cx="3187" cy="899" r="12.4"/><circle cx="3160" cy="923" r="12.4"/><circle cx="3155" cy="925" r="12.4"/><circle cx="3324" cy="914" r="12.4"/><circle cx="3232" cy="949" r="12.4"/><circle cx="3043" cy="876" r="12.4"/><circle cx="3247" cy="856" r="12.4"/><circle cx="3250" cy="962" r="12.4"/><circle cx="3164" cy="931" r="12.4"/><circle cx="3202" cy="942" r="12.4"/><circle cx="3225" cy="825" r="12.4"/><circle cx="3182" cy="837" r="12.4"/><circle cx="3188" cy="938" r="12.4"/><circle cx="3158" cy="943" r="12.4"/><circle cx="3261" cy="880" r="12.4"/><circle cx="3137" cy="836" r="12.4"/><circle cx="3227" cy="954" r="12.4"/><circle cx="3213" cy="893" r="12.4"/><circle cx="3166" cy="857" r="12.4"/><circle cx="3225" cy="889" r="12.4"/><circle cx="3148" cy="896" r="12.4"/><circle cx="3227" cy="841" r="12.4"/><circle cx="3251" cy="909" r="12.4"/><circle cx="3255" cy="947" r="12.4"/><circle cx="3166" cy="892" r="12.4"/><circle cx="3091" cy="921" r="12.4"/><circle cx="3116" cy="944" r="12.4"/><circle cx="3118" cy="928" r="12.4"/><circle cx="3185" cy="876" r="12.4"/><circle cx="3146" cy="968" r="12.4"/><circle cx="3190" cy="917" r="12.4"/><circle cx="3224" cy="890" r="12.4"/><circle cx="3128" cy="921" r="12.4"/><circle cx="3180" cy="940" r="12.4"/><circle cx="3148" cy="897" r="12.4"/><circle cx="3161" cy="899" r="12.4"/><circle cx="3231" cy="915" r="12.4"/><circle cx="3190" cy="939" r="12.4"/><circle cx="3147" cy="977" r="12.4"/><circle cx="3137" cy="864" r="12.4"/><circle cx="3201" cy="841" r="12.4"/><circle cx="3142" cy="953" r="12.4"/><circle cx="3183" cy="852" r="12.4"/><circle cx="3187" cy="845" r="12.4"/><circle cx="3240" cy="888" r="12.4"/><circle cx="2786" cy="740" r="12.4"/><circle cx="2814" cy="756" r="12.4"/><circle cx="2784" cy="773" r="12.4"/><circle cx="2792" cy="786" r="12.4"/><circle cx="2762" cy="803" r="12.4"/><circle cx="2775" cy="817" r="12.4"/><circle cx="2756" cy="828" r="12.4"/><circle cx="2871" cy="821" r="12.4"/><circle cx="2893" cy="781" r="12.4"/><circle cx="2949" cy="762" r="12.4"/><circle cx="2965" cy="761" r="12.4"/><circle cx="2971" cy="781" r="12.4"/><circle cx="2993" cy="778" r="12.4"/><circle cx="3070" cy="758" r="12.4"/><circle cx="3077" cy="790" r="12.4"/><circle cx="2945" cy="838" r="12.4"/><circle cx="2946" cy="865" r="12.4"/><circle cx="2985" cy="853" r="12.4"/><circle cx="2797" cy="911" r="12.4"/><circle cx="2807" cy="928" r="12.4"/><circle cx="2856" cy="933" r="12.4"/><circle cx="2881" cy="935" r="12.4"/><circle cx="2893" cy="910" r="12.4"/><circle cx="2894" cy="912" r="12.4"/><circle cx="2919" cy="929" r="12.4"/><circle cx="2932" cy="919" r="12.4"/><circle cx="2948" cy="904" r="12.4"/><circle cx="2949" cy="908" r="12.4"/><circle cx="2948" cy="927" r="12.4"/><circle cx="2982" cy="932" r="12.4"/><circle cx="2988" cy="938" r="12.4"/><circle cx="2963" cy="953" r="12.4"/><circle cx="2907" cy="963" r="12.4"/><circle cx="2790" cy="963" r="12.4"/><circle cx="2766" cy="969" r="12.4"/><circle cx="2750" cy="963" r="12.4"/><circle cx="2841" cy="993" r="12.4"/><circle cx="2974" cy="975" r="12.4"/><circle cx="2975" cy="976" r="12.4"/><circle cx="3010" cy="968" r="12.4"/><circle cx="2815" cy="1024" r="12.4"/><circle cx="3050" cy="861" r="12.4"/><circle cx="3061" cy="863" r="12.4"/><circle cx="3050" cy="888" r="12.4"/><circle cx="3056" cy="891" r="12.4"/><circle cx="3091" cy="946" r="12.4"/><circle cx="3125" cy="967" r="12.4"/><circle cx="3185" cy="994" r="12.4"/><circle cx="3195" cy="994" r="12.4"/><circle cx="3199" cy="1006" r="12.4"/><circle cx="3203" cy="985" r="12.4"/><circle cx="3300" cy="1006" r="12.4"/><circle cx="3304" cy="1006" r="12.4"/><circle cx="3475" cy="819" r="12.4"/><circle cx="3403" cy="969" r="12.4"/><circle cx="3273" cy="689" r="12.4"/><circle cx="3810" cy="781" r="12.4"/><circle cx="2492" cy="366" r="12.4"/></g>
<g class="pg"><circle cx="2623" cy="613" r="12.4"/><circle cx="2620" cy="647" r="12.4"/><circle cx="2578" cy="591" r="12.4"/><circle cx="2620" cy="596" r="12.4"/><circle cx="2633" cy="606" r="12.4"/><circle cx="2547" cy="525" r="12.4"/><circle cx="2600" cy="610" r="12.4"/><circle cx="2628" cy="569" r="12.4"/><circle cx="2607" cy="658" r="12.4"/><circle cx="2619" cy="562" r="12.4"/><circle cx="2653" cy="576" r="12.4"/><circle cx="2646" cy="597" r="12.4"/><circle cx="2574" cy="562" r="12.4"/><circle cx="2606" cy="715" r="12.4"/><circle cx="2649" cy="591" r="12.4"/><circle cx="2667" cy="690" r="12.4"/><circle cx="2588" cy="599" r="12.4"/><circle cx="2652" cy="634" r="12.4"/><circle cx="2690" cy="628" r="12.4"/><circle cx="2565" cy="634" r="12.4"/><circle cx="2575" cy="677" r="12.4"/><circle cx="2626" cy="596" r="12.4"/><circle cx="2588" cy="682" r="12.4"/><circle cx="2611" cy="695" r="12.4"/><circle cx="2567" cy="620" r="12.4"/><circle cx="2572" cy="574" r="12.4"/><circle cx="2596" cy="674" r="12.4"/><circle cx="2641" cy="596" r="12.4"/><circle cx="2598" cy="642" r="12.4"/><circle cx="2618" cy="601" r="12.4"/><circle cx="2572" cy="619" r="12.4"/><circle cx="2603" cy="672" r="12.4"/><circle cx="2614" cy="637" r="12.4"/><circle cx="2541" cy="621" r="12.4"/><circle cx="2585" cy="601" r="12.4"/><circle cx="2599" cy="610" r="12.4"/><circle cx="2566" cy="691" r="12.4"/><circle cx="2633" cy="589" r="12.4"/><circle cx="2617" cy="569" r="12.4"/><circle cx="2559" cy="627" r="12.4"/><circle cx="2662" cy="605" r="12.4"/><circle cx="2556" cy="654" r="12.4"/><circle cx="2577" cy="592" r="12.4"/><circle cx="2595" cy="528" r="12.4"/><circle cx="2649" cy="621" r="12.4"/><circle cx="2576" cy="595" r="12.4"/><circle cx="2651" cy="688" r="12.4"/><circle cx="2586" cy="648" r="12.4"/><circle cx="2602" cy="649" r="12.4"/><circle cx="2623" cy="662" r="12.4"/><circle cx="2615" cy="597" r="12.4"/><circle cx="2610" cy="649" r="12.4"/><circle cx="2585" cy="638" r="12.4"/><circle cx="2594" cy="703" r="12.4"/><circle cx="2653" cy="565" r="12.4"/><circle cx="2643" cy="628" r="12.4"/><circle cx="2609" cy="613" r="12.4"/><circle cx="2634" cy="679" r="12.4"/><circle cx="2580" cy="694" r="12.4"/><circle cx="2584" cy="570" r="12.4"/><circle cx="2617" cy="662" r="12.4"/><circle cx="2611" cy="644" r="12.4"/><circle cx="2590" cy="602" r="12.4"/><circle cx="2632" cy="567" r="12.4"/><circle cx="2650" cy="636" r="12.4"/><circle cx="2596" cy="618" r="12.4"/><circle cx="2599" cy="628" r="12.4"/><circle cx="2606" cy="620" r="12.4"/><circle cx="2613" cy="590" r="12.4"/><circle cx="2587" cy="624" r="12.4"/><circle cx="2592" cy="722" r="12.4"/><circle cx="2607" cy="618" r="12.4"/><circle cx="2584" cy="685" r="12.4"/><circle cx="2657" cy="701" r="12.4"/><circle cx="2630" cy="575" r="12.4"/><circle cx="2584" cy="713" r="12.4"/><circle cx="2584" cy="628" r="12.4"/><circle cx="2611" cy="656" r="12.4"/><circle cx="2615" cy="567" r="12.4"/><circle cx="2562" cy="540" r="12.4"/><circle cx="2627" cy="614" r="12.4"/><circle cx="2564" cy="699" r="12.4"/><circle cx="2596" cy="573" r="12.4"/><circle cx="2587" cy="600" r="12.4"/><circle cx="2616" cy="638" r="12.4"/><circle cx="2595" cy="656" r="12.4"/><circle cx="2647" cy="672" r="12.4"/><circle cx="2623" cy="564" r="12.4"/><circle cx="2545" cy="626" r="12.4"/><circle cx="2559" cy="545" r="12.4"/><circle cx="2608" cy="602" r="12.4"/><circle cx="2630" cy="633" r="12.4"/><circle cx="2629" cy="588" r="12.4"/><circle cx="2550" cy="577" r="12.4"/><circle cx="2651" cy="581" r="12.4"/><circle cx="2643" cy="558" r="12.4"/><circle cx="2579" cy="592" r="12.4"/><circle cx="2612" cy="664" r="12.4"/><circle cx="2692" cy="647" r="12.4"/><circle cx="2607" cy="636" r="12.4"/><circle cx="2606" cy="649" r="12.4"/><circle cx="2582" cy="649" r="12.4"/><circle cx="2639" cy="673" r="12.4"/><circle cx="2586" cy="657" r="12.4"/><circle cx="2607" cy="581" r="12.4"/><circle cx="2531" cy="616" r="12.4"/><circle cx="2636" cy="604" r="12.4"/><circle cx="2582" cy="628" r="12.4"/><circle cx="2632" cy="648" r="12.4"/><circle cx="2607" cy="653" r="12.4"/><circle cx="2608" cy="600" r="12.4"/><circle cx="2548" cy="653" r="12.4"/><circle cx="2594" cy="628" r="12.4"/><circle cx="2600" cy="673" r="12.4"/><circle cx="2637" cy="579" r="12.4"/><circle cx="2565" cy="656" r="12.4"/><circle cx="2663" cy="635" r="12.4"/><circle cx="2606" cy="548" r="12.4"/><circle cx="2597" cy="662" r="12.4"/><circle cx="2621" cy="623" r="12.4"/><circle cx="2641" cy="666" r="12.4"/><circle cx="2602" cy="588" r="12.4"/><circle cx="2562" cy="651" r="12.4"/><circle cx="2600" cy="619" r="12.4"/><circle cx="2638" cy="581" r="12.4"/><circle cx="2608" cy="663" r="12.4"/><circle cx="2601" cy="674" r="12.4"/><circle cx="2584" cy="619" r="12.4"/><circle cx="2560" cy="707" r="12.4"/><circle cx="2538" cy="608" r="12.4"/><circle cx="2629" cy="730" r="12.4"/><circle cx="2602" cy="587" r="12.4"/><circle cx="2552" cy="624" r="12.4"/><circle cx="2556" cy="605" r="12.4"/><circle cx="2627" cy="690" r="12.4"/><circle cx="2589" cy="708" r="12.4"/><circle cx="2580" cy="613" r="12.4"/><circle cx="2595" cy="643" r="12.4"/><circle cx="2602" cy="609" r="12.4"/><circle cx="2576" cy="604" r="12.4"/><circle cx="2603" cy="598" r="12.4"/><circle cx="2564" cy="557" r="12.4"/><circle cx="2616" cy="652" r="12.4"/><circle cx="2586" cy="688" r="12.4"/><circle cx="2608" cy="632" r="12.4"/><circle cx="2557" cy="675" r="12.4"/><circle cx="2586" cy="629" r="12.4"/><circle cx="2641" cy="647" r="12.4"/><circle cx="2587" cy="635" r="12.4"/><circle cx="2650" cy="646" r="12.4"/><circle cx="2621" cy="681" r="12.4"/><circle cx="2563" cy="663" r="12.4"/><circle cx="2580" cy="613" r="12.4"/><circle cx="2661" cy="710" r="12.4"/><circle cx="2626" cy="629" r="12.4"/><circle cx="2676" cy="651" r="12.4"/><circle cx="2523" cy="615" r="12.4"/><circle cx="2576" cy="598" r="12.4"/><circle cx="2566" cy="674" r="12.4"/><circle cx="2639" cy="716" r="12.4"/><circle cx="2601" cy="636" r="12.4"/><circle cx="2597" cy="687" r="12.4"/><circle cx="2676" cy="702" r="12.4"/><circle cx="2636" cy="587" r="12.4"/><circle cx="2638" cy="569" r="12.4"/><circle cx="2585" cy="623" r="12.4"/><circle cx="2672" cy="571" r="12.4"/><circle cx="2578" cy="649" r="12.4"/><circle cx="2658" cy="646" r="12.4"/><circle cx="2617" cy="579" r="12.4"/><circle cx="2614" cy="697" r="12.4"/><circle cx="2604" cy="593" r="12.4"/><circle cx="2616" cy="700" r="12.4"/><circle cx="2675" cy="633" r="12.4"/><circle cx="2605" cy="722" r="12.4"/><circle cx="2589" cy="639" r="12.4"/><circle cx="2624" cy="624" r="12.4"/><circle cx="2626" cy="713" r="12.4"/><circle cx="2601" cy="551" r="12.4"/><circle cx="2608" cy="701" r="12.4"/><circle cx="2590" cy="577" r="12.4"/><circle cx="2648" cy="644" r="12.4"/><circle cx="2620" cy="657" r="12.4"/><circle cx="2600" cy="641" r="12.4"/><circle cx="2622" cy="594" r="12.4"/><circle cx="2639" cy="562" r="12.4"/><circle cx="2683" cy="613" r="12.4"/><circle cx="2606" cy="562" r="12.4"/><circle cx="2626" cy="578" r="12.4"/><circle cx="2627" cy="624" r="12.4"/><circle cx="2607" cy="727" r="12.4"/><circle cx="2609" cy="600" r="12.4"/><circle cx="2602" cy="648" r="12.4"/><circle cx="2624" cy="672" r="12.4"/><circle cx="2594" cy="645" r="12.4"/><circle cx="2584" cy="597" r="12.4"/><circle cx="2627" cy="579" r="12.4"/><circle cx="2564" cy="677" r="12.4"/><circle cx="2601" cy="662" r="12.4"/><circle cx="2636" cy="650" r="12.4"/><circle cx="2635" cy="708" r="12.4"/><circle cx="2591" cy="698" r="12.4"/><circle cx="2610" cy="645" r="12.4"/><circle cx="2608" cy="677" r="12.4"/><circle cx="2621" cy="601" r="12.4"/><circle cx="2619" cy="653" r="12.4"/><circle cx="2625" cy="604" r="12.4"/><circle cx="2650" cy="633" r="12.4"/><circle cx="2589" cy="616" r="12.4"/><circle cx="2567" cy="682" r="12.4"/><circle cx="2662" cy="611" r="12.4"/><circle cx="2560" cy="548" r="12.4"/><circle cx="2570" cy="640" r="12.4"/><circle cx="2587" cy="627" r="12.4"/><circle cx="2580" cy="628" r="12.4"/><circle cx="2606" cy="640" r="12.4"/><circle cx="2617" cy="638" r="12.4"/><circle cx="2580" cy="622" r="12.4"/><circle cx="2563" cy="614" r="12.4"/><circle cx="2616" cy="651" r="12.4"/><circle cx="2552" cy="592" r="12.4"/><circle cx="2576" cy="572" r="12.4"/><circle cx="2599" cy="621" r="12.4"/><circle cx="2609" cy="718" r="12.4"/><circle cx="2600" cy="645" r="12.4"/><circle cx="2562" cy="687" r="12.4"/><circle cx="2624" cy="636" r="12.4"/><circle cx="2537" cy="645" r="12.4"/><circle cx="2593" cy="655" r="12.4"/><circle cx="2602" cy="602" r="12.4"/><circle cx="2612" cy="696" r="12.4"/><circle cx="2625" cy="531" r="12.4"/><circle cx="2604" cy="665" r="12.4"/><circle cx="2601" cy="648" r="12.4"/><circle cx="2622" cy="715" r="12.4"/><circle cx="2632" cy="612" r="12.4"/><circle cx="2668" cy="649" r="12.4"/><circle cx="2662" cy="590" r="12.4"/><circle cx="2570" cy="683" r="12.4"/><circle cx="2588" cy="539" r="12.4"/><circle cx="2602" cy="587" r="12.4"/><circle cx="2596" cy="638" r="12.4"/><circle cx="2580" cy="705" r="12.4"/><circle cx="2566" cy="642" r="12.4"/><circle cx="2604" cy="603" r="12.4"/><circle cx="2595" cy="679" r="12.4"/><circle cx="2555" cy="642" r="12.4"/><circle cx="2654" cy="574" r="12.4"/><circle cx="2551" cy="616" r="12.4"/><circle cx="2558" cy="596" r="12.4"/><circle cx="2587" cy="665" r="12.4"/><circle cx="2596" cy="574" r="12.4"/><circle cx="2640" cy="565" r="12.4"/><circle cx="2653" cy="589" r="12.4"/><circle cx="2571" cy="612" r="12.4"/><circle cx="2660" cy="620" r="12.4"/><circle cx="2585" cy="542" r="12.4"/><circle cx="2604" cy="611" r="12.4"/><circle cx="2585" cy="590" r="12.4"/><circle cx="2572" cy="706" r="12.4"/><circle cx="2584" cy="666" r="12.4"/><circle cx="2630" cy="630" r="12.4"/><circle cx="2622" cy="658" r="12.4"/><circle cx="2596" cy="626" r="12.4"/><circle cx="2622" cy="633" r="12.4"/><circle cx="2590" cy="563" r="12.4"/><circle cx="2666" cy="680" r="12.4"/><circle cx="2620" cy="637" r="12.4"/><circle cx="2536" cy="636" r="12.4"/><circle cx="2607" cy="728" r="12.4"/><circle cx="2574" cy="523" r="12.4"/><circle cx="2668" cy="599" r="12.4"/><circle cx="2636" cy="680" r="12.4"/><circle cx="2548" cy="616" r="12.4"/><circle cx="2631" cy="691" r="12.4"/><circle cx="2611" cy="659" r="12.4"/><circle cx="2555" cy="670" r="12.4"/><circle cx="2572" cy="617" r="12.4"/><circle cx="2625" cy="672" r="12.4"/><circle cx="2591" cy="655" r="12.4"/><circle cx="2607" cy="662" r="12.4"/><circle cx="2613" cy="703" r="12.4"/><circle cx="2559" cy="583" r="12.4"/><circle cx="2643" cy="578" r="12.4"/><circle cx="2641" cy="657" r="12.4"/><circle cx="2547" cy="627" r="12.4"/><circle cx="2591" cy="625" r="12.4"/><circle cx="2560" cy="650" r="12.4"/><circle cx="2600" cy="568" r="12.4"/><circle cx="2612" cy="638" r="12.4"/><circle cx="2637" cy="780" r="12.4"/><circle cx="2704" cy="787" r="12.4"/><circle cx="2633" cy="745" r="12.4"/><circle cx="2680" cy="782" r="12.4"/><circle cx="2688" cy="760" r="12.4"/><circle cx="2671" cy="730" r="12.4"/><circle cx="2701" cy="739" r="12.4"/><circle cx="2640" cy="751" r="12.4"/><circle cx="2620" cy="752" r="12.4"/><circle cx="2675" cy="788" r="12.4"/><circle cx="2672" cy="718" r="12.4"/><circle cx="2671" cy="800" r="12.4"/><circle cx="2706" cy="785" r="12.4"/><circle cx="2649" cy="715" r="12.4"/><circle cx="2625" cy="706" r="12.4"/><circle cx="2683" cy="822" r="12.4"/><circle cx="2693" cy="737" r="12.4"/><circle cx="2710" cy="813" r="12.4"/><circle cx="2619" cy="719" r="12.4"/><circle cx="2680" cy="753" r="12.4"/><circle cx="2664" cy="769" r="12.4"/><circle cx="2677" cy="758" r="12.4"/><circle cx="2659" cy="802" r="12.4"/><circle cx="2665" cy="781" r="12.4"/><circle cx="2656" cy="771" r="12.4"/><circle cx="2642" cy="784" r="12.4"/><circle cx="2686" cy="810" r="12.4"/><circle cx="2634" cy="735" r="12.4"/><circle cx="2638" cy="676" r="12.4"/><circle cx="2678" cy="753" r="12.4"/><circle cx="2661" cy="772" r="12.4"/><circle cx="2642" cy="728" r="12.4"/><circle cx="2662" cy="719" r="12.4"/><circle cx="2665" cy="754" r="12.4"/><circle cx="2640" cy="745" r="12.4"/><circle cx="2665" cy="745" r="12.4"/><circle cx="2711" cy="784" r="12.4"/><circle cx="2681" cy="808" r="12.4"/><circle cx="2615" cy="723" r="12.4"/><circle cx="2653" cy="685" r="12.4"/><circle cx="2660" cy="783" r="12.4"/><circle cx="2625" cy="777" r="12.4"/><circle cx="2669" cy="724" r="12.4"/><circle cx="2676" cy="712" r="12.4"/><circle cx="2703" cy="765" r="12.4"/><circle cx="2665" cy="752" r="12.4"/><circle cx="2672" cy="816" r="12.4"/><circle cx="2645" cy="774" r="12.4"/><circle cx="2691" cy="775" r="12.4"/><circle cx="2666" cy="730" r="12.4"/><circle cx="2648" cy="785" r="12.4"/><circle cx="2687" cy="808" r="12.4"/><circle cx="2630" cy="782" r="12.4"/><circle cx="2664" cy="739" r="12.4"/><circle cx="2637" cy="780" r="12.4"/><circle cx="2672" cy="724" r="12.4"/><circle cx="2628" cy="731" r="12.4"/><circle cx="2609" cy="699" r="12.4"/><circle cx="2715" cy="799" r="12.4"/><circle cx="2669" cy="792" r="12.4"/><circle cx="2731" cy="799" r="12.4"/><circle cx="2671" cy="723" r="12.4"/><circle cx="2657" cy="772" r="12.4"/><circle cx="2682" cy="719" r="12.4"/><circle cx="2706" cy="804" r="12.4"/><circle cx="2684" cy="756" r="12.4"/><circle cx="2672" cy="799" r="12.4"/><circle cx="2671" cy="783" r="12.4"/><circle cx="2648" cy="747" r="12.4"/><circle cx="2638" cy="727" r="12.4"/><circle cx="2656" cy="698" r="12.4"/><circle cx="2666" cy="742" r="12.4"/><circle cx="2642" cy="691" r="12.4"/><circle cx="2670" cy="766" r="12.4"/><circle cx="2718" cy="791" r="12.4"/><circle cx="2675" cy="758" r="12.4"/><circle cx="2692" cy="805" r="12.4"/><circle cx="2707" cy="776" r="12.4"/><circle cx="2659" cy="691" r="12.4"/><circle cx="2730" cy="836" r="12.4"/><circle cx="2659" cy="740" r="12.4"/><circle cx="2667" cy="705" r="12.4"/><circle cx="2654" cy="713" r="12.4"/><circle cx="2700" cy="753" r="12.4"/><circle cx="2659" cy="770" r="12.4"/><circle cx="2729" cy="814" r="12.4"/><circle cx="2670" cy="754" r="12.4"/><circle cx="2702" cy="756" r="12.4"/><circle cx="2702" cy="850" r="12.4"/><circle cx="2648" cy="795" r="12.4"/><circle cx="2632" cy="525" r="12.4"/><circle cx="2655" cy="521" r="12.4"/><circle cx="2709" cy="523" r="12.4"/><circle cx="2698" cy="538" r="12.4"/><circle cx="2718" cy="542" r="12.4"/><circle cx="2744" cy="536" r="12.4"/><circle cx="2755" cy="537" r="12.4"/><circle cx="2882" cy="540" r="12.4"/><circle cx="2866" cy="572" r="12.4"/><circle cx="2776" cy="577" r="12.4"/><circle cx="2803" cy="576" r="12.4"/><circle cx="2800" cy="583" r="12.4"/><circle cx="2819" cy="595" r="12.4"/><circle cx="2928" cy="579" r="12.4"/><circle cx="3016" cy="595" r="12.4"/><circle cx="3051" cy="602" r="12.4"/><circle cx="3068" cy="612" r="12.4"/><circle cx="3062" cy="614" r="12.4"/><circle cx="2487" cy="591" r="12.4"/><circle cx="2507" cy="609" r="12.4"/><circle cx="2518" cy="557" r="12.4"/><circle cx="2528" cy="582" r="12.4"/><circle cx="2703" cy="596" r="12.4"/><circle cx="2694" cy="562" r="12.4"/><circle cx="2684" cy="600" r="12.4"/><circle cx="2737" cy="602" r="12.4"/><circle cx="2753" cy="603" r="12.4"/><circle cx="2764" cy="598" r="12.4"/><circle cx="2775" cy="607" r="12.4"/><circle cx="2775" cy="611" r="12.4"/><circle cx="2750" cy="622" r="12.4"/><circle cx="2762" cy="625" r="12.4"/><circle cx="2773" cy="620" r="12.4"/><circle cx="2789" cy="629" r="12.4"/><circle cx="2787" cy="636" r="12.4"/><circle cx="2812" cy="622" r="12.4"/><circle cx="2826" cy="630" r="12.4"/><circle cx="2832" cy="638" r="12.4"/><circle cx="2814" cy="638" r="12.4"/><circle cx="2703" cy="632" r="12.4"/><circle cx="2698" cy="643" r="12.4"/><circle cx="2712" cy="643" r="12.4"/><circle cx="2725" cy="627" r="12.4"/><circle cx="2762" cy="649" r="12.4"/><circle cx="2750" cy="675" r="12.4"/><circle cx="2768" cy="698" r="12.4"/><circle cx="2725" cy="714" r="12.4"/><circle cx="2741" cy="714" r="12.4"/><circle cx="2712" cy="730" r="12.4"/><circle cx="2709" cy="752" r="12.4"/><circle cx="2859" cy="646" r="12.4"/><circle cx="2871" cy="646" r="12.4"/><circle cx="2864" cy="657" r="12.4"/><circle cx="2830" cy="657" r="12.4"/><circle cx="2832" cy="679" r="12.4"/><circle cx="2862" cy="662" r="12.4"/><circle cx="2862" cy="684" r="12.4"/><circle cx="2853" cy="693" r="12.4"/><circle cx="2889" cy="646" r="12.4"/><circle cx="2887" cy="655" r="12.4"/><circle cx="2912" cy="649" r="12.4"/><circle cx="2921" cy="666" r="12.4"/><circle cx="2943" cy="666" r="12.4"/><circle cx="2923" cy="680" r="12.4"/><circle cx="2921" cy="692" r="12.4"/><circle cx="2950" cy="629" r="12.4"/><circle cx="2955" cy="634" r="12.4"/><circle cx="2973" cy="632" r="12.4"/><circle cx="2978" cy="636" r="12.4"/><circle cx="2966" cy="655" r="12.4"/><circle cx="2984" cy="662" r="12.4"/><circle cx="2985" cy="689" r="12.4"/><circle cx="3103" cy="653" r="12.4"/><circle cx="3067" cy="663" r="12.4"/><circle cx="3035" cy="644" r="12.4"/><circle cx="3060" cy="664" r="12.4"/><circle cx="3073" cy="647" r="12.4"/><circle cx="3094" cy="671" r="12.4"/><circle cx="3072" cy="636" r="12.4"/><circle cx="3030" cy="651" r="12.4"/><circle cx="3044" cy="623" r="12.4"/><circle cx="3055" cy="675" r="12.4"/><circle cx="3064" cy="662" r="12.4"/><circle cx="3082" cy="645" r="12.4"/><circle cx="3064" cy="633" r="12.4"/><circle cx="3068" cy="661" r="12.4"/><circle cx="3058" cy="645" r="12.4"/><circle cx="3075" cy="647" r="12.4"/><circle cx="3071" cy="610" r="12.4"/><circle cx="3073" cy="614" r="12.4"/><circle cx="3057" cy="682" r="12.4"/><circle cx="3078" cy="690" r="12.4"/><circle cx="2560" cy="752" r="12.4"/><circle cx="2630" cy="809" r="12.4"/><circle cx="2653" cy="852" r="12.4"/><circle cx="2660" cy="879" r="12.4"/><circle cx="2688" cy="904" r="12.4"/><circle cx="2670" cy="953" r="12.4"/><circle cx="2726" cy="912" r="12.4"/><circle cx="2736" cy="930" r="12.4"/><circle cx="3122" cy="886" r="12.4"/><circle cx="3094" cy="854" r="12.4"/><circle cx="3129" cy="878" r="12.4"/><circle cx="3094" cy="834" r="12.4"/><circle cx="3145" cy="875" r="12.4"/><circle cx="3084" cy="926" r="12.4"/><circle cx="3102" cy="937" r="12.4"/><circle cx="3099" cy="869" r="12.4"/><circle cx="3126" cy="914" r="12.4"/><circle cx="3082" cy="870" r="12.4"/><circle cx="3090" cy="875" r="12.4"/><circle cx="3072" cy="870" r="12.4"/><circle cx="3122" cy="843" r="12.4"/><circle cx="3131" cy="906" r="12.4"/><circle cx="3124" cy="914" r="12.4"/><circle cx="3084" cy="843" r="12.4"/><circle cx="3134" cy="889" r="12.4"/><circle cx="3116" cy="920" r="12.4"/><circle cx="3071" cy="888" r="12.4"/><circle cx="3103" cy="861" r="12.4"/><circle cx="3082" cy="890" r="12.4"/><circle cx="3113" cy="928" r="12.4"/><circle cx="3127" cy="933" r="12.4"/><circle cx="3092" cy="897" r="12.4"/><circle cx="3103" cy="880" r="12.4"/><circle cx="3091" cy="930" r="12.4"/><circle cx="3142" cy="891" r="12.4"/><circle cx="3082" cy="941" r="12.4"/><circle cx="3132" cy="882" r="12.4"/><circle cx="3123" cy="900" r="12.4"/><circle cx="3102" cy="886" r="12.4"/><circle cx="3080" cy="859" r="12.4"/><circle cx="3100" cy="857" r="12.4"/><circle cx="3113" cy="881" r="12.4"/><circle cx="3082" cy="900" r="12.4"/><circle cx="3084" cy="879" r="12.4"/><circle cx="3080" cy="909" r="12.4"/><circle cx="3107" cy="883" r="12.4"/><circle cx="3098" cy="904" r="12.4"/><circle cx="3092" cy="834" r="12.4"/><circle cx="3147" cy="892" r="12.4"/><circle cx="3123" cy="863" r="12.4"/><circle cx="3063" cy="855" r="12.4"/><circle cx="3118" cy="877" r="12.4"/><circle cx="3099" cy="874" r="12.4"/><circle cx="3079" cy="859" r="12.4"/><circle cx="3207" cy="903" r="12.4"/><circle cx="3297" cy="899" r="12.4"/><circle cx="3266" cy="883" r="12.4"/><circle cx="3301" cy="901" r="12.4"/><circle cx="3266" cy="856" r="12.4"/><circle cx="3296" cy="916" r="12.4"/><circle cx="3232" cy="868" r="12.4"/><circle cx="3267" cy="849" r="12.4"/><circle cx="3254" cy="864" r="12.4"/><circle cx="3210" cy="930" r="12.4"/><circle cx="3211" cy="829" r="12.4"/><circle cx="3306" cy="870" r="12.4"/><circle cx="3291" cy="892" r="12.4"/><circle cx="3214" cy="836" r="12.4"/><circle cx="3242" cy="901" r="12.4"/><circle cx="3225" cy="878" r="12.4"/><circle cx="3220" cy="887" r="12.4"/><circle cx="3255" cy="884" r="12.4"/><circle cx="3234" cy="874" r="12.4"/><circle cx="3178" cy="870" r="12.4"/><circle cx="3263" cy="857" r="12.4"/><circle cx="3290" cy="928" r="12.4"/><circle cx="3176" cy="898" r="12.4"/><circle cx="3189" cy="909" r="12.4"/><circle cx="3288" cy="937" r="12.4"/><circle cx="3295" cy="841" r="12.4"/><circle cx="3257" cy="837" r="12.4"/><circle cx="3264" cy="918" r="12.4"/><circle cx="3241" cy="919" r="12.4"/><circle cx="3216" cy="872" r="12.4"/><circle cx="3251" cy="890" r="12.4"/><circle cx="3208" cy="860" r="12.4"/><circle cx="3190" cy="914" r="12.4"/><circle cx="3269" cy="871" r="12.4"/><circle cx="3233" cy="874" r="12.4"/><circle cx="3214" cy="902" r="12.4"/><circle cx="3280" cy="858" r="12.4"/><circle cx="3234" cy="839" r="12.4"/><circle cx="3227" cy="885" r="12.4"/><circle cx="3232" cy="880" r="12.4"/><circle cx="3235" cy="905" r="12.4"/><circle cx="3274" cy="915" r="12.4"/><circle cx="3246" cy="896" r="12.4"/><circle cx="3209" cy="898" r="12.4"/><circle cx="3225" cy="909" r="12.4"/><circle cx="3236" cy="911" r="12.4"/><circle cx="3192" cy="890" r="12.4"/><circle cx="3209" cy="894" r="12.4"/><circle cx="3287" cy="858" r="12.4"/><circle cx="3260" cy="918" r="12.4"/><circle cx="3208" cy="918" r="12.4"/><circle cx="3226" cy="909" r="12.4"/><circle cx="3242" cy="818" r="12.4"/><circle cx="3265" cy="878" r="12.4"/><circle cx="3187" cy="877" r="12.4"/><circle cx="3200" cy="893" r="12.4"/><circle cx="3211" cy="852" r="12.4"/><circle cx="3253" cy="900" r="12.4"/><circle cx="3246" cy="899" r="12.4"/><circle cx="3244" cy="899" r="12.4"/><circle cx="3293" cy="922" r="12.4"/><circle cx="3268" cy="943" r="12.4"/><circle cx="3183" cy="923" r="12.4"/><circle cx="3212" cy="907" r="12.4"/><circle cx="3301" cy="866" r="12.4"/><circle cx="3240" cy="839" r="12.4"/><circle cx="3253" cy="894" r="12.4"/><circle cx="3234" cy="910" r="12.4"/><circle cx="3250" cy="931" r="12.4"/><circle cx="3189" cy="889" r="12.4"/><circle cx="3287" cy="849" r="12.4"/><circle cx="3275" cy="861" r="12.4"/><circle cx="3284" cy="935" r="12.4"/><circle cx="3271" cy="889" r="12.4"/><circle cx="3219" cy="867" r="12.4"/><circle cx="3258" cy="889" r="12.4"/><circle cx="3211" cy="894" r="12.4"/><circle cx="3204" cy="933" r="12.4"/><circle cx="3279" cy="890" r="12.4"/><circle cx="3290" cy="882" r="12.4"/><circle cx="3301" cy="894" r="12.4"/><circle cx="3244" cy="921" r="12.4"/><circle cx="3131" cy="918" r="12.4"/><circle cx="3067" cy="918" r="12.4"/><circle cx="3073" cy="918" r="12.4"/><circle cx="3012" cy="918" r="12.4"/><circle cx="3041" cy="918" r="12.4"/><circle cx="3029" cy="918" r="12.4"/><circle cx="3072" cy="918" r="12.4"/><circle cx="3131" cy="918" r="12.4"/><circle cx="3040" cy="918" r="12.4"/><circle cx="3057" cy="918" r="12.4"/><circle cx="3020" cy="918" r="12.4"/><circle cx="3078" cy="918" r="12.4"/><circle cx="3045" cy="915" r="12.4"/><circle cx="3062" cy="912" r="12.4"/><circle cx="3068" cy="903" r="12.4"/><circle cx="3093" cy="924" r="12.4"/><circle cx="3134" cy="918" r="12.4"/><circle cx="3161" cy="923" r="12.4"/><circle cx="3080" cy="925" r="12.4"/><circle cx="3149" cy="936" r="12.4"/><circle cx="3105" cy="924" r="12.4"/><circle cx="3075" cy="908" r="12.4"/><circle cx="3085" cy="920" r="12.4"/><circle cx="3157" cy="919" r="12.4"/><circle cx="3144" cy="925" r="12.4"/><circle cx="3079" cy="932" r="12.4"/><circle cx="3164" cy="928" r="12.4"/><circle cx="3108" cy="922" r="12.4"/><circle cx="3098" cy="923" r="12.4"/><circle cx="3088" cy="926" r="12.4"/><circle cx="3103" cy="931" r="12.4"/><circle cx="3052" cy="919" r="12.4"/><circle cx="3159" cy="920" r="12.4"/><circle cx="3106" cy="926" r="12.4"/><circle cx="3336" cy="986" r="12.4"/><circle cx="3368" cy="874" r="12.4"/><circle cx="3384" cy="893" r="12.4"/><circle cx="3286" cy="908" r="12.4"/><circle cx="3375" cy="879" r="12.4"/><circle cx="3378" cy="904" r="12.4"/><circle cx="3388" cy="953" r="12.4"/><circle cx="3373" cy="916" r="12.4"/><circle cx="3387" cy="912" r="12.4"/><circle cx="3313" cy="944" r="12.4"/><circle cx="3312" cy="931" r="12.4"/><circle cx="3343" cy="907" r="12.4"/><circle cx="3302" cy="948" r="12.4"/><circle cx="3402" cy="921" r="12.4"/><circle cx="3316" cy="920" r="12.4"/><circle cx="3381" cy="934" r="12.4"/><circle cx="3335" cy="983" r="12.4"/><circle cx="3346" cy="928" r="12.4"/><circle cx="3375" cy="911" r="12.4"/><circle cx="3357" cy="941" r="12.4"/><circle cx="3370" cy="940" r="12.4"/><circle cx="3394" cy="954" r="12.4"/><circle cx="3371" cy="955" r="12.4"/><circle cx="3327" cy="902" r="12.4"/><circle cx="3337" cy="963" r="12.4"/><circle cx="3304" cy="940" r="12.4"/><circle cx="3322" cy="916" r="12.4"/><circle cx="3319" cy="875" r="12.4"/><circle cx="3394" cy="921" r="12.4"/><circle cx="3347" cy="931" r="12.4"/><circle cx="3401" cy="927" r="12.4"/><circle cx="3355" cy="950" r="12.4"/><circle cx="3368" cy="958" r="12.4"/><circle cx="3369" cy="924" r="12.4"/><circle cx="3365" cy="894" r="12.4"/><circle cx="3343" cy="964" r="12.4"/><circle cx="3393" cy="945" r="12.4"/><circle cx="3372" cy="915" r="12.4"/><circle cx="3375" cy="925" r="12.4"/><circle cx="3315" cy="968" r="12.4"/><circle cx="3349" cy="938" r="12.4"/><circle cx="3307" cy="930" r="12.4"/><circle cx="3234" cy="998" r="12.4"/><circle cx="3251" cy="995" r="12.4"/><circle cx="3288" cy="1012" r="12.4"/><circle cx="3308" cy="967" r="12.4"/><circle cx="3218" cy="1013" r="12.4"/><circle cx="3294" cy="980" r="12.4"/><circle cx="3200" cy="984" r="12.4"/><circle cx="3221" cy="943" r="12.4"/><circle cx="3054" cy="964" r="12.4"/><circle cx="3100" cy="987" r="12.4"/><circle cx="3183" cy="1014" r="12.4"/><circle cx="3205" cy="980" r="12.4"/><circle cx="3188" cy="981" r="12.4"/><circle cx="3100" cy="959" r="12.4"/><circle cx="3330" cy="970" r="12.4"/><circle cx="3111" cy="959" r="12.4"/><circle cx="3128" cy="956" r="12.4"/><circle cx="3117" cy="948" r="12.4"/><circle cx="3212" cy="992" r="12.4"/><circle cx="3324" cy="995" r="12.4"/><circle cx="3234" cy="977" r="12.4"/><circle cx="3292" cy="969" r="12.4"/><circle cx="3169" cy="975" r="12.4"/><circle cx="3315" cy="985" r="12.4"/><circle cx="3210" cy="1016" r="12.4"/><circle cx="3344" cy="995" r="12.4"/><circle cx="3229" cy="977" r="12.4"/><circle cx="3199" cy="1004" r="12.4"/><circle cx="3249" cy="1015" r="12.4"/><circle cx="3246" cy="964" r="12.4"/><circle cx="3243" cy="967" r="12.4"/><circle cx="3253" cy="978" r="12.4"/><circle cx="3220" cy="978" r="12.4"/><circle cx="3181" cy="995" r="12.4"/><circle cx="3155" cy="982" r="12.4"/><circle cx="3153" cy="978" r="12.4"/><circle cx="3145" cy="964" r="12.4"/><circle cx="3180" cy="997" r="12.4"/><circle cx="3089" cy="1054" r="12.4"/><circle cx="3167" cy="1054" r="12.4"/><circle cx="3234" cy="1054" r="12.4"/><circle cx="3272" cy="1054" r="12.4"/><circle cx="3285" cy="1054" r="12.4"/><circle cx="3313" cy="1054" r="12.4"/><circle cx="3330" cy="1054" r="12.4"/><circle cx="3052" cy="1024" r="12.4"/><circle cx="3178" cy="1024" r="12.4"/><circle cx="3179" cy="1024" r="12.4"/><circle cx="3213" cy="1024" r="12.4"/><circle cx="3251" cy="1024" r="12.4"/><circle cx="3263" cy="1024" r="12.4"/><circle cx="3276" cy="1024" r="12.4"/><circle cx="3307" cy="1024" r="12.4"/><circle cx="3083" cy="1006" r="12.4"/><circle cx="3115" cy="1006" r="12.4"/><circle cx="3129" cy="1006" r="12.4"/><circle cx="3223" cy="1006" r="12.4"/><circle cx="3248" cy="1006" r="12.4"/><circle cx="3260" cy="1006" r="12.4"/><circle cx="3263" cy="1006" r="12.4"/><circle cx="3338" cy="1039" r="12.4"/><circle cx="2846" cy="713" r="12.4"/><circle cx="2929" cy="716" r="12.4"/><circle cx="2966" cy="713" r="12.4"/><circle cx="3007" cy="716" r="12.4"/><circle cx="2923" cy="733" r="12.4"/><circle cx="2901" cy="739" r="12.4"/><circle cx="2924" cy="747" r="12.4"/><circle cx="2946" cy="743" r="12.4"/><circle cx="2998" cy="734" r="12.4"/><circle cx="2809" cy="758" r="12.4"/><circle cx="2810" cy="782" r="12.4"/><circle cx="2759" cy="807" r="12.4"/><circle cx="2787" cy="815" r="12.4"/><circle cx="2815" cy="819" r="12.4"/><circle cx="2795" cy="832" r="12.4"/><circle cx="2806" cy="836" r="12.4"/><circle cx="2904" cy="823" r="12.4"/><circle cx="2980" cy="817" r="12.4"/><circle cx="2998" cy="819" r="12.4"/><circle cx="2989" cy="773" r="12.4"/><circle cx="2998" cy="769" r="12.4"/><circle cx="3032" cy="765" r="12.4"/><circle cx="3048" cy="765" r="12.4"/><circle cx="3050" cy="779" r="12.4"/><circle cx="3032" cy="825" r="12.4"/><circle cx="3055" cy="825" r="12.4"/><circle cx="2967" cy="856" r="12.4"/><circle cx="2780" cy="893" r="12.4"/><circle cx="2790" cy="925" r="12.4"/><circle cx="2926" cy="910" r="12.4"/><circle cx="2875" cy="953" r="12.4"/><circle cx="2864" cy="969" r="12.4"/><circle cx="2891" cy="976" r="12.4"/><circle cx="2906" cy="994" r="12.4"/><circle cx="2956" cy="963" r="12.4"/><circle cx="3006" cy="919" r="12.4"/><circle cx="3013" cy="993" r="12.4"/><circle cx="3030" cy="1006" r="12.4"/><circle cx="3058" cy="983" r="12.4"/><circle cx="3067" cy="994" r="12.4"/><circle cx="3103" cy="968" r="12.4"/><circle cx="3033" cy="706" r="12.4"/><circle cx="3041" cy="707" r="12.4"/><circle cx="3069" cy="707" r="12.4"/><circle cx="3033" cy="726" r="12.4"/><circle cx="3069" cy="728" r="12.4"/><circle cx="3058" cy="739" r="12.4"/><circle cx="3080" cy="734" r="12.4"/><circle cx="3086" cy="722" r="12.4"/><circle cx="3089" cy="726" r="12.4"/><circle cx="3092" cy="733" r="12.4"/><circle cx="3103" cy="722" r="12.4"/><circle cx="3117" cy="703" r="12.4"/><circle cx="3111" cy="750" r="12.4"/><circle cx="3115" cy="761" r="12.4"/><circle cx="3103" cy="772" r="12.4"/><circle cx="3122" cy="783" r="12.4"/><circle cx="3142" cy="748" r="12.4"/><circle cx="3143" cy="747" r="12.4"/><circle cx="3156" cy="734" r="12.4"/><circle cx="3165" cy="764" r="12.4"/><circle cx="3168" cy="770" r="12.4"/><circle cx="3181" cy="792" r="12.4"/><circle cx="3198" cy="796" r="12.4"/><circle cx="3207" cy="807" r="12.4"/><circle cx="3168" cy="815" r="12.4"/><circle cx="3143" cy="821" r="12.4"/><circle cx="3133" cy="832" r="12.4"/><circle cx="3114" cy="828" r="12.4"/><circle cx="3098" cy="834" r="12.4"/><circle cx="3154" cy="843" r="12.4"/><circle cx="3168" cy="852" r="12.4"/><circle cx="3248" cy="734" r="12.4"/><circle cx="3263" cy="816" r="12.4"/><circle cx="3326" cy="795" r="12.4"/><circle cx="3326" cy="828" r="12.4"/><circle cx="3336" cy="853" r="12.4"/><circle cx="3353" cy="673" r="12.4"/><circle cx="3433" cy="881" r="12.4"/><circle cx="3434" cy="913" r="12.4"/><circle cx="3439" cy="935" r="12.4"/><circle cx="3433" cy="958" r="12.4"/><circle cx="3429" cy="971" r="12.4"/><circle cx="3479" cy="984" r="12.4"/><circle cx="3521" cy="993" r="12.4"/><circle cx="3535" cy="999" r="12.4"/><circle cx="3540" cy="984" r="12.4"/><circle cx="3548" cy="988" r="12.4"/><circle cx="3465" cy="812" r="12.4"/><circle cx="3402" cy="913" r="12.4"/><circle cx="3297" cy="1265" r="12.4"/><circle cx="3268" cy="1296" r="12.4"/><circle cx="3247" cy="1327" r="12.4"/><circle cx="3268" cy="1327" r="12.4"/><circle cx="3244" cy="1357" r="12.4"/></g>
<path class="tk" d="M2369.6 347.4h23M2369.6 448.5h23M2369.6 549.5h23M2369.6 650.6h23M2369.6 751.6h23M2369.6 852.6h23M2369.6 953.7h23M2369.6 1054.7h23M2369.6 1155.8h23M2369.6 1256.8h23M2369.6 1357.9h23M2500.6 1458.9v-22.7M2631.6 1458.9v-22.7M2762.6 1458.9v-22.7M2893.6 1458.9v-22.7M3024.6 1458.9v-22.7M3155.6 1458.9v-22.7M3286.6 1458.9v-22.7M3417.6 1458.9v-22.7M3548.6 1458.9v-22.7M3679.6 1458.9v-22.7M3810.6 1458.9v-22.7"/>
<path class="mtk" d="M2369.6 317h11.7M2369.6 299.2h11.7M2369.6 286.6h11.7M2369.6 276.8h11.7M2369.6 268.8h11.7M2369.6 262.1h11.7M2369.6 256.2h11.7M2369.6 251h11.7M2369.6 418.1h11.7M2369.6 400.3h11.7M2369.6 387.7h11.7M2369.6 377.9h11.7M2369.6 369.9h11.7M2369.6 363.1h11.7M2369.6 357.2h11.7M2369.6 352.1h11.7M2369.6 519.1h11.7M2369.6 501.3h11.7M2369.6 488.7h11.7M2369.6 478.9h11.7M2369.6 470.9h11.7M2369.6 464.1h11.7M2369.6 458.3h11.7M2369.6 453.1h11.7M2369.6 620.2h11.7M2369.6 602.4h11.7M2369.6 589.7h11.7M2369.6 579.9h11.7M2369.6 571.9h11.7M2369.6 565.2h11.7M2369.6 559.3h11.7M2369.6 554.1h11.7M2369.6 721.2h11.7M2369.6 703.4h11.7M2369.6 690.8h11.7M2369.6 681h11.7M2369.6 673h11.7M2369.6 666.2h11.7M2369.6 660.4h11.7M2369.6 655.2h11.7M2369.6 822.2h11.7M2369.6 804.4h11.7M2369.6 791.8h11.7M2369.6 782h11.7M2369.6 774h11.7M2369.6 767.3h11.7M2369.6 761.4h11.7M2369.6 756.2h11.7M2369.6 923.3h11.7M2369.6 905.5h11.7M2369.6 892.9h11.7M2369.6 883.1h11.7M2369.6 875.1h11.7M2369.6 868.3h11.7M2369.6 862.4h11.7M2369.6 857.3h11.7M2369.6 1024.3h11.7M2369.6 1006.5h11.7M2369.6 993.9h11.7M2369.6 984.1h11.7M2369.6 976.1h11.7M2369.6 969.3h11.7M2369.6 963.5h11.7M2369.6 958.3h11.7M2369.6 1125.4h11.7M2369.6 1107.6h11.7M2369.6 1094.9h11.7M2369.6 1085.1h11.7M2369.6 1077.1h11.7M2369.6 1070.4h11.7M2369.6 1064.5h11.7M2369.6 1059.4h11.7M2369.6 1226.4h11.7M2369.6 1208.6h11.7M2369.6 1196h11.7M2369.6 1186.2h11.7M2369.6 1178.2h11.7M2369.6 1171.4h11.7M2369.6 1165.6h11.7M2369.6 1160.4h11.7M2369.6 1327.4h11.7M2369.6 1309.6h11.7M2369.6 1297h11.7M2369.6 1287.2h11.7M2369.6 1279.2h11.7M2369.6 1272.5h11.7M2369.6 1266.6h11.7M2369.6 1261.4h11.7M2369.6 1428.5h11.7M2369.6 1410.7h11.7M2369.6 1398.1h11.7M2369.6 1388.3h11.7M2369.6 1380.3h11.7M2369.6 1373.5h11.7M2369.6 1367.7h11.7M2369.6 1362.5h11.7M2435.1 1458.9v-11.1M2566.1 1458.9v-11.1M2697.1 1458.9v-11.1M2828.1 1458.9v-11.1M2959.1 1458.9v-11.1M3090.1 1458.9v-11.1M3221.1 1458.9v-11.1M3352.1 1458.9v-11.1M3483.1 1458.9v-11.1M3614.1 1458.9v-11.1M3745.1 1458.9v-11.1M3876.1 1458.9v-11.1"/>
<rect class="fr" x="2369.6" y="246.4" width="1572" height="1212.5"/>
<text class="tl" text-anchor="middle" x="2370.4" y="1522.5">1</text>
<text class="tl" text-anchor="middle" x="2501.4" y="1522.5">2</text>
<text class="tl" text-anchor="middle" x="2632.4" y="1522.5">3</text>
<text class="tl" text-anchor="middle" x="2763.4" y="1522.5">4</text>
<text class="tl" text-anchor="middle" x="2894.4" y="1522.5">5</text>
<text class="tl" text-anchor="middle" x="3025.4" y="1522.5">6</text>
<text class="tl" text-anchor="middle" x="3156.4" y="1522.5">7</text>
<text class="tl" text-anchor="middle" x="3287.4" y="1522.5">8</text>
<text class="tl" text-anchor="middle" x="3418.4" y="1522.5">9</text>
<text class="tl" text-anchor="middle" x="3551.6" y="1522.5">10</text>
<text class="tl" text-anchor="middle" x="3682.6" y="1522.5">11</text>
<text class="tl" text-anchor="middle" x="3813.6" y="1522.5">12</text>
<text class="tl" text-anchor="middle" x="3944.6" y="1522.5">13</text>
<text class="tl" x="2277.5" y="265.5">10<tspan class="sp" dy="-25.2">6</tspan></text>
<text class="tl" x="2277.5" y="366.5">10<tspan class="sp" dy="-25.2">5</tspan></text>
<text class="tl" x="2277.5" y="467.6">10<tspan class="sp" dy="-25.2">4</tspan></text>
<text class="tl" x="2277.5" y="568.6">10<tspan class="sp" dy="-25.2">3</tspan></text>
<text class="tl" x="2277.5" y="669.7">10<tspan class="sp" dy="-25.2">2</tspan></text>
<text class="tl" x="2277.5" y="770.7">10<tspan class="sp" dy="-25.2">1</tspan></text>
<text class="tl" x="2277.5" y="871.8">10<tspan class="sp" dy="-25.2">0</tspan></text>
<text class="tl" x="2277.5" y="972.8">10<tspan class="sp" dy="-25.2">-1</tspan></text>
<text class="tl" x="2277.5" y="1073.8">10<tspan class="sp" dy="-25.2">-2</tspan></text>
<text class="tl" x="2277.5" y="1174.9">10<tspan class="sp" dy="-25.2">-3</tspan></text>
<text class="tl" x="2277.5" y="1275.9">10<tspan class="sp" dy="-25.2">-4</tspan></text>
<text class="tl" x="2277.5" y="1377">10<tspan class="sp" dy="-25.2">-5</tspan></text>
<text class="tl" x="2277.5" y="1478">10<tspan class="sp" dy="-25.2">-6</tspan></text>
<text class="al" text-anchor="middle" x="3156.8" y="1610.3">pH</text>
<text class="al" text-anchor="middle" transform="translate(2226.3 852.7) rotate(-90)">Fe (mg/L)</text>
<text class="tag" x="2140.6" y="273.3">(b)</text>
<rect class="hbl" x="2369.6" y="223.3" width="131" height="2"/><rect class="hbl" x="2500.6" y="155.9" width="131" height="69.4"/><rect class="hgr" x="2500.6" y="98.8" width="131" height="57.1"/><rect class="hbl" x="2631.6" y="167.4" width="131" height="57.9"/><rect class="hgr" x="2631.6" y="118.9" width="131" height="48.5"/><rect class="hbl" x="2762.6" y="211.6" width="131" height="13.7"/><rect class="hgr" x="2762.6" y="191.4" width="131" height="20.2"/><rect class="hbl" x="2893.6" y="206.4" width="131" height="18.9"/><rect class="hgr" x="2893.6" y="190.7" width="131" height="15.7"/><rect class="hbl" x="3024.6" y="190.7" width="131" height="34.6"/><rect class="hgr" x="3024.6" y="146.9" width="131" height="43.8"/><rect class="hbl" x="3155.6" y="165.4" width="131" height="59.9"/><rect class="hgr" x="3155.6" y="114.1" width="131" height="51.3"/><rect class="hbl" x="3286.6" y="211.6" width="131" height="13.7"/><rect class="hgr" x="3286.6" y="191.8" width="131" height="19.8"/><rect class="hgr" x="3417.6" y="220.6" width="131" height="4.7"/><path class="hl" d="M3548.6 225.3h131"/><path class="hl" d="M3810.6 225.3h131"/><path class="hl hr" d="M3958.2 347.4v101"/><rect class="hbl" x="3958.2" y="448.5" width="28.1" height="101"/><rect class="hgr" x="3986.3" y="448.5" width="11.5" height="101"/><rect class="hbl" x="3958.2" y="549.5" width="97.9" height="101"/><rect class="hgr" x="4056.1" y="549.5" width="87.8" height="101"/><rect class="hbl" x="3958.2" y="650.6" width="51.8" height="101"/><rect class="hgr" x="4010" y="650.6" width="69.8" height="101"/><rect class="hbl" x="3958.2" y="751.6" width="34.5" height="101"/><rect class="hgr" x="3992.7" y="751.6" width="46.1" height="101"/><rect class="hbl" x="3958.2" y="852.6" width="46.8" height="101"/><rect class="hgr" x="4005" y="852.6" width="82" height="101"/><rect class="hbl" x="3958.2" y="953.7" width="54" height="101"/><rect class="hgr" x="4012.2" y="953.7" width="35.2" height="101"/><rect class="hbl" x="3958.2" y="1054.7" width="18.7" height="101"/><rect class="hgr" x="3958.2" y="1256.8" width="2.2" height="101"/>
</g>
<g id="panel-c">
<path class="grid" d="M407 1848.4V3060.9M538 1848.4V3060.9M669 1848.4V3060.9M800 1848.4V3060.9M931 1848.4V3060.9M1062 1848.4V3060.9M1193 1848.4V3060.9M1324 1848.4V3060.9M1455 1848.4V3060.9M1586 1848.4V3060.9M1717 1848.4V3060.9M276 1949.4H1848M276 2050.5H1848M276 2151.5H1848M276 2252.6H1848M276 2353.6H1848M276 2454.7H1848M276 2555.7H1848M276 2656.7H1848M276 2757.8H1848M276 2858.8H1848M276 2959.9H1848"/>
<g class="pb"><circle cx="302" cy="2279" r="12.4"/><circle cx="370" cy="2269" r="12.4"/><circle cx="330" cy="2320" r="12.4"/><circle cx="333" cy="2323" r="12.4"/><circle cx="341" cy="2325" r="12.4"/><circle cx="348" cy="2330" r="12.4"/><circle cx="351" cy="2334" r="12.4"/><circle cx="407" cy="2170" r="12.4"/><circle cx="399" cy="2182" r="12.4"/><circle cx="420" cy="2192" r="12.4"/><circle cx="473" cy="2178" r="12.4"/><circle cx="499" cy="2176" r="12.4"/><circle cx="813" cy="2081" r="12.4"/><circle cx="883" cy="2097" r="12.4"/><circle cx="881" cy="2229" r="12.4"/><circle cx="603" cy="2184" r="12.4"/><circle cx="473" cy="2197" r="12.4"/><circle cx="486" cy="2201" r="12.4"/><circle cx="489" cy="2199" r="12.4"/><circle cx="648" cy="2304" r="12.4"/><circle cx="579" cy="2170" r="12.4"/><circle cx="613" cy="2164" r="12.4"/><circle cx="588" cy="2165" r="12.4"/><circle cx="614" cy="2161" r="12.4"/><circle cx="601" cy="2165" r="12.4"/><circle cx="629" cy="2161" r="12.4"/><circle cx="624" cy="2163" r="12.4"/><circle cx="588" cy="2171" r="12.4"/><circle cx="588" cy="2170" r="12.4"/><circle cx="611" cy="2162" r="12.4"/><circle cx="597" cy="2171" r="12.4"/><circle cx="633" cy="2162" r="12.4"/><circle cx="620" cy="2160" r="12.4"/><circle cx="618" cy="2160" r="12.4"/><circle cx="610" cy="2164" r="12.4"/><circle cx="592" cy="2168" r="12.4"/><circle cx="614" cy="2157" r="12.4"/><circle cx="633" cy="2161" r="12.4"/><circle cx="594" cy="2170" r="12.4"/><circle cx="604" cy="2163" r="12.4"/><circle cx="590" cy="2165" r="12.4"/><circle cx="615" cy="2165" r="12.4"/><circle cx="573" cy="2193" r="12.4"/><circle cx="559" cy="2207" r="12.4"/><circle cx="501" cy="2218" r="12.4"/><circle cx="503" cy="2219" r="12.4"/><circle cx="532" cy="2204" r="12.4"/><circle cx="555" cy="2216" r="12.4"/><circle cx="524" cy="2234" r="12.4"/><circle cx="560" cy="2191" r="12.4"/><circle cx="500" cy="2208" r="12.4"/><circle cx="539" cy="2226" r="12.4"/><circle cx="517" cy="2190" r="12.4"/><circle cx="555" cy="2210" r="12.4"/><circle cx="569" cy="2231" r="12.4"/><circle cx="545" cy="2193" r="12.4"/><circle cx="541" cy="2210" r="12.4"/><circle cx="529" cy="2219" r="12.4"/><circle cx="547" cy="2213" r="12.4"/><circle cx="575" cy="2216" r="12.4"/><circle cx="548" cy="2220" r="12.4"/><circle cx="552" cy="2193" r="12.4"/><circle cx="554" cy="2227" r="12.4"/><circle cx="533" cy="2186" r="12.4"/><circle cx="559" cy="2193" r="12.4"/><circle cx="505" cy="2203" r="12.4"/><circle cx="506" cy="2215" r="12.4"/><circle cx="530" cy="2210" r="12.4"/><circle cx="574" cy="2231" r="12.4"/><circle cx="531" cy="2184" r="12.4"/><circle cx="567" cy="2240" r="12.4"/><circle cx="562" cy="2222" r="12.4"/><circle cx="558" cy="2222" r="12.4"/><circle cx="534" cy="2227" r="12.4"/><circle cx="536" cy="2185" r="12.4"/><circle cx="545" cy="2241" r="12.4"/><circle cx="539" cy="2172" r="12.4"/><circle cx="576" cy="2213" r="12.4"/><circle cx="558" cy="2199" r="12.4"/><circle cx="556" cy="2241" r="12.4"/><circle cx="527" cy="2223" r="12.4"/><circle cx="553" cy="2191" r="12.4"/><circle cx="549" cy="2221" r="12.4"/><circle cx="522" cy="2232" r="12.4"/><circle cx="515" cy="2232" r="12.4"/><circle cx="560" cy="2214" r="12.4"/><circle cx="524" cy="2192" r="12.4"/><circle cx="541" cy="2220" r="12.4"/><circle cx="571" cy="2213" r="12.4"/><circle cx="535" cy="2229" r="12.4"/><circle cx="544" cy="2208" r="12.4"/><circle cx="513" cy="2230" r="12.4"/><circle cx="421" cy="2227" r="12.4"/><circle cx="447" cy="2224" r="12.4"/><circle cx="404" cy="2217" r="12.4"/><circle cx="422" cy="2231" r="12.4"/><circle cx="472" cy="2244" r="12.4"/><circle cx="454" cy="2246" r="12.4"/><circle cx="429" cy="2219" r="12.4"/><circle cx="458" cy="2225" r="12.4"/><circle cx="414" cy="2248" r="12.4"/><circle cx="427" cy="2231" r="12.4"/><circle cx="403" cy="2248" r="12.4"/><circle cx="446" cy="2256" r="12.4"/><circle cx="435" cy="2223" r="12.4"/><circle cx="490" cy="2231" r="12.4"/><circle cx="462" cy="2238" r="12.4"/><circle cx="449" cy="2237" r="12.4"/><circle cx="441" cy="2238" r="12.4"/><circle cx="417" cy="2243" r="12.4"/><circle cx="431" cy="2237" r="12.4"/><circle cx="491" cy="2238" r="12.4"/><circle cx="416" cy="2240" r="12.4"/><circle cx="405" cy="2237" r="12.4"/><circle cx="484" cy="2219" r="12.4"/><circle cx="441" cy="2221" r="12.4"/><circle cx="450" cy="2239" r="12.4"/><circle cx="450" cy="2230" r="12.4"/><circle cx="433" cy="2246" r="12.4"/><circle cx="424" cy="2210" r="12.4"/><circle cx="485" cy="2239" r="12.4"/><circle cx="419" cy="2238" r="12.4"/><circle cx="413" cy="2344" r="12.4"/><circle cx="396" cy="2327" r="12.4"/><circle cx="414" cy="2309" r="12.4"/><circle cx="403" cy="2331" r="12.4"/><circle cx="403" cy="2312" r="12.4"/><circle cx="409" cy="2340" r="12.4"/><circle cx="410" cy="2292" r="12.4"/><circle cx="405" cy="2277" r="12.4"/><circle cx="397" cy="2296" r="12.4"/><circle cx="424" cy="2285" r="12.4"/><circle cx="406" cy="2320" r="12.4"/><circle cx="416" cy="2288" r="12.4"/><circle cx="410" cy="2280" r="12.4"/><circle cx="413" cy="2343" r="12.4"/><circle cx="414" cy="2265" r="12.4"/><circle cx="419" cy="2331" r="12.4"/><circle cx="406" cy="2297" r="12.4"/><circle cx="421" cy="2263" r="12.4"/><circle cx="419" cy="2308" r="12.4"/><circle cx="415" cy="2302" r="12.4"/><circle cx="400" cy="2302" r="12.4"/><circle cx="417" cy="2261" r="12.4"/><circle cx="457" cy="2281" r="12.4"/><circle cx="516" cy="2264" r="12.4"/><circle cx="489" cy="2281" r="12.4"/><circle cx="470" cy="2255" r="12.4"/><circle cx="433" cy="2283" r="12.4"/><circle cx="489" cy="2272" r="12.4"/><circle cx="415" cy="2281" r="12.4"/><circle cx="442" cy="2275" r="12.4"/><circle cx="485" cy="2309" r="12.4"/><circle cx="468" cy="2285" r="12.4"/><circle cx="532" cy="2290" r="12.4"/><circle cx="411" cy="2284" r="12.4"/><circle cx="502" cy="2284" r="12.4"/><circle cx="461" cy="2302" r="12.4"/><circle cx="464" cy="2301" r="12.4"/><circle cx="514" cy="2276" r="12.4"/><circle cx="503" cy="2271" r="12.4"/><circle cx="424" cy="2297" r="12.4"/><circle cx="494" cy="2312" r="12.4"/><circle cx="501" cy="2282" r="12.4"/><circle cx="468" cy="2247" r="12.4"/><circle cx="453" cy="2281" r="12.4"/><circle cx="532" cy="2254" r="12.4"/><circle cx="463" cy="2277" r="12.4"/><circle cx="495" cy="2309" r="12.4"/><circle cx="516" cy="2240" r="12.4"/><circle cx="471" cy="2313" r="12.4"/><circle cx="524" cy="2311" r="12.4"/><circle cx="482" cy="2306" r="12.4"/><circle cx="463" cy="2352" r="12.4"/><circle cx="525" cy="2309" r="12.4"/><circle cx="461" cy="2295" r="12.4"/><circle cx="502" cy="2299" r="12.4"/><circle cx="528" cy="2259" r="12.4"/><circle cx="516" cy="2280" r="12.4"/><circle cx="459" cy="2322" r="12.4"/><circle cx="502" cy="2318" r="12.4"/><circle cx="539" cy="2300" r="12.4"/><circle cx="534" cy="2278" r="12.4"/><circle cx="524" cy="2335" r="12.4"/><circle cx="474" cy="2285" r="12.4"/><circle cx="538" cy="2273" r="12.4"/><circle cx="447" cy="2298" r="12.4"/><circle cx="511" cy="2326" r="12.4"/><circle cx="466" cy="2314" r="12.4"/><circle cx="449" cy="2260" r="12.4"/><circle cx="421" cy="2307" r="12.4"/><circle cx="454" cy="2320" r="12.4"/><circle cx="531" cy="2306" r="12.4"/><circle cx="447" cy="2345" r="12.4"/><circle cx="531" cy="2286" r="12.4"/><circle cx="535" cy="2317" r="12.4"/><circle cx="432" cy="2272" r="12.4"/><circle cx="494" cy="2262" r="12.4"/><circle cx="418" cy="2280" r="12.4"/><circle cx="516" cy="2301" r="12.4"/><circle cx="518" cy="2288" r="12.4"/><circle cx="519" cy="2292" r="12.4"/><circle cx="462" cy="2302" r="12.4"/><circle cx="453" cy="2278" r="12.4"/><circle cx="528" cy="2330" r="12.4"/><circle cx="459" cy="2282" r="12.4"/><circle cx="466" cy="2255" r="12.4"/><circle cx="448" cy="2317" r="12.4"/><circle cx="443" cy="2285" r="12.4"/><circle cx="531" cy="2287" r="12.4"/><circle cx="454" cy="2248" r="12.4"/><circle cx="509" cy="2289" r="12.4"/><circle cx="454" cy="2278" r="12.4"/><circle cx="501" cy="2286" r="12.4"/><circle cx="485" cy="2309" r="12.4"/><circle cx="463" cy="2265" r="12.4"/><circle cx="471" cy="2328" r="12.4"/><circle cx="484" cy="2346" r="12.4"/><circle cx="488" cy="2266" r="12.4"/><circle cx="494" cy="2290" r="12.4"/><circle cx="464" cy="2289" r="12.4"/><circle cx="525" cy="2324" r="12.4"/><circle cx="500" cy="2303" r="12.4"/><circle cx="513" cy="2319" r="12.4"/><circle cx="697" cy="2295" r="12.4"/><circle cx="708" cy="2328" r="12.4"/><circle cx="699" cy="2310" r="12.4"/><circle cx="694" cy="2326" r="12.4"/><circle cx="687" cy="2296" r="12.4"/><circle cx="665" cy="2303" r="12.4"/><circle cx="700" cy="2282" r="12.4"/><circle cx="683" cy="2299" r="12.4"/><circle cx="692" cy="2313" r="12.4"/><circle cx="707" cy="2296" r="12.4"/><circle cx="686" cy="2291" r="12.4"/><circle cx="686" cy="2303" r="12.4"/><circle cx="691" cy="2323" r="12.4"/><circle cx="697" cy="2282" r="12.4"/><circle cx="680" cy="2297" r="12.4"/><circle cx="683" cy="2321" r="12.4"/><circle cx="704" cy="2312" r="12.4"/><circle cx="713" cy="2290" r="12.4"/><circle cx="394" cy="2348" r="12.4"/><circle cx="408" cy="2407" r="12.4"/><circle cx="420" cy="2409" r="12.4"/><circle cx="432" cy="2409" r="12.4"/><circle cx="422" cy="2471" r="12.4"/><circle cx="456" cy="2457" r="12.4"/><circle cx="477" cy="2460" r="12.4"/><circle cx="432" cy="2453" r="12.4"/><circle cx="499" cy="2422" r="12.4"/><circle cx="497" cy="2356" r="12.4"/><circle cx="457" cy="2417" r="12.4"/><circle cx="474" cy="2349" r="12.4"/><circle cx="490" cy="2356" r="12.4"/><circle cx="489" cy="2394" r="12.4"/><circle cx="462" cy="2353" r="12.4"/><circle cx="466" cy="2431" r="12.4"/><circle cx="498" cy="2400" r="12.4"/><circle cx="521" cy="2337" r="12.4"/><circle cx="478" cy="2310" r="12.4"/><circle cx="539" cy="2387" r="12.4"/><circle cx="449" cy="2426" r="12.4"/><circle cx="455" cy="2432" r="12.4"/><circle cx="437" cy="2399" r="12.4"/><circle cx="434" cy="2332" r="12.4"/><circle cx="467" cy="2370" r="12.4"/><circle cx="439" cy="2397" r="12.4"/><circle cx="583" cy="2410" r="12.4"/><circle cx="490" cy="2345" r="12.4"/><circle cx="498" cy="2379" r="12.4"/><circle cx="556" cy="2404" r="12.4"/><circle cx="480" cy="2414" r="12.4"/><circle cx="483" cy="2341" r="12.4"/><circle cx="436" cy="2342" r="12.4"/><circle cx="511" cy="2365" r="12.4"/><circle cx="538" cy="2328" r="12.4"/><circle cx="502" cy="2395" r="12.4"/><circle cx="506" cy="2394" r="12.4"/><circle cx="459" cy="2383" r="12.4"/><circle cx="463" cy="2372" r="12.4"/><circle cx="543" cy="2360" r="12.4"/><circle cx="558" cy="2376" r="12.4"/><circle cx="498" cy="2403" r="12.4"/><circle cx="590" cy="2387" r="12.4"/><circle cx="461" cy="2431" r="12.4"/><circle cx="526" cy="2350" r="12.4"/><circle cx="419" cy="2376" r="12.4"/><circle cx="469" cy="2354" r="12.4"/><circle cx="512" cy="2408" r="12.4"/><circle cx="569" cy="2387" r="12.4"/><circle cx="444" cy="2332" r="12.4"/><circle cx="423" cy="2401" r="12.4"/><circle cx="408" cy="2355" r="12.4"/><circle cx="428" cy="2363" r="12.4"/><circle cx="471" cy="2366" r="12.4"/><circle cx="580" cy="2411" r="12.4"/><circle cx="477" cy="2340" r="12.4"/><circle cx="526" cy="2368" r="12.4"/><circle cx="492" cy="2338" r="12.4"/><circle cx="519" cy="2392" r="12.4"/><circle cx="531" cy="2384" r="12.4"/><circle cx="508" cy="2340" r="12.4"/><circle cx="554" cy="2392" r="12.4"/><circle cx="585" cy="2369" r="12.4"/><circle cx="480" cy="2419" r="12.4"/><circle cx="474" cy="2399" r="12.4"/><circle cx="493" cy="2374" r="12.4"/><circle cx="502" cy="2328" r="12.4"/><circle cx="544" cy="2354" r="12.4"/><circle cx="539" cy="2413" r="12.4"/><circle cx="501" cy="2437" r="12.4"/><circle cx="502" cy="2332" r="12.4"/><circle cx="495" cy="2451" r="12.4"/><circle cx="546" cy="2352" r="12.4"/><circle cx="536" cy="2389" r="12.4"/><circle cx="528" cy="2389" r="12.4"/><circle cx="458" cy="2417" r="12.4"/><circle cx="504" cy="2370" r="12.4"/><circle cx="498" cy="2363" r="12.4"/><circle cx="497" cy="2375" r="12.4"/><circle cx="510" cy="2372" r="12.4"/><circle cx="523" cy="2415" r="12.4"/><circle cx="496" cy="2410" r="12.4"/><circle cx="471" cy="2381" r="12.4"/><circle cx="504" cy="2332" r="12.4"/><circle cx="516" cy="2394" r="12.4"/><circle cx="449" cy="2346" r="12.4"/><circle cx="470" cy="2400" r="12.4"/><circle cx="464" cy="2415" r="12.4"/><circle cx="552" cy="2392" r="12.4"/><circle cx="440" cy="2437" r="12.4"/><circle cx="541" cy="2379" r="12.4"/><circle cx="524" cy="2357" r="12.4"/><circle cx="549" cy="2373" r="12.4"/><circle cx="468" cy="2329" r="12.4"/><circle cx="484" cy="2374" r="12.4"/><circle cx="453" cy="2324" r="12.4"/><circle cx="568" cy="2368" r="12.4"/><circle cx="462" cy="2413" r="12.4"/><circle cx="699" cy="2364" r="12.4"/><circle cx="1012" cy="2398" r="12.4"/><circle cx="811" cy="2466" r="12.4"/><circle cx="940" cy="2337" r="12.4"/><circle cx="789" cy="2412" r="12.4"/><circle cx="720" cy="2447" r="12.4"/><circle cx="871" cy="2460" r="12.4"/><circle cx="680" cy="2359" r="12.4"/><circle cx="747" cy="2409" r="12.4"/><circle cx="727" cy="2409" r="12.4"/><circle cx="952" cy="2413" r="12.4"/><circle cx="981" cy="2410" r="12.4"/><circle cx="965" cy="2424" r="12.4"/><circle cx="822" cy="2474" r="12.4"/><circle cx="858" cy="2476" r="12.4"/><circle cx="664" cy="2413" r="12.4"/><circle cx="751" cy="2456" r="12.4"/><circle cx="985" cy="2462" r="12.4"/><circle cx="780" cy="2341" r="12.4"/><circle cx="1010" cy="2362" r="12.4"/><circle cx="952" cy="2421" r="12.4"/><circle cx="914" cy="2439" r="12.4"/><circle cx="720" cy="2389" r="12.4"/><circle cx="778" cy="2438" r="12.4"/><circle cx="894" cy="2482" r="12.4"/><circle cx="838" cy="2384" r="12.4"/><circle cx="674" cy="2398" r="12.4"/><circle cx="861" cy="2436" r="12.4"/><circle cx="638" cy="2360" r="12.4"/><circle cx="877" cy="2451" r="12.4"/><circle cx="997" cy="2351" r="12.4"/><circle cx="913" cy="2399" r="12.4"/><circle cx="859" cy="2435" r="12.4"/><circle cx="787" cy="2423" r="12.4"/><circle cx="971" cy="2368" r="12.4"/><circle cx="935" cy="2470" r="12.4"/><circle cx="788" cy="2414" r="12.4"/><circle cx="700" cy="2438" r="12.4"/><circle cx="1016" cy="2480" r="12.4"/><circle cx="962" cy="2397" r="12.4"/><circle cx="996" cy="2462" r="12.4"/><circle cx="792" cy="2388" r="12.4"/><circle cx="756" cy="2380" r="12.4"/><circle cx="851" cy="2394" r="12.4"/><circle cx="865" cy="2396" r="12.4"/><circle cx="1019" cy="2483" r="12.4"/><circle cx="908" cy="2442" r="12.4"/><circle cx="776" cy="2437" r="12.4"/><circle cx="723" cy="2455" r="12.4"/><circle cx="853" cy="2366" r="12.4"/><circle cx="710" cy="2390" r="12.4"/><circle cx="763" cy="2432" r="12.4"/><circle cx="809" cy="2335" r="12.4"/><circle cx="755" cy="2400" r="12.4"/><circle cx="1016" cy="2472" r="12.4"/><circle cx="869" cy="2478" r="12.4"/><circle cx="686" cy="2362" r="12.4"/><circle cx="686" cy="2369" r="12.4"/><circle cx="737" cy="2413" r="12.4"/><circle cx="976" cy="2384" r="12.4"/><circle cx="754" cy="2402" r="12.4"/><circle cx="1000" cy="2408" r="12.4"/><circle cx="1013" cy="2377" r="12.4"/><circle cx="844" cy="2427" r="12.4"/><circle cx="910" cy="2459" r="12.4"/><circle cx="674" cy="2362" r="12.4"/><circle cx="821" cy="2406" r="12.4"/><circle cx="1015" cy="2404" r="12.4"/><circle cx="903" cy="2453" r="12.4"/><circle cx="788" cy="2463" r="12.4"/><circle cx="689" cy="2359" r="12.4"/><circle cx="759" cy="2381" r="12.4"/><circle cx="980" cy="2407" r="12.4"/><circle cx="796" cy="2455" r="12.4"/><circle cx="797" cy="2378" r="12.4"/><circle cx="763" cy="2419" r="12.4"/><circle cx="985" cy="2472" r="12.4"/><circle cx="636" cy="2386" r="12.4"/><circle cx="901" cy="2406" r="12.4"/><circle cx="916" cy="2474" r="12.4"/><circle cx="645" cy="2437" r="12.4"/><circle cx="722" cy="2430" r="12.4"/><circle cx="702" cy="2352" r="12.4"/><circle cx="960" cy="2431" r="12.4"/><circle cx="878" cy="2396" r="12.4"/><circle cx="1000" cy="2452" r="12.4"/><circle cx="923" cy="2342" r="12.4"/><circle cx="632" cy="2402" r="12.4"/><circle cx="667" cy="2424" r="12.4"/><circle cx="748" cy="2449" r="12.4"/><circle cx="692" cy="2407" r="12.4"/><circle cx="789" cy="2366" r="12.4"/><circle cx="757" cy="2359" r="12.4"/><circle cx="746" cy="2398" r="12.4"/><circle cx="781" cy="2431" r="12.4"/><circle cx="973" cy="2408" r="12.4"/><circle cx="706" cy="2408" r="12.4"/><circle cx="633" cy="2373" r="12.4"/><circle cx="991" cy="2419" r="12.4"/><circle cx="657" cy="2437" r="12.4"/><circle cx="691" cy="2446" r="12.4"/><circle cx="634" cy="2403" r="12.4"/><circle cx="984" cy="2434" r="12.4"/><circle cx="633" cy="2432" r="12.4"/><circle cx="749" cy="2364" r="12.4"/><circle cx="848" cy="2446" r="12.4"/><circle cx="981" cy="2428" r="12.4"/><circle cx="799" cy="2470" r="12.4"/><circle cx="1013" cy="2413" r="12.4"/><circle cx="920" cy="2425" r="12.4"/><circle cx="901" cy="2434" r="12.4"/><circle cx="898" cy="2434" r="12.4"/><circle cx="817" cy="2359" r="12.4"/><circle cx="758" cy="2380" r="12.4"/><circle cx="897" cy="2351" r="12.4"/><circle cx="899" cy="2403" r="12.4"/><circle cx="990" cy="2395" r="12.4"/><circle cx="921" cy="2352" r="12.4"/><circle cx="950" cy="2367" r="12.4"/><circle cx="793" cy="2447" r="12.4"/><circle cx="660" cy="2435" r="12.4"/><circle cx="900" cy="2476" r="12.4"/><circle cx="1019" cy="2449" r="12.4"/><circle cx="690" cy="2373" r="12.4"/><circle cx="948" cy="2406" r="12.4"/><circle cx="794" cy="2466" r="12.4"/><circle cx="960" cy="2376" r="12.4"/><circle cx="956" cy="2482" r="12.4"/><circle cx="896" cy="2364" r="12.4"/><circle cx="837" cy="2416" r="12.4"/><circle cx="739" cy="2444" r="12.4"/><circle cx="674" cy="2356" r="12.4"/><circle cx="1000" cy="2382" r="12.4"/><circle cx="685" cy="2450" r="12.4"/><circle cx="942" cy="2398" r="12.4"/><circle cx="819" cy="2331" r="12.4"/><circle cx="1001" cy="2440" r="12.4"/><circle cx="897" cy="2392" r="12.4"/><circle cx="746" cy="2442" r="12.4"/><circle cx="938" cy="2343" r="12.4"/><circle cx="904" cy="2404" r="12.4"/><circle cx="657" cy="2407" r="12.4"/><circle cx="995" cy="2448" r="12.4"/><circle cx="914" cy="2428" r="12.4"/><circle cx="705" cy="2414" r="12.4"/><circle cx="802" cy="2474" r="12.4"/><circle cx="751" cy="2428" r="12.4"/><circle cx="923" cy="2454" r="12.4"/><circle cx="659" cy="2394" r="12.4"/><circle cx="858" cy="2382" r="12.4"/><circle cx="734" cy="2356" r="12.4"/><circle cx="763" cy="2345" r="12.4"/><circle cx="1019" cy="2441" r="12.4"/><circle cx="1000" cy="2339" r="12.4"/><circle cx="672" cy="2430" r="12.4"/><circle cx="1011" cy="2392" r="12.4"/><circle cx="750" cy="2391" r="12.4"/><circle cx="628" cy="2361" r="12.4"/><circle cx="685" cy="2352" r="12.4"/><circle cx="1009" cy="2430" r="12.4"/><circle cx="954" cy="2395" r="12.4"/><circle cx="837" cy="2386" r="12.4"/><circle cx="810" cy="2451" r="12.4"/><circle cx="894" cy="2354" r="12.4"/><circle cx="731" cy="2430" r="12.4"/><circle cx="827" cy="2413" r="12.4"/><circle cx="645" cy="2374" r="12.4"/><circle cx="800" cy="2468" r="12.4"/><circle cx="1010" cy="2343" r="12.4"/><circle cx="795" cy="2359" r="12.4"/><circle cx="852" cy="2326" r="12.4"/><circle cx="854" cy="2328" r="12.4"/><circle cx="856" cy="2341" r="12.4"/><circle cx="799" cy="2337" r="12.4"/><circle cx="793" cy="2341" r="12.4"/><circle cx="904" cy="2341" r="12.4"/><circle cx="924" cy="2348" r="12.4"/><circle cx="932" cy="2351" r="12.4"/><circle cx="597" cy="2492" r="12.4"/><circle cx="616" cy="2511" r="12.4"/><circle cx="556" cy="2507" r="12.4"/><circle cx="722" cy="2506" r="12.4"/><circle cx="758" cy="2548" r="12.4"/><circle cx="806" cy="2544" r="12.4"/><circle cx="806" cy="2548" r="12.4"/><circle cx="838" cy="2548" r="12.4"/><circle cx="865" cy="2535" r="12.4"/><circle cx="870" cy="2538" r="12.4"/><circle cx="904" cy="2536" r="12.4"/><circle cx="900" cy="2560" r="12.4"/><circle cx="922" cy="2556" r="12.4"/><circle cx="958" cy="2541" r="12.4"/><circle cx="972" cy="2545" r="12.4"/><circle cx="748" cy="2586" r="12.4"/><circle cx="484" cy="2626" r="12.4"/><circle cx="603" cy="2609" r="12.4"/><circle cx="853" cy="2626" r="12.4"/><circle cx="905" cy="2626" r="12.4"/><circle cx="947" cy="2609" r="12.4"/><circle cx="865" cy="2656" r="12.4"/><circle cx="976" cy="2656" r="12.4"/><circle cx="984" cy="2578" r="12.4"/><circle cx="995" cy="2580" r="12.4"/><circle cx="1002" cy="2569" r="12.4"/><circle cx="1008" cy="2587" r="12.4"/><circle cx="999" cy="2594" r="12.4"/><circle cx="1043" cy="2191" r="12.4"/><circle cx="1088" cy="2207" r="12.4"/><circle cx="1115" cy="2207" r="12.4"/><circle cx="1102" cy="2221" r="12.4"/><circle cx="1134" cy="2231" r="12.4"/><circle cx="1148" cy="2199" r="12.4"/><circle cx="1154" cy="2189" r="12.4"/><circle cx="1157" cy="2216" r="12.4"/><circle cx="1164" cy="2213" r="12.4"/><circle cx="1186" cy="2192" r="12.4"/><circle cx="1188" cy="2185" r="12.4"/><circle cx="1211" cy="2200" r="12.4"/><circle cx="1211" cy="2191" r="12.4"/><circle cx="1204" cy="2220" r="12.4"/><circle cx="1194" cy="2235" r="12.4"/><circle cx="1185" cy="2240" r="12.4"/><circle cx="1193" cy="2251" r="12.4"/><circle cx="1198" cy="2263" r="12.4"/><circle cx="1176" cy="2263" r="12.4"/><circle cx="1185" cy="2283" r="12.4"/><circle cx="1177" cy="2293" r="12.4"/><circle cx="1192" cy="2305" r="12.4"/><circle cx="1206" cy="2294" r="12.4"/><circle cx="1219" cy="2296" r="12.4"/><circle cx="1145" cy="2275" r="12.4"/><circle cx="1244" cy="2252" r="12.4"/><circle cx="1238" cy="2263" r="12.4"/><circle cx="1019" cy="2326" r="12.4"/><circle cx="1094" cy="2345" r="12.4"/><circle cx="1096" cy="2341" r="12.4"/><circle cx="1111" cy="2334" r="12.4"/><circle cx="1140" cy="2326" r="12.4"/><circle cx="1148" cy="2345" r="12.4"/><circle cx="1045" cy="2360" r="12.4"/><circle cx="1048" cy="2373" r="12.4"/><circle cx="1023" cy="2376" r="12.4"/><circle cx="1074" cy="2376" r="12.4"/><circle cx="1105" cy="2369" r="12.4"/><circle cx="1100" cy="2388" r="12.4"/><circle cx="1154" cy="2382" r="12.4"/><circle cx="1381" cy="2441" r="12.4"/><circle cx="1271" cy="2492" r="12.4"/><circle cx="1221" cy="2510" r="12.4"/><circle cx="1717" cy="2656" r="12.4"/><circle cx="1101" cy="2536" r="12.4"/><circle cx="1179" cy="2533" r="12.4"/><circle cx="1151" cy="2534" r="12.4"/><circle cx="1044" cy="2444" r="12.4"/><circle cx="1120" cy="2418" r="12.4"/><circle cx="1092" cy="2542" r="12.4"/><circle cx="1140" cy="2433" r="12.4"/><circle cx="1139" cy="2554" r="12.4"/><circle cx="1053" cy="2588" r="12.4"/><circle cx="1047" cy="2547" r="12.4"/><circle cx="1183" cy="2467" r="12.4"/><circle cx="1101" cy="2602" r="12.4"/><circle cx="1119" cy="2447" r="12.4"/><circle cx="1082" cy="2418" r="12.4"/><circle cx="1117" cy="2415" r="12.4"/><circle cx="1152" cy="2437" r="12.4"/><circle cx="1049" cy="2575" r="12.4"/><circle cx="1117" cy="2527" r="12.4"/><circle cx="1066" cy="2418" r="12.4"/><circle cx="1081" cy="2488" r="12.4"/><circle cx="1217" cy="2563" r="12.4"/><circle cx="1111" cy="2525" r="12.4"/><circle cx="1171" cy="2569" r="12.4"/><circle cx="1184" cy="2466" r="12.4"/><circle cx="1096" cy="2466" r="12.4"/><circle cx="1092" cy="2587" r="12.4"/><circle cx="1109" cy="2412" r="12.4"/><circle cx="1179" cy="2478" r="12.4"/><circle cx="1173" cy="2607" r="12.4"/><circle cx="1219" cy="2528" r="12.4"/><circle cx="1012" cy="2519" r="12.4"/><circle cx="1009" cy="2417" r="12.4"/><circle cx="1209" cy="2555" r="12.4"/><circle cx="1150" cy="2443" r="12.4"/><circle cx="1060" cy="2469" r="12.4"/><circle cx="1196" cy="2454" r="12.4"/><circle cx="1142" cy="2593" r="12.4"/><circle cx="1023" cy="2492" r="12.4"/><circle cx="1060" cy="2533" r="12.4"/><circle cx="1080" cy="2618" r="12.4"/><circle cx="1080" cy="2595" r="12.4"/><circle cx="1098" cy="2513" r="12.4"/><circle cx="1182" cy="2565" r="12.4"/><circle cx="1160" cy="2454" r="12.4"/><circle cx="1110" cy="2418" r="12.4"/><circle cx="1054" cy="2506" r="12.4"/><circle cx="1064" cy="2563" r="12.4"/><circle cx="1195" cy="2539" r="12.4"/><circle cx="1132" cy="2505" r="12.4"/><circle cx="1143" cy="2516" r="12.4"/><circle cx="1135" cy="2411" r="12.4"/><circle cx="1174" cy="2443" r="12.4"/><circle cx="1027" cy="2604" r="12.4"/><circle cx="1201" cy="2582" r="12.4"/><circle cx="1103" cy="2436" r="12.4"/><circle cx="1091" cy="2430" r="12.4"/><circle cx="1108" cy="2458" r="12.4"/><circle cx="1105" cy="2604" r="12.4"/><circle cx="1229" cy="2436" r="12.4"/><circle cx="1145" cy="2595" r="12.4"/><circle cx="1183" cy="2427" r="12.4"/><circle cx="1073" cy="2566" r="12.4"/><circle cx="1213" cy="2431" r="12.4"/><circle cx="1209" cy="2591" r="12.4"/><circle cx="1022" cy="2542" r="12.4"/><circle cx="1072" cy="2587" r="12.4"/><circle cx="1093" cy="2603" r="12.4"/><circle cx="1173" cy="2460" r="12.4"/><circle cx="1119" cy="2528" r="12.4"/><circle cx="1101" cy="2590" r="12.4"/><circle cx="1032" cy="2601" r="12.4"/><circle cx="1165" cy="2543" r="12.4"/><circle cx="1221" cy="2440" r="12.4"/><circle cx="1208" cy="2570" r="12.4"/><circle cx="1182" cy="2511" r="12.4"/><circle cx="1131" cy="2405" r="12.4"/><circle cx="1031" cy="2554" r="12.4"/><circle cx="1218" cy="2575" r="12.4"/><circle cx="1033" cy="2473" r="12.4"/><circle cx="1138" cy="2508" r="12.4"/><circle cx="1202" cy="2554" r="12.4"/><circle cx="1187" cy="2580" r="12.4"/><circle cx="1103" cy="2606" r="12.4"/><circle cx="1081" cy="2480" r="12.4"/><circle cx="1022" cy="2552" r="12.4"/><circle cx="1211" cy="2443" r="12.4"/><circle cx="1058" cy="2437" r="12.4"/><circle cx="1203" cy="2449" r="12.4"/><circle cx="1158" cy="2612" r="12.4"/><circle cx="1142" cy="2433" r="12.4"/><circle cx="1025" cy="2449" r="12.4"/><circle cx="1023" cy="2559" r="12.4"/><circle cx="1134" cy="2563" r="12.4"/><circle cx="1027" cy="2480" r="12.4"/><circle cx="1147" cy="2585" r="12.4"/><circle cx="1168" cy="2455" r="12.4"/><circle cx="1213" cy="2553" r="12.4"/><circle cx="1148" cy="2463" r="12.4"/><circle cx="1065" cy="2614" r="12.4"/><circle cx="1131" cy="2512" r="12.4"/><circle cx="1059" cy="2459" r="12.4"/><circle cx="1037" cy="2569" r="12.4"/><circle cx="1147" cy="2480" r="12.4"/><circle cx="1074" cy="2529" r="12.4"/><circle cx="1082" cy="2590" r="12.4"/><circle cx="1193" cy="2491" r="12.4"/><circle cx="1177" cy="2542" r="12.4"/><circle cx="1062" cy="2523" r="12.4"/><circle cx="1199" cy="2553" r="12.4"/><circle cx="1054" cy="2521" r="12.4"/><circle cx="1196" cy="2602" r="12.4"/><circle cx="1145" cy="2514" r="12.4"/><circle cx="1066" cy="2527" r="12.4"/><circle cx="1086" cy="2576" r="12.4"/><circle cx="1218" cy="2583" r="12.4"/><circle cx="1032" cy="2604" r="12.4"/><circle cx="1007" cy="2594" r="12.4"/><circle cx="1062" cy="2435" r="12.4"/><circle cx="1040" cy="2494" r="12.4"/><circle cx="1157" cy="2424" r="12.4"/><circle cx="1010" cy="2475" r="12.4"/><circle cx="1140" cy="2463" r="12.4"/><circle cx="1046" cy="2433" r="12.4"/><circle cx="1144" cy="2414" r="12.4"/><circle cx="1198" cy="2488" r="12.4"/><circle cx="1153" cy="2516" r="12.4"/><circle cx="1032" cy="2522" r="12.4"/><circle cx="1085" cy="2609" r="12.4"/><circle cx="1095" cy="2454" r="12.4"/><circle cx="1085" cy="2429" r="12.4"/><circle cx="1010" cy="2534" r="12.4"/><circle cx="1224" cy="2559" r="12.4"/><circle cx="1083" cy="2416" r="12.4"/><circle cx="1046" cy="2579" r="12.4"/><circle cx="1161" cy="2526" r="12.4"/><circle cx="1149" cy="2478" r="12.4"/><circle cx="1109" cy="2427" r="12.4"/><circle cx="1078" cy="2537" r="12.4"/><circle cx="1213" cy="2446" r="12.4"/><circle cx="1127" cy="2512" r="12.4"/><circle cx="1208" cy="2551" r="12.4"/><circle cx="1096" cy="2413" r="12.4"/><circle cx="1221" cy="2450" r="12.4"/><circle cx="1157" cy="2587" r="12.4"/><circle cx="1130" cy="2508" r="12.4"/><circle cx="1148" cy="2430" r="12.4"/><circle cx="1226" cy="2422" r="12.4"/><circle cx="1031" cy="2453" r="12.4"/><circle cx="1200" cy="2507" r="12.4"/><circle cx="1198" cy="2537" r="12.4"/><circle cx="1187" cy="2457" r="12.4"/><circle cx="1155" cy="2452" r="12.4"/><circle cx="1139" cy="2413" r="12.4"/><circle cx="1216" cy="2587" r="12.4"/><circle cx="1169" cy="2430" r="12.4"/><circle cx="1180" cy="2456" r="12.4"/><circle cx="1187" cy="2614" r="12.4"/><circle cx="1103" cy="2527" r="12.4"/><circle cx="1033" cy="2471" r="12.4"/><circle cx="1126" cy="2477" r="12.4"/><circle cx="1174" cy="2604" r="12.4"/><circle cx="1189" cy="2594" r="12.4"/><circle cx="1197" cy="2555" r="12.4"/><circle cx="1001" cy="2411" r="12.4"/><circle cx="1043" cy="2531" r="12.4"/><circle cx="1081" cy="2573" r="12.4"/><circle cx="1000" cy="2513" r="12.4"/><circle cx="1055" cy="2474" r="12.4"/><circle cx="1101" cy="2472" r="12.4"/><circle cx="1039" cy="2601" r="12.4"/><circle cx="1068" cy="2656" r="12.4"/><circle cx="1094" cy="2656" r="12.4"/><circle cx="1107" cy="2656" r="12.4"/><circle cx="1232" cy="2656" r="12.4"/><circle cx="1236" cy="2656" r="12.4"/><circle cx="1252" cy="2656" r="12.4"/><circle cx="1305" cy="2656" r="12.4"/><circle cx="1309" cy="2656" r="12.4"/><circle cx="1258" cy="2571" r="12.4"/><circle cx="1054" cy="2609" r="12.4"/><circle cx="1091" cy="2626" r="12.4"/><circle cx="1164" cy="2626" r="12.4"/><circle cx="1193" cy="2626" r="12.4"/><circle cx="1101" cy="1919" r="12.4"/><circle cx="1059" cy="1964" r="12.4"/><circle cx="1048" cy="1981" r="12.4"/><circle cx="1144" cy="1978" r="12.4"/><circle cx="1082" cy="2006" r="12.4"/><circle cx="1080" cy="2043" r="12.4"/><circle cx="1058" cy="2052" r="12.4"/><circle cx="1164" cy="2082" r="12.4"/><circle cx="1119" cy="2106" r="12.4"/><circle cx="1111" cy="2135" r="12.4"/><circle cx="1127" cy="2150" r="12.4"/><circle cx="1151" cy="2132" r="12.4"/><circle cx="1160" cy="2137" r="12.4"/><circle cx="1180" cy="2120" r="12.4"/><circle cx="1148" cy="2164" r="12.4"/><circle cx="1171" cy="2176" r="12.4"/><circle cx="1186" cy="2177" r="12.4"/><circle cx="1209" cy="2179" r="12.4"/></g>
<g class="pg"><circle cx="547" cy="2396" r="12.4"/><circle cx="489" cy="2460" r="12.4"/><circle cx="449" cy="2385" r="12.4"/><circle cx="563" cy="2410" r="12.4"/><circle cx="550" cy="2346" r="12.4"/><circle cx="607" cy="2357" r="12.4"/><circle cx="519" cy="2385" r="12.4"/><circle cx="521" cy="2364" r="12.4"/><circle cx="592" cy="2387" r="12.4"/><circle cx="567" cy="2324" r="12.4"/><circle cx="549" cy="2376" r="12.4"/><circle cx="540" cy="2393" r="12.4"/><circle cx="542" cy="2381" r="12.4"/><circle cx="525" cy="2390" r="12.4"/><circle cx="532" cy="2387" r="12.4"/><circle cx="504" cy="2401" r="12.4"/><circle cx="561" cy="2443" r="12.4"/><circle cx="516" cy="2335" r="12.4"/><circle cx="452" cy="2354" r="12.4"/><circle cx="492" cy="2369" r="12.4"/><circle cx="504" cy="2408" r="12.4"/><circle cx="505" cy="2390" r="12.4"/><circle cx="439" cy="2394" r="12.4"/><circle cx="455" cy="2403" r="12.4"/><circle cx="533" cy="2391" r="12.4"/><circle cx="513" cy="2374" r="12.4"/><circle cx="506" cy="2419" r="12.4"/><circle cx="524" cy="2393" r="12.4"/><circle cx="560" cy="2344" r="12.4"/><circle cx="467" cy="2377" r="12.4"/><circle cx="527" cy="2420" r="12.4"/><circle cx="515" cy="2359" r="12.4"/><circle cx="551" cy="2347" r="12.4"/><circle cx="454" cy="2341" r="12.4"/><circle cx="505" cy="2367" r="12.4"/><circle cx="520" cy="2385" r="12.4"/><circle cx="527" cy="2352" r="12.4"/><circle cx="502" cy="2388" r="12.4"/><circle cx="509" cy="2404" r="12.4"/><circle cx="508" cy="2395" r="12.4"/><circle cx="539" cy="2447" r="12.4"/><circle cx="476" cy="2362" r="12.4"/><circle cx="556" cy="2363" r="12.4"/><circle cx="525" cy="2375" r="12.4"/><circle cx="548" cy="2378" r="12.4"/><circle cx="612" cy="2385" r="12.4"/><circle cx="508" cy="2328" r="12.4"/><circle cx="524" cy="2347" r="12.4"/><circle cx="549" cy="2405" r="12.4"/><circle cx="526" cy="2424" r="12.4"/><circle cx="428" cy="2408" r="12.4"/><circle cx="604" cy="2386" r="12.4"/><circle cx="519" cy="2431" r="12.4"/><circle cx="533" cy="2395" r="12.4"/><circle cx="559" cy="2354" r="12.4"/><circle cx="608" cy="2370" r="12.4"/><circle cx="520" cy="2369" r="12.4"/><circle cx="504" cy="2383" r="12.4"/><circle cx="553" cy="2379" r="12.4"/><circle cx="491" cy="2438" r="12.4"/><circle cx="491" cy="2382" r="12.4"/><circle cx="582" cy="2378" r="12.4"/><circle cx="514" cy="2389" r="12.4"/><circle cx="446" cy="2379" r="12.4"/><circle cx="528" cy="2398" r="12.4"/><circle cx="484" cy="2413" r="12.4"/><circle cx="485" cy="2349" r="12.4"/><circle cx="545" cy="2405" r="12.4"/><circle cx="528" cy="2407" r="12.4"/><circle cx="558" cy="2403" r="12.4"/><circle cx="537" cy="2455" r="12.4"/><circle cx="533" cy="2356" r="12.4"/><circle cx="553" cy="2424" r="12.4"/><circle cx="465" cy="2391" r="12.4"/><circle cx="559" cy="2416" r="12.4"/><circle cx="523" cy="2343" r="12.4"/><circle cx="519" cy="2381" r="12.4"/><circle cx="496" cy="2390" r="12.4"/><circle cx="531" cy="2345" r="12.4"/><circle cx="539" cy="2335" r="12.4"/><circle cx="504" cy="2378" r="12.4"/><circle cx="558" cy="2380" r="12.4"/><circle cx="469" cy="2377" r="12.4"/><circle cx="512" cy="2385" r="12.4"/><circle cx="561" cy="2356" r="12.4"/><circle cx="451" cy="2430" r="12.4"/><circle cx="565" cy="2338" r="12.4"/><circle cx="555" cy="2364" r="12.4"/><circle cx="553" cy="2405" r="12.4"/><circle cx="457" cy="2344" r="12.4"/><circle cx="514" cy="2331" r="12.4"/><circle cx="467" cy="2351" r="12.4"/><circle cx="513" cy="2381" r="12.4"/><circle cx="486" cy="2375" r="12.4"/><circle cx="575" cy="2406" r="12.4"/><circle cx="540" cy="2358" r="12.4"/><circle cx="490" cy="2337" r="12.4"/><circle cx="482" cy="2314" r="12.4"/><circle cx="514" cy="2369" r="12.4"/><circle cx="489" cy="2360" r="12.4"/><circle cx="462" cy="2412" r="12.4"/><circle cx="549" cy="2430" r="12.4"/><circle cx="536" cy="2378" r="12.4"/><circle cx="562" cy="2336" r="12.4"/><circle cx="457" cy="2420" r="12.4"/><circle cx="543" cy="2394" r="12.4"/><circle cx="582" cy="2383" r="12.4"/><circle cx="532" cy="2401" r="12.4"/><circle cx="467" cy="2399" r="12.4"/><circle cx="549" cy="2382" r="12.4"/><circle cx="488" cy="2353" r="12.4"/><circle cx="582" cy="2432" r="12.4"/><circle cx="516" cy="2354" r="12.4"/><circle cx="574" cy="2426" r="12.4"/><circle cx="545" cy="2356" r="12.4"/><circle cx="557" cy="2420" r="12.4"/><circle cx="500" cy="2353" r="12.4"/><circle cx="502" cy="2393" r="12.4"/><circle cx="540" cy="2404" r="12.4"/><circle cx="521" cy="2364" r="12.4"/><circle cx="536" cy="2423" r="12.4"/><circle cx="528" cy="2410" r="12.4"/><circle cx="517" cy="2356" r="12.4"/><circle cx="503" cy="2378" r="12.4"/><circle cx="451" cy="2377" r="12.4"/><circle cx="493" cy="2391" r="12.4"/><circle cx="555" cy="2389" r="12.4"/><circle cx="503" cy="2393" r="12.4"/><circle cx="472" cy="2404" r="12.4"/><circle cx="581" cy="2405" r="12.4"/><circle cx="587" cy="2368" r="12.4"/><circle cx="440" cy="2406" r="12.4"/><circle cx="593" cy="2364" r="12.4"/><circle cx="591" cy="2361" r="12.4"/><circle cx="509" cy="2402" r="12.4"/><circle cx="451" cy="2388" r="12.4"/><circle cx="515" cy="2419" r="12.4"/><circle cx="531" cy="2389" r="12.4"/><circle cx="515" cy="2456" r="12.4"/><circle cx="544" cy="2391" r="12.4"/><circle cx="523" cy="2395" r="12.4"/><circle cx="559" cy="2394" r="12.4"/><circle cx="586" cy="2386" r="12.4"/><circle cx="547" cy="2393" r="12.4"/><circle cx="551" cy="2397" r="12.4"/><circle cx="543" cy="2395" r="12.4"/><circle cx="531" cy="2409" r="12.4"/><circle cx="492" cy="2357" r="12.4"/><circle cx="522" cy="2389" r="12.4"/><circle cx="578" cy="2329" r="12.4"/><circle cx="587" cy="2365" r="12.4"/><circle cx="484" cy="2397" r="12.4"/><circle cx="536" cy="2422" r="12.4"/><circle cx="541" cy="2439" r="12.4"/><circle cx="512" cy="2329" r="12.4"/><circle cx="510" cy="2376" r="12.4"/><circle cx="553" cy="2420" r="12.4"/><circle cx="527" cy="2358" r="12.4"/><circle cx="566" cy="2435" r="12.4"/><circle cx="572" cy="2410" r="12.4"/><circle cx="531" cy="2371" r="12.4"/><circle cx="571" cy="2415" r="12.4"/><circle cx="519" cy="2378" r="12.4"/><circle cx="442" cy="2397" r="12.4"/><circle cx="527" cy="2347" r="12.4"/><circle cx="582" cy="2386" r="12.4"/><circle cx="474" cy="2375" r="12.4"/><circle cx="471" cy="2355" r="12.4"/><circle cx="464" cy="2389" r="12.4"/><circle cx="449" cy="2359" r="12.4"/><circle cx="522" cy="2376" r="12.4"/><circle cx="527" cy="2356" r="12.4"/><circle cx="492" cy="2396" r="12.4"/><circle cx="504" cy="2419" r="12.4"/><circle cx="500" cy="2389" r="12.4"/><circle cx="506" cy="2423" r="12.4"/><circle cx="479" cy="2414" r="12.4"/><circle cx="572" cy="2404" r="12.4"/><circle cx="581" cy="2349" r="12.4"/><circle cx="444" cy="2360" r="12.4"/><circle cx="500" cy="2400" r="12.4"/><circle cx="495" cy="2365" r="12.4"/><circle cx="509" cy="2447" r="12.4"/><circle cx="492" cy="2382" r="12.4"/><circle cx="535" cy="2443" r="12.4"/><circle cx="464" cy="2319" r="12.4"/><circle cx="517" cy="2353" r="12.4"/><circle cx="493" cy="2310" r="12.4"/><circle cx="541" cy="2406" r="12.4"/><circle cx="558" cy="2445" r="12.4"/><circle cx="500" cy="2339" r="12.4"/><circle cx="535" cy="2420" r="12.4"/><circle cx="516" cy="2375" r="12.4"/><circle cx="574" cy="2346" r="12.4"/><circle cx="482" cy="2381" r="12.4"/><circle cx="482" cy="2413" r="12.4"/><circle cx="492" cy="2365" r="12.4"/><circle cx="507" cy="2427" r="12.4"/><circle cx="520" cy="2377" r="12.4"/><circle cx="573" cy="2352" r="12.4"/><circle cx="463" cy="2383" r="12.4"/><circle cx="541" cy="2348" r="12.4"/><circle cx="511" cy="2398" r="12.4"/><circle cx="512" cy="2395" r="12.4"/><circle cx="518" cy="2437" r="12.4"/><circle cx="458" cy="2448" r="12.4"/><circle cx="437" cy="2397" r="12.4"/><circle cx="578" cy="2318" r="12.4"/><circle cx="538" cy="2341" r="12.4"/><circle cx="569" cy="2443" r="12.4"/><circle cx="568" cy="2372" r="12.4"/><circle cx="526" cy="2331" r="12.4"/><circle cx="532" cy="2302" r="12.4"/><circle cx="505" cy="2367" r="12.4"/><circle cx="468" cy="2401" r="12.4"/><circle cx="531" cy="2442" r="12.4"/><circle cx="511" cy="2398" r="12.4"/><circle cx="474" cy="2431" r="12.4"/><circle cx="494" cy="2359" r="12.4"/><circle cx="460" cy="2411" r="12.4"/><circle cx="533" cy="2369" r="12.4"/><circle cx="535" cy="2420" r="12.4"/><circle cx="526" cy="2407" r="12.4"/><circle cx="512" cy="2403" r="12.4"/><circle cx="566" cy="2393" r="12.4"/><circle cx="463" cy="2404" r="12.4"/><circle cx="484" cy="2388" r="12.4"/><circle cx="484" cy="2356" r="12.4"/><circle cx="549" cy="2324" r="12.4"/><circle cx="593" cy="2382" r="12.4"/><circle cx="519" cy="2328" r="12.4"/><circle cx="574" cy="2375" r="12.4"/><circle cx="472" cy="2416" r="12.4"/><circle cx="549" cy="2445" r="12.4"/><circle cx="478" cy="2379" r="12.4"/><circle cx="489" cy="2331" r="12.4"/><circle cx="490" cy="2363" r="12.4"/><circle cx="513" cy="2383" r="12.4"/><circle cx="512" cy="2388" r="12.4"/><circle cx="505" cy="2375" r="12.4"/><circle cx="529" cy="2448" r="12.4"/><circle cx="511" cy="2358" r="12.4"/><circle cx="506" cy="2389" r="12.4"/><circle cx="439" cy="2373" r="12.4"/><circle cx="489" cy="2366" r="12.4"/><circle cx="478" cy="2380" r="12.4"/><circle cx="595" cy="2361" r="12.4"/><circle cx="536" cy="2433" r="12.4"/><circle cx="530" cy="2360" r="12.4"/><circle cx="556" cy="2421" r="12.4"/><circle cx="490" cy="2353" r="12.4"/><circle cx="462" cy="2371" r="12.4"/><circle cx="513" cy="2367" r="12.4"/><circle cx="507" cy="2402" r="12.4"/><circle cx="459" cy="2334" r="12.4"/><circle cx="494" cy="2398" r="12.4"/><circle cx="586" cy="2416" r="12.4"/><circle cx="567" cy="2337" r="12.4"/><circle cx="534" cy="2446" r="12.4"/><circle cx="550" cy="2363" r="12.4"/><circle cx="540" cy="2435" r="12.4"/><circle cx="530" cy="2336" r="12.4"/><circle cx="565" cy="2361" r="12.4"/><circle cx="542" cy="2414" r="12.4"/><circle cx="499" cy="2425" r="12.4"/><circle cx="460" cy="2433" r="12.4"/><circle cx="464" cy="2336" r="12.4"/><circle cx="506" cy="2375" r="12.4"/><circle cx="530" cy="2401" r="12.4"/><circle cx="511" cy="2349" r="12.4"/><circle cx="562" cy="2313" r="12.4"/><circle cx="559" cy="2339" r="12.4"/><circle cx="521" cy="2399" r="12.4"/><circle cx="440" cy="2387" r="12.4"/><circle cx="533" cy="2373" r="12.4"/><circle cx="564" cy="2396" r="12.4"/><circle cx="489" cy="2363" r="12.4"/><circle cx="493" cy="2325" r="12.4"/><circle cx="576" cy="2405" r="12.4"/><circle cx="523" cy="2365" r="12.4"/><circle cx="513" cy="2440" r="12.4"/><circle cx="501" cy="2392" r="12.4"/><circle cx="578" cy="2400" r="12.4"/><circle cx="537" cy="2400" r="12.4"/><circle cx="515" cy="2430" r="12.4"/><circle cx="555" cy="2400" r="12.4"/><circle cx="513" cy="2412" r="12.4"/><circle cx="520" cy="2342" r="12.4"/><circle cx="551" cy="2374" r="12.4"/><circle cx="510" cy="2365" r="12.4"/><circle cx="582" cy="2395" r="12.4"/><circle cx="494" cy="2379" r="12.4"/><circle cx="500" cy="2441" r="12.4"/><circle cx="503" cy="2372" r="12.4"/><circle cx="525" cy="2378" r="12.4"/><circle cx="469" cy="2413" r="12.4"/><circle cx="522" cy="2405" r="12.4"/><circle cx="424" cy="2372" r="12.4"/><circle cx="532" cy="2399" r="12.4"/><circle cx="578" cy="2397" r="12.4"/><circle cx="570" cy="2430" r="12.4"/><circle cx="435" cy="2418" r="12.4"/><circle cx="576" cy="2362" r="12.4"/><circle cx="505" cy="2370" r="12.4"/><circle cx="484" cy="2460" r="12.4"/><circle cx="498" cy="2361" r="12.4"/><circle cx="549" cy="2448" r="12.4"/><circle cx="537" cy="2332" r="12.4"/><circle cx="532" cy="2360" r="12.4"/><circle cx="430" cy="2390" r="12.4"/><circle cx="594" cy="2368" r="12.4"/><circle cx="591" cy="2379" r="12.4"/><circle cx="586" cy="2411" r="12.4"/><circle cx="579" cy="2418" r="12.4"/><circle cx="603" cy="2395" r="12.4"/><circle cx="595" cy="2366" r="12.4"/><circle cx="632" cy="2397" r="12.4"/><circle cx="581" cy="2375" r="12.4"/><circle cx="611" cy="2365" r="12.4"/><circle cx="577" cy="2359" r="12.4"/><circle cx="574" cy="2384" r="12.4"/><circle cx="582" cy="2408" r="12.4"/><circle cx="591" cy="2403" r="12.4"/><circle cx="606" cy="2373" r="12.4"/><circle cx="619" cy="2397" r="12.4"/><circle cx="614" cy="2361" r="12.4"/><circle cx="602" cy="2403" r="12.4"/><circle cx="568" cy="2415" r="12.4"/><circle cx="586" cy="2386" r="12.4"/><circle cx="605" cy="2344" r="12.4"/><circle cx="601" cy="2414" r="12.4"/><circle cx="612" cy="2380" r="12.4"/><circle cx="594" cy="2370" r="12.4"/><circle cx="607" cy="2373" r="12.4"/><circle cx="568" cy="2369" r="12.4"/><circle cx="550" cy="2363" r="12.4"/><circle cx="581" cy="2382" r="12.4"/><circle cx="583" cy="2410" r="12.4"/><circle cx="567" cy="2391" r="12.4"/><circle cx="572" cy="2395" r="12.4"/><circle cx="610" cy="2367" r="12.4"/><circle cx="566" cy="2400" r="12.4"/><circle cx="570" cy="2394" r="12.4"/><circle cx="593" cy="2395" r="12.4"/><circle cx="577" cy="2394" r="12.4"/><circle cx="587" cy="2402" r="12.4"/><circle cx="624" cy="2407" r="12.4"/><circle cx="597" cy="2393" r="12.4"/><circle cx="616" cy="2385" r="12.4"/><circle cx="590" cy="2413" r="12.4"/><circle cx="655" cy="2377" r="12.4"/><circle cx="648" cy="2385" r="12.4"/><circle cx="601" cy="2382" r="12.4"/><circle cx="582" cy="2400" r="12.4"/><circle cx="572" cy="2413" r="12.4"/><circle cx="578" cy="2358" r="12.4"/><circle cx="577" cy="2395" r="12.4"/><circle cx="560" cy="2374" r="12.4"/><circle cx="586" cy="2397" r="12.4"/><circle cx="571" cy="2416" r="12.4"/><circle cx="570" cy="2433" r="12.4"/><circle cx="591" cy="2366" r="12.4"/><circle cx="590" cy="2347" r="12.4"/><circle cx="601" cy="2345" r="12.4"/><circle cx="657" cy="2395" r="12.4"/><circle cx="603" cy="2415" r="12.4"/><circle cx="625" cy="2374" r="12.4"/><circle cx="644" cy="2386" r="12.4"/><circle cx="630" cy="2369" r="12.4"/><circle cx="641" cy="2385" r="12.4"/><circle cx="776" cy="2406" r="12.4"/><circle cx="723" cy="2440" r="12.4"/><circle cx="1018" cy="2501" r="12.4"/><circle cx="931" cy="2413" r="12.4"/><circle cx="964" cy="2380" r="12.4"/><circle cx="673" cy="2342" r="12.4"/><circle cx="710" cy="2392" r="12.4"/><circle cx="645" cy="2399" r="12.4"/><circle cx="887" cy="2436" r="12.4"/><circle cx="911" cy="2370" r="12.4"/><circle cx="985" cy="2438" r="12.4"/><circle cx="814" cy="2439" r="12.4"/><circle cx="629" cy="2415" r="12.4"/><circle cx="861" cy="2438" r="12.4"/><circle cx="977" cy="2407" r="12.4"/><circle cx="701" cy="2413" r="12.4"/><circle cx="991" cy="2440" r="12.4"/><circle cx="633" cy="2368" r="12.4"/><circle cx="919" cy="2400" r="12.4"/><circle cx="713" cy="2437" r="12.4"/><circle cx="971" cy="2416" r="12.4"/><circle cx="790" cy="2396" r="12.4"/><circle cx="741" cy="2396" r="12.4"/><circle cx="845" cy="2443" r="12.4"/><circle cx="662" cy="2431" r="12.4"/><circle cx="684" cy="2438" r="12.4"/><circle cx="628" cy="2412" r="12.4"/><circle cx="926" cy="2426" r="12.4"/><circle cx="751" cy="2424" r="12.4"/><circle cx="727" cy="2404" r="12.4"/><circle cx="886" cy="2442" r="12.4"/><circle cx="789" cy="2438" r="12.4"/><circle cx="948" cy="2420" r="12.4"/><circle cx="730" cy="2384" r="12.4"/><circle cx="656" cy="2423" r="12.4"/><circle cx="674" cy="2398" r="12.4"/><circle cx="793" cy="2436" r="12.4"/><circle cx="711" cy="2425" r="12.4"/><circle cx="872" cy="2359" r="12.4"/><circle cx="998" cy="2440" r="12.4"/><circle cx="749" cy="2399" r="12.4"/><circle cx="1016" cy="2439" r="12.4"/><circle cx="963" cy="2400" r="12.4"/><circle cx="710" cy="2423" r="12.4"/><circle cx="631" cy="2418" r="12.4"/><circle cx="826" cy="2425" r="12.4"/><circle cx="726" cy="2412" r="12.4"/><circle cx="717" cy="2448" r="12.4"/><circle cx="744" cy="2407" r="12.4"/><circle cx="996" cy="2450" r="12.4"/><circle cx="882" cy="2436" r="12.4"/><circle cx="719" cy="2409" r="12.4"/><circle cx="682" cy="2401" r="12.4"/><circle cx="965" cy="2485" r="12.4"/><circle cx="927" cy="2477" r="12.4"/><circle cx="899" cy="2437" r="12.4"/><circle cx="861" cy="2440" r="12.4"/><circle cx="676" cy="2435" r="12.4"/><circle cx="832" cy="2440" r="12.4"/><circle cx="956" cy="2399" r="12.4"/><circle cx="989" cy="2438" r="12.4"/><circle cx="765" cy="2431" r="12.4"/><circle cx="904" cy="2431" r="12.4"/><circle cx="874" cy="2442" r="12.4"/><circle cx="937" cy="2471" r="12.4"/><circle cx="763" cy="2419" r="12.4"/><circle cx="773" cy="2394" r="12.4"/><circle cx="768" cy="2368" r="12.4"/><circle cx="702" cy="2418" r="12.4"/><circle cx="691" cy="2471" r="12.4"/><circle cx="842" cy="2391" r="12.4"/><circle cx="785" cy="2449" r="12.4"/><circle cx="930" cy="2449" r="12.4"/><circle cx="852" cy="2424" r="12.4"/><circle cx="983" cy="2466" r="12.4"/><circle cx="891" cy="2382" r="12.4"/><circle cx="837" cy="2416" r="12.4"/><circle cx="665" cy="2433" r="12.4"/><circle cx="854" cy="2367" r="12.4"/><circle cx="996" cy="2455" r="12.4"/><circle cx="800" cy="2379" r="12.4"/><circle cx="791" cy="2454" r="12.4"/><circle cx="857" cy="2444" r="12.4"/><circle cx="879" cy="2475" r="12.4"/><circle cx="808" cy="2446" r="12.4"/><circle cx="961" cy="2440" r="12.4"/><circle cx="945" cy="2459" r="12.4"/><circle cx="812" cy="2416" r="12.4"/><circle cx="706" cy="2404" r="12.4"/><circle cx="645" cy="2369" r="12.4"/><circle cx="820" cy="2440" r="12.4"/><circle cx="923" cy="2481" r="12.4"/><circle cx="645" cy="2364" r="12.4"/><circle cx="795" cy="2409" r="12.4"/><circle cx="654" cy="2392" r="12.4"/><circle cx="1013" cy="2457" r="12.4"/><circle cx="676" cy="2422" r="12.4"/><circle cx="839" cy="2431" r="12.4"/><circle cx="751" cy="2403" r="12.4"/><circle cx="764" cy="2358" r="12.4"/><circle cx="733" cy="2434" r="12.4"/><circle cx="754" cy="2428" r="12.4"/><circle cx="661" cy="2348" r="12.4"/><circle cx="916" cy="2393" r="12.4"/><circle cx="719" cy="2406" r="12.4"/><circle cx="953" cy="2402" r="12.4"/><circle cx="637" cy="2363" r="12.4"/><circle cx="705" cy="2418" r="12.4"/><circle cx="694" cy="2406" r="12.4"/><circle cx="960" cy="2472" r="12.4"/><circle cx="874" cy="2391" r="12.4"/><circle cx="757" cy="2418" r="12.4"/><circle cx="747" cy="2387" r="12.4"/><circle cx="670" cy="2377" r="12.4"/><circle cx="993" cy="2438" r="12.4"/><circle cx="735" cy="2429" r="12.4"/><circle cx="974" cy="2473" r="12.4"/><circle cx="633" cy="2372" r="12.4"/><circle cx="732" cy="2440" r="12.4"/><circle cx="708" cy="2415" r="12.4"/><circle cx="717" cy="2407" r="12.4"/><circle cx="963" cy="2430" r="12.4"/><circle cx="693" cy="2442" r="12.4"/><circle cx="956" cy="2431" r="12.4"/><circle cx="746" cy="2373" r="12.4"/><circle cx="983" cy="2422" r="12.4"/><circle cx="823" cy="2483" r="12.4"/><circle cx="679" cy="2451" r="12.4"/><circle cx="857" cy="2393" r="12.4"/><circle cx="684" cy="2423" r="12.4"/><circle cx="668" cy="2393" r="12.4"/><circle cx="692" cy="2419" r="12.4"/><circle cx="775" cy="2347" r="12.4"/><circle cx="871" cy="2418" r="12.4"/><circle cx="656" cy="2474" r="12.4"/><circle cx="657" cy="2364" r="12.4"/><circle cx="912" cy="2402" r="12.4"/><circle cx="897" cy="2406" r="12.4"/><circle cx="754" cy="2399" r="12.4"/><circle cx="761" cy="2364" r="12.4"/><circle cx="684" cy="2414" r="12.4"/><circle cx="1007" cy="2414" r="12.4"/><circle cx="667" cy="2439" r="12.4"/><circle cx="813" cy="2425" r="12.4"/><circle cx="733" cy="2352" r="12.4"/><circle cx="747" cy="2394" r="12.4"/><circle cx="926" cy="2412" r="12.4"/><circle cx="821" cy="2459" r="12.4"/><circle cx="685" cy="2392" r="12.4"/><circle cx="959" cy="2411" r="12.4"/><circle cx="1012" cy="2464" r="12.4"/><circle cx="941" cy="2460" r="12.4"/><circle cx="691" cy="2466" r="12.4"/><circle cx="664" cy="2445" r="12.4"/><circle cx="830" cy="2401" r="12.4"/><circle cx="810" cy="2387" r="12.4"/><circle cx="875" cy="2434" r="12.4"/><circle cx="769" cy="2455" r="12.4"/><circle cx="716" cy="2424" r="12.4"/><circle cx="968" cy="2447" r="12.4"/><circle cx="824" cy="2445" r="12.4"/><circle cx="820" cy="2409" r="12.4"/><circle cx="995" cy="2423" r="12.4"/><circle cx="691" cy="2403" r="12.4"/><circle cx="1016" cy="2493" r="12.4"/><circle cx="746" cy="2426" r="12.4"/><circle cx="952" cy="2418" r="12.4"/><circle cx="999" cy="2441" r="12.4"/><circle cx="908" cy="2439" r="12.4"/><circle cx="956" cy="2428" r="12.4"/><circle cx="702" cy="2400" r="12.4"/><circle cx="841" cy="2431" r="12.4"/><circle cx="895" cy="2431" r="12.4"/><circle cx="677" cy="2399" r="12.4"/><circle cx="787" cy="2424" r="12.4"/><circle cx="982" cy="2424" r="12.4"/><circle cx="729" cy="2373" r="12.4"/><circle cx="711" cy="2426" r="12.4"/><circle cx="631" cy="2439" r="12.4"/><circle cx="971" cy="2475" r="12.4"/><circle cx="713" cy="2438" r="12.4"/><circle cx="996" cy="2446" r="12.4"/><circle cx="996" cy="2461" r="12.4"/><circle cx="916" cy="2436" r="12.4"/><circle cx="874" cy="2417" r="12.4"/><circle cx="394" cy="2465" r="12.4"/><circle cx="414" cy="2437" r="12.4"/><circle cx="426" cy="2451" r="12.4"/><circle cx="468" cy="2500" r="12.4"/><circle cx="484" cy="2503" r="12.4"/><circle cx="488" cy="2487" r="12.4"/><circle cx="492" cy="2486" r="12.4"/><circle cx="511" cy="2486" r="12.4"/><circle cx="538" cy="2490" r="12.4"/><circle cx="564" cy="2482" r="12.4"/><circle cx="564" cy="2508" r="12.4"/><circle cx="565" cy="2528" r="12.4"/><circle cx="610" cy="2477" r="12.4"/><circle cx="616" cy="2500" r="12.4"/><circle cx="482" cy="2556" r="12.4"/><circle cx="492" cy="2577" r="12.4"/><circle cx="501" cy="2578" r="12.4"/><circle cx="484" cy="2596" r="12.4"/><circle cx="594" cy="2596" r="12.4"/><circle cx="746" cy="2656" r="12.4"/><circle cx="936" cy="2656" r="12.4"/><circle cx="863" cy="2566" r="12.4"/><circle cx="753" cy="2497" r="12.4"/><circle cx="739" cy="2485" r="12.4"/><circle cx="832" cy="2500" r="12.4"/><circle cx="895" cy="2504" r="12.4"/><circle cx="936" cy="2511" r="12.4"/><circle cx="939" cy="2544" r="12.4"/><circle cx="965" cy="2526" r="12.4"/><circle cx="990" cy="2521" r="12.4"/><circle cx="995" cy="2560" r="12.4"/><circle cx="1009" cy="2626" r="12.4"/><circle cx="450" cy="2266" r="12.4"/><circle cx="591" cy="2257" r="12.4"/><circle cx="537" cy="2269" r="12.4"/><circle cx="570" cy="2276" r="12.4"/><circle cx="581" cy="2273" r="12.4"/><circle cx="606" cy="2274" r="12.4"/><circle cx="650" cy="2291" r="12.4"/><circle cx="663" cy="2291" r="12.4"/><circle cx="790" cy="2293" r="12.4"/><circle cx="618" cy="2314" r="12.4"/><circle cx="774" cy="2336" r="12.4"/><circle cx="974" cy="2340" r="12.4"/><circle cx="993" cy="2344" r="12.4"/><circle cx="422" cy="2373" r="12.4"/><circle cx="434" cy="2391" r="12.4"/><circle cx="1044" cy="2546" r="12.4"/><circle cx="1172" cy="2593" r="12.4"/><circle cx="1222" cy="2441" r="12.4"/><circle cx="1168" cy="2491" r="12.4"/><circle cx="1036" cy="2587" r="12.4"/><circle cx="1075" cy="2465" r="12.4"/><circle cx="1160" cy="2437" r="12.4"/><circle cx="1080" cy="2550" r="12.4"/><circle cx="1183" cy="2412" r="12.4"/><circle cx="1042" cy="2583" r="12.4"/><circle cx="1176" cy="2503" r="12.4"/><circle cx="1161" cy="2512" r="12.4"/><circle cx="1039" cy="2600" r="12.4"/><circle cx="1155" cy="2407" r="12.4"/><circle cx="1071" cy="2598" r="12.4"/><circle cx="1173" cy="2494" r="12.4"/><circle cx="1195" cy="2534" r="12.4"/><circle cx="1218" cy="2539" r="12.4"/><circle cx="1045" cy="2470" r="12.4"/><circle cx="1152" cy="2445" r="12.4"/><circle cx="1165" cy="2484" r="12.4"/><circle cx="1038" cy="2575" r="12.4"/><circle cx="1152" cy="2498" r="12.4"/><circle cx="1123" cy="2570" r="12.4"/><circle cx="1220" cy="2572" r="12.4"/><circle cx="1107" cy="2415" r="12.4"/><circle cx="1196" cy="2469" r="12.4"/><circle cx="1112" cy="2462" r="12.4"/><circle cx="1140" cy="2604" r="12.4"/><circle cx="1117" cy="2595" r="12.4"/><circle cx="1181" cy="2558" r="12.4"/><circle cx="1160" cy="2433" r="12.4"/><circle cx="1213" cy="2461" r="12.4"/><circle cx="1162" cy="2582" r="12.4"/><circle cx="1033" cy="2428" r="12.4"/><circle cx="1170" cy="2529" r="12.4"/><circle cx="1220" cy="2541" r="12.4"/><circle cx="1152" cy="2471" r="12.4"/><circle cx="1046" cy="2543" r="12.4"/><circle cx="1084" cy="2608" r="12.4"/><circle cx="1180" cy="2580" r="12.4"/><circle cx="1176" cy="2461" r="12.4"/><circle cx="1128" cy="2480" r="12.4"/><circle cx="1066" cy="2570" r="12.4"/><circle cx="1165" cy="2602" r="12.4"/><circle cx="1149" cy="2471" r="12.4"/><circle cx="1094" cy="2543" r="12.4"/><circle cx="1234" cy="2431" r="12.4"/><circle cx="1020" cy="2477" r="12.4"/><circle cx="1059" cy="2485" r="12.4"/><circle cx="1035" cy="2606" r="12.4"/><circle cx="1027" cy="2598" r="12.4"/><circle cx="1169" cy="2612" r="12.4"/><circle cx="1160" cy="2425" r="12.4"/><circle cx="1142" cy="2604" r="12.4"/><circle cx="1141" cy="2502" r="12.4"/><circle cx="1215" cy="2576" r="12.4"/><circle cx="1134" cy="2498" r="12.4"/><circle cx="1200" cy="2547" r="12.4"/><circle cx="1098" cy="2497" r="12.4"/><circle cx="1102" cy="2449" r="12.4"/><circle cx="1049" cy="2606" r="12.4"/><circle cx="1205" cy="2439" r="12.4"/><circle cx="1037" cy="2526" r="12.4"/><circle cx="1137" cy="2500" r="12.4"/><circle cx="1078" cy="2413" r="12.4"/><circle cx="1194" cy="2425" r="12.4"/><circle cx="1103" cy="2485" r="12.4"/><circle cx="1088" cy="2432" r="12.4"/><circle cx="1163" cy="2585" r="12.4"/><circle cx="1044" cy="2559" r="12.4"/><circle cx="1067" cy="2481" r="12.4"/><circle cx="1001" cy="2457" r="12.4"/><circle cx="1039" cy="2611" r="12.4"/><circle cx="1188" cy="2529" r="12.4"/><circle cx="1095" cy="2547" r="12.4"/><circle cx="1073" cy="2591" r="12.4"/><circle cx="1056" cy="2527" r="12.4"/><circle cx="1189" cy="2432" r="12.4"/><circle cx="1027" cy="2541" r="12.4"/><circle cx="1056" cy="2546" r="12.4"/><circle cx="1174" cy="2571" r="12.4"/><circle cx="1210" cy="2421" r="12.4"/><circle cx="1136" cy="2547" r="12.4"/><circle cx="1041" cy="2516" r="12.4"/><circle cx="1095" cy="2600" r="12.4"/><circle cx="1195" cy="2498" r="12.4"/><circle cx="1178" cy="2601" r="12.4"/><circle cx="1118" cy="2445" r="12.4"/><circle cx="1041" cy="2573" r="12.4"/><circle cx="1010" cy="2480" r="12.4"/><circle cx="1072" cy="2522" r="12.4"/><circle cx="1048" cy="2465" r="12.4"/><circle cx="1155" cy="2517" r="12.4"/><circle cx="1190" cy="2520" r="12.4"/><circle cx="1023" cy="2385" r="12.4"/><circle cx="1048" cy="2392" r="12.4"/><circle cx="1073" cy="2386" r="12.4"/><circle cx="1154" cy="2391" r="12.4"/><circle cx="1168" cy="2416" r="12.4"/><circle cx="1249" cy="2413" r="12.4"/><circle cx="1260" cy="2426" r="12.4"/><circle cx="1232" cy="2458" r="12.4"/><circle cx="1296" cy="2560" r="12.4"/><circle cx="1254" cy="2544" r="12.4"/><circle cx="1261" cy="2555" r="12.4"/><circle cx="1264" cy="2609" r="12.4"/><circle cx="1020" cy="2596" r="12.4"/><circle cx="1011" cy="2626" r="12.4"/><circle cx="1036" cy="2626" r="12.4"/><circle cx="1074" cy="2626" r="12.4"/><circle cx="1145" cy="2626" r="12.4"/><circle cx="1154" cy="2626" r="12.4"/><circle cx="1157" cy="2626" r="12.4"/><circle cx="1195" cy="2626" r="12.4"/><circle cx="1211" cy="2626" r="12.4"/><circle cx="1216" cy="2626" r="12.4"/><circle cx="1242" cy="2626" r="12.4"/><circle cx="1020" cy="2656" r="12.4"/><circle cx="1029" cy="2656" r="12.4"/><circle cx="1039" cy="2656" r="12.4"/><circle cx="1052" cy="2656" r="12.4"/><circle cx="1129" cy="2656" r="12.4"/><circle cx="1140" cy="2656" r="12.4"/><circle cx="1162" cy="2656" r="12.4"/><circle cx="1164" cy="2656" r="12.4"/><circle cx="1180" cy="2656" r="12.4"/><circle cx="1250" cy="2656" r="12.4"/><circle cx="1140" cy="2684" r="12.4"/><circle cx="1186" cy="2693" r="12.4"/><circle cx="1062" cy="2713" r="12.4"/><circle cx="1372" cy="2639" r="12.4"/><circle cx="1339" cy="2681" r="12.4"/><circle cx="1346" cy="2679" r="12.4"/><circle cx="1336" cy="2715" r="12.4"/><circle cx="1281" cy="2736" r="12.4"/><circle cx="1385" cy="2738" r="12.4"/><circle cx="1428" cy="2752" r="12.4"/><circle cx="1455" cy="2750" r="12.4"/><circle cx="1114" cy="2761" r="12.4"/><circle cx="1127" cy="2755" r="12.4"/><circle cx="1128" cy="2761" r="12.4"/><circle cx="1114" cy="2787" r="12.4"/><circle cx="1229" cy="2800" r="12.4"/><circle cx="1061" cy="2805" r="12.4"/><circle cx="1100" cy="2818" r="12.4"/><circle cx="1151" cy="2824" r="12.4"/><circle cx="1228" cy="2802" r="12.4"/><circle cx="1228" cy="2820" r="12.4"/><circle cx="1226" cy="2827" r="12.4"/><circle cx="1447" cy="2820" r="12.4"/><circle cx="1441" cy="2833" r="12.4"/><circle cx="1192" cy="2844" r="12.4"/><circle cx="1189" cy="2852" r="12.4"/><circle cx="1088" cy="2850" r="12.4"/><circle cx="1088" cy="2860" r="12.4"/><circle cx="1166" cy="2873" r="12.4"/><circle cx="1140" cy="2882" r="12.4"/><circle cx="1100" cy="2888" r="12.4"/><circle cx="1114" cy="2890" r="12.4"/><circle cx="1166" cy="2888" r="12.4"/><circle cx="1183" cy="2890" r="12.4"/><circle cx="1127" cy="2899" r="12.4"/><circle cx="1174" cy="2911" r="12.4"/><circle cx="1174" cy="2929" r="12.4"/><circle cx="1177" cy="2929" r="12.4"/><circle cx="1203" cy="2929" r="12.4"/><circle cx="1074" cy="2959" r="12.4"/><circle cx="1151" cy="2959" r="12.4"/><circle cx="1154" cy="2959" r="12.4"/><circle cx="1166" cy="2959" r="12.4"/><circle cx="1175" cy="2959" r="12.4"/><circle cx="1183" cy="2959" r="12.4"/><circle cx="1271" cy="2959" r="12.4"/></g>
<path class="tk" d="M276 1949.4h23M276 2050.5h23M276 2151.5h23M276 2252.6h23M276 2353.6h23M276 2454.7h23M276 2555.7h23M276 2656.7h23M276 2757.8h23M276 2858.8h23M276 2959.9h23M407 3060.9v-22.7M538 3060.9v-22.7M669 3060.9v-22.7M800 3060.9v-22.7M931 3060.9v-22.7M1062 3060.9v-22.7M1193 3060.9v-22.7M1324 3060.9v-22.7M1455 3060.9v-22.7M1586 3060.9v-22.7M1717 3060.9v-22.7"/>
<path class="mtk" d="M276 1919h11.7M276 1901.2h11.7M276 1888.6h11.7M276 1878.8h11.7M276 1870.8h11.7M276 1864.1h11.7M276 1858.2h11.7M276 1853h11.7M276 2020.1h11.7M276 2002.3h11.7M276 1989.7h11.7M276 1979.9h11.7M276 1971.9h11.7M276 1965.1h11.7M276 1959.2h11.7M276 1954.1h11.7M276 2121.1h11.7M276 2103.3h11.7M276 2090.7h11.7M276 2080.9h11.7M276 2072.9h11.7M276 2066.1h11.7M276 2060.3h11.7M276 2055.1h11.7M276 2222.2h11.7M276 2204.4h11.7M276 2191.7h11.7M276 2181.9h11.7M276 2173.9h11.7M276 2167.2h11.7M276 2161.3h11.7M276 2156.1h11.7M276 2323.2h11.7M276 2305.4h11.7M276 2292.8h11.7M276 2283h11.7M276 2275h11.7M276 2268.2h11.7M276 2262.4h11.7M276 2257.2h11.7M276 2424.2h11.7M276 2406.4h11.7M276 2393.8h11.7M276 2384h11.7M276 2376h11.7M276 2369.3h11.7M276 2363.4h11.7M276 2358.2h11.7M276 2525.3h11.7M276 2507.5h11.7M276 2494.9h11.7M276 2485.1h11.7M276 2477.1h11.7M276 2470.3h11.7M276 2464.4h11.7M276 2459.3h11.7M276 2626.3h11.7M276 2608.5h11.7M276 2595.9h11.7M276 2586.1h11.7M276 2578.1h11.7M276 2571.3h11.7M276 2565.5h11.7M276 2560.3h11.7M276 2727.4h11.7M276 2709.6h11.7M276 2696.9h11.7M276 2687.1h11.7M276 2679.1h11.7M276 2672.4h11.7M276 2666.5h11.7M276 2661.4h11.7M276 2828.4h11.7M276 2810.6h11.7M276 2798h11.7M276 2788.2h11.7M276 2780.2h11.7M276 2773.4h11.7M276 2767.6h11.7M276 2762.4h11.7M276 2929.4h11.7M276 2911.6h11.7M276 2899h11.7M276 2889.2h11.7M276 2881.2h11.7M276 2874.5h11.7M276 2868.6h11.7M276 2863.4h11.7M276 3030.5h11.7M276 3012.7h11.7M276 3000.1h11.7M276 2990.3h11.7M276 2982.3h11.7M276 2975.5h11.7M276 2969.7h11.7M276 2964.5h11.7M341.5 3060.9v-11.1M472.5 3060.9v-11.1M603.5 3060.9v-11.1M734.5 3060.9v-11.1M865.5 3060.9v-11.1M996.5 3060.9v-11.1M1127.5 3060.9v-11.1M1258.5 3060.9v-11.1M1389.5 3060.9v-11.1M1520.5 3060.9v-11.1M1651.5 3060.9v-11.1M1782.5 3060.9v-11.1"/>
<rect class="fr" x="276" y="1848.4" width="1572" height="1212.5"/>
<text class="tl" text-anchor="middle" x="276.9" y="3124.5">1</text>
<text class="tl" text-anchor="middle" x="407.9" y="3124.5">2</text>
<text class="tl" text-anchor="middle" x="538.9" y="3124.5">3</text>
<text class="tl" text-anchor="middle" x="669.9" y="3124.5">4</text>
<text class="tl" text-anchor="middle" x="800.9" y="3124.5">5</text>
<text class="tl" text-anchor="middle" x="931.9" y="3124.5">6</text>
<text class="tl" text-anchor="middle" x="1062.8" y="3124.5">7</text>
<text class="tl" text-anchor="middle" x="1193.8" y="3124.5">8</text>
<text class="tl" text-anchor="middle" x="1324.8" y="3124.5">9</text>
<text class="tl" text-anchor="middle" x="1458" y="3124.5">10</text>
<text class="tl" text-anchor="middle" x="1589" y="3124.5">11</text>
<text class="tl" text-anchor="middle" x="1720" y="3124.5">12</text>
<text class="tl" text-anchor="middle" x="1851" y="3124.5">13</text>
<text class="tl" x="183.9" y="1867.5">10<tspan class="sp" dy="-25.2">6</tspan></text>
<text class="tl" x="183.9" y="1968.5">10<tspan class="sp" dy="-25.2">5</tspan></text>
<text class="tl" x="183.9" y="2069.6">10<tspan class="sp" dy="-25.2">4</tspan></text>
<text class="tl" x="183.9" y="2170.6">10<tspan class="sp" dy="-25.2">3</tspan></text>
<text class="tl" x="183.9" y="2271.7">10<tspan class="sp" dy="-25.2">2</tspan></text>
<text class="tl" x="183.9" y="2372.7">10<tspan class="sp" dy="-25.2">1</tspan></text>
<text class="tl" x="183.9" y="2473.8">10<tspan class="sp" dy="-25.2">0</tspan></text>
<text class="tl" x="183.9" y="2574.8">10<tspan class="sp" dy="-25.2">-1</tspan></text>
<text class="tl" x="183.9" y="2675.8">10<tspan class="sp" dy="-25.2">-2</tspan></text>
<text class="tl" x="183.9" y="2776.9">10<tspan class="sp" dy="-25.2">-3</tspan></text>
<text class="tl" x="183.9" y="2877.9">10<tspan class="sp" dy="-25.2">-4</tspan></text>
<text class="tl" x="183.9" y="2979">10<tspan class="sp" dy="-25.2">-5</tspan></text>
<text class="tl" x="183.9" y="3080">10<tspan class="sp" dy="-25.2">-6</tspan></text>
<text class="al" text-anchor="middle" x="1063.2" y="3212.3">pH</text>
<text class="al" text-anchor="middle" transform="translate(132.7 2454.7) rotate(-90)">Mn (mg/L)</text>
<text class="tag" x="47" y="1872">(c)</text>
<rect class="hbl" x="276" y="1820.1" width="131" height="8.3"/><rect class="hbl" x="407" y="1726.2" width="131" height="102.2"/><rect class="hgr" x="407" y="1674.2" width="131" height="52"/><rect class="hbl" x="538" y="1765.3" width="131" height="63.1"/><rect class="hgr" x="538" y="1711.6" width="131" height="53.7"/><rect class="hbl" x="669" y="1809.4" width="131" height="19"/><rect class="hgr" x="669" y="1790.5" width="131" height="18.9"/><rect class="hbl" x="800" y="1804.7" width="131" height="23.7"/><rect class="hgr" x="800" y="1788.5" width="131" height="16.2"/><rect class="hbl" x="931" y="1790.9" width="131" height="37.5"/><rect class="hgr" x="931" y="1756.2" width="131" height="34.7"/><rect class="hbl" x="1062" y="1775.9" width="131" height="52.5"/><rect class="hgr" x="1062" y="1738.1" width="131" height="37.8"/><rect class="hbl" x="1193" y="1811.8" width="131" height="16.6"/><rect class="hgr" x="1193" y="1798.4" width="131" height="13.4"/><rect class="hgr" x="1324" y="1822.9" width="131" height="5.5"/><path class="hl" d="M1455 1828.4h131"/><path class="hl" d="M1586 1828.4h131"/><path class="hl" d="M1717 1828.4h131"/><path class="hl hr" d="M1864.6 1848.4v101"/><rect class="hbl" x="1864.6" y="1949.4" width="1.2" height="101"/><rect class="hbl" x="1864.6" y="2050.5" width="5" height="101"/><rect class="hbl" x="1864.6" y="2151.5" width="88.5" height="101"/><rect class="hbl" x="1864.6" y="2252.6" width="120.1" height="101"/><rect class="hgr" x="1984.7" y="2252.6" width="38" height="101"/><rect class="hbl" x="1864.6" y="2353.6" width="111.1" height="101"/><rect class="hgr" x="1975.7" y="2353.6" width="142.6" height="101"/><rect class="hbl" x="1864.6" y="2454.7" width="49.8" height="101"/><rect class="hgr" x="1914.4" y="2454.7" width="58.2" height="101"/><rect class="hbl" x="1864.6" y="2555.7" width="33.2" height="101"/><rect class="hgr" x="1897.8" y="2555.7" width="26.4" height="101"/><rect class="hgr" x="1864.6" y="2656.7" width="6.5" height="101"/><rect class="hgr" x="1864.6" y="2757.8" width="8" height="101"/><rect class="hgr" x="1864.6" y="2858.8" width="10" height="101"/>
</g>
<g id="panel-d">
<path class="grid" d="M2500.6 1848.4V3060.9M2631.6 1848.4V3060.9M2762.6 1848.4V3060.9M2893.6 1848.4V3060.9M3024.6 1848.4V3060.9M3155.6 1848.4V3060.9M3286.6 1848.4V3060.9M3417.6 1848.4V3060.9M3548.6 1848.4V3060.9M3679.6 1848.4V3060.9M3810.6 1848.4V3060.9M2369.6 1949.4H3941.6M2369.6 2050.5H3941.6M2369.6 2151.5H3941.6M2369.6 2252.6H3941.6M2369.6 2353.6H3941.6M2369.6 2454.7H3941.6M2369.6 2555.7H3941.6M2369.6 2656.7H3941.6M2369.6 2757.8H3941.6M2369.6 2858.8H3941.6M2369.6 2959.9H3941.6"/>
<g class="pb"><circle cx="2423" cy="2128" r="12.4"/><circle cx="2425" cy="2130" r="12.4"/><circle cx="2436" cy="2140" r="12.4"/><circle cx="2441" cy="2148" r="12.4"/><circle cx="2444" cy="2151" r="12.4"/><circle cx="2395" cy="2204" r="12.4"/><circle cx="2434" cy="2256" r="12.4"/><circle cx="2487" cy="2281" r="12.4"/><circle cx="2697" cy="2113" r="12.4"/><circle cx="2697" cy="2037" r="12.4"/><circle cx="2571" cy="2139" r="12.4"/><circle cx="2620" cy="2211" r="12.4"/><circle cx="2613" cy="2163" r="12.4"/><circle cx="2657" cy="2193" r="12.4"/><circle cx="2515" cy="2126" r="12.4"/><circle cx="2638" cy="2200" r="12.4"/><circle cx="2492" cy="2226" r="12.4"/><circle cx="2508" cy="2208" r="12.4"/><circle cx="2490" cy="2153" r="12.4"/><circle cx="2630" cy="2198" r="12.4"/><circle cx="2522" cy="2242" r="12.4"/><circle cx="2686" cy="2150" r="12.4"/><circle cx="2513" cy="2208" r="12.4"/><circle cx="2577" cy="2207" r="12.4"/><circle cx="2599" cy="2165" r="12.4"/><circle cx="2590" cy="2217" r="12.4"/><circle cx="2582" cy="2220" r="12.4"/><circle cx="2639" cy="2153" r="12.4"/><circle cx="2511" cy="2113" r="12.4"/><circle cx="2504" cy="2207" r="12.4"/><circle cx="2627" cy="2169" r="12.4"/><circle cx="2537" cy="2172" r="12.4"/><circle cx="2578" cy="2174" r="12.4"/><circle cx="2529" cy="2211" r="12.4"/><circle cx="2545" cy="2244" r="12.4"/><circle cx="2557" cy="2248" r="12.4"/><circle cx="2571" cy="2242" r="12.4"/><circle cx="2530" cy="2129" r="12.4"/><circle cx="2485" cy="2131" r="12.4"/><circle cx="2536" cy="2192" r="12.4"/><circle cx="2515" cy="2155" r="12.4"/><circle cx="2533" cy="2209" r="12.4"/><circle cx="2625" cy="2215" r="12.4"/><circle cx="2613" cy="2181" r="12.4"/><circle cx="2634" cy="2183" r="12.4"/><circle cx="2495" cy="2183" r="12.4"/><circle cx="2624" cy="2158" r="12.4"/><circle cx="2700" cy="2151" r="12.4"/><circle cx="2515" cy="2237" r="12.4"/><circle cx="2691" cy="2147" r="12.4"/><circle cx="2622" cy="2151" r="12.4"/><circle cx="2536" cy="2181" r="12.4"/><circle cx="2624" cy="2139" r="12.4"/><circle cx="2522" cy="2177" r="12.4"/><circle cx="2495" cy="2181" r="12.4"/><circle cx="2525" cy="2229" r="12.4"/><circle cx="2557" cy="2160" r="12.4"/><circle cx="2520" cy="2239" r="12.4"/><circle cx="2532" cy="2240" r="12.4"/><circle cx="2604" cy="2126" r="12.4"/><circle cx="2639" cy="2186" r="12.4"/><circle cx="2572" cy="2132" r="12.4"/><circle cx="2607" cy="2195" r="12.4"/><circle cx="2647" cy="2180" r="12.4"/><circle cx="2617" cy="2216" r="12.4"/><circle cx="2524" cy="2131" r="12.4"/><circle cx="2597" cy="2221" r="12.4"/><circle cx="2585" cy="2215" r="12.4"/><circle cx="2503" cy="2164" r="12.4"/><circle cx="2494" cy="2234" r="12.4"/><circle cx="2663" cy="2161" r="12.4"/><circle cx="2568" cy="2158" r="12.4"/><circle cx="2516" cy="2117" r="12.4"/><circle cx="2685" cy="2152" r="12.4"/><circle cx="2700" cy="2152" r="12.4"/><circle cx="2562" cy="2129" r="12.4"/><circle cx="2596" cy="2143" r="12.4"/><circle cx="2646" cy="2187" r="12.4"/><circle cx="2544" cy="2212" r="12.4"/><circle cx="2606" cy="2133" r="12.4"/><circle cx="2641" cy="2147" r="12.4"/><circle cx="2539" cy="2237" r="12.4"/><circle cx="2552" cy="2166" r="12.4"/><circle cx="2535" cy="2249" r="12.4"/><circle cx="2579" cy="2251" r="12.4"/><circle cx="2588" cy="2206" r="12.4"/><circle cx="2486" cy="2135" r="12.4"/><circle cx="2550" cy="2161" r="12.4"/><circle cx="2520" cy="2169" r="12.4"/><circle cx="2499" cy="2192" r="12.4"/><circle cx="2657" cy="2203" r="12.4"/><circle cx="2617" cy="2174" r="12.4"/><circle cx="2583" cy="2145" r="12.4"/><circle cx="2572" cy="2177" r="12.4"/><circle cx="2568" cy="2253" r="12.4"/><circle cx="2605" cy="2183" r="12.4"/><circle cx="2646" cy="2148" r="12.4"/><circle cx="2544" cy="2145" r="12.4"/><circle cx="2606" cy="2128" r="12.4"/><circle cx="2675" cy="2145" r="12.4"/><circle cx="2567" cy="2252" r="12.4"/><circle cx="2513" cy="2150" r="12.4"/><circle cx="2523" cy="2175" r="12.4"/><circle cx="2611" cy="2142" r="12.4"/><circle cx="2603" cy="2168" r="12.4"/><circle cx="2563" cy="2178" r="12.4"/><circle cx="2563" cy="2164" r="12.4"/><circle cx="2501" cy="2173" r="12.4"/><circle cx="2549" cy="2178" r="12.4"/><circle cx="2534" cy="2157" r="12.4"/><circle cx="2505" cy="2148" r="12.4"/><circle cx="2541" cy="2141" r="12.4"/><circle cx="2559" cy="2251" r="12.4"/><circle cx="2604" cy="2244" r="12.4"/><circle cx="2642" cy="2196" r="12.4"/><circle cx="2601" cy="2139" r="12.4"/><circle cx="2502" cy="2170" r="12.4"/><circle cx="2577" cy="2123" r="12.4"/><circle cx="2586" cy="2142" r="12.4"/><circle cx="2578" cy="2234" r="12.4"/><circle cx="2549" cy="2165" r="12.4"/><circle cx="2584" cy="2234" r="12.4"/><circle cx="2552" cy="2244" r="12.4"/><circle cx="2523" cy="2210" r="12.4"/><circle cx="2558" cy="2234" r="12.4"/><circle cx="2593" cy="2188" r="12.4"/><circle cx="2593" cy="2169" r="12.4"/><circle cx="2587" cy="2173" r="12.4"/><circle cx="2596" cy="2222" r="12.4"/><circle cx="2499" cy="2126" r="12.4"/><circle cx="2490" cy="2208" r="12.4"/><circle cx="2567" cy="2176" r="12.4"/><circle cx="2560" cy="2142" r="12.4"/><circle cx="2569" cy="2139" r="12.4"/><circle cx="2494" cy="2193" r="12.4"/><circle cx="2576" cy="2230" r="12.4"/><circle cx="2651" cy="2175" r="12.4"/><circle cx="2656" cy="2203" r="12.4"/><circle cx="2575" cy="2187" r="12.4"/><circle cx="2503" cy="2201" r="12.4"/><circle cx="2510" cy="2208" r="12.4"/><circle cx="2628" cy="2210" r="12.4"/><circle cx="2523" cy="2215" r="12.4"/><circle cx="2691" cy="2158" r="12.4"/><circle cx="2535" cy="2173" r="12.4"/><circle cx="2594" cy="2197" r="12.4"/><circle cx="2560" cy="2144" r="12.4"/><circle cx="2635" cy="2174" r="12.4"/><circle cx="2587" cy="2204" r="12.4"/><circle cx="2493" cy="2145" r="12.4"/><circle cx="2548" cy="2185" r="12.4"/><circle cx="2632" cy="2221" r="12.4"/><circle cx="2715" cy="2155" r="12.4"/><circle cx="2552" cy="2225" r="12.4"/><circle cx="2579" cy="2120" r="12.4"/><circle cx="2604" cy="2209" r="12.4"/><circle cx="2541" cy="2211" r="12.4"/><circle cx="2658" cy="2154" r="12.4"/><circle cx="2656" cy="2155" r="12.4"/><circle cx="2536" cy="2230" r="12.4"/><circle cx="2573" cy="2222" r="12.4"/><circle cx="2626" cy="2149" r="12.4"/><circle cx="2546" cy="2248" r="12.4"/><circle cx="2607" cy="2214" r="12.4"/><circle cx="2634" cy="2168" r="12.4"/><circle cx="2647" cy="2190" r="12.4"/><circle cx="2576" cy="2189" r="12.4"/><circle cx="2503" cy="2204" r="12.4"/><circle cx="2493" cy="2124" r="12.4"/><circle cx="2640" cy="2177" r="12.4"/><circle cx="2504" cy="2194" r="12.4"/><circle cx="2504" cy="2147" r="12.4"/><circle cx="2512" cy="2141" r="12.4"/><circle cx="2515" cy="2119" r="12.4"/><circle cx="2650" cy="2194" r="12.4"/><circle cx="2660" cy="2195" r="12.4"/><circle cx="2539" cy="2165" r="12.4"/><circle cx="2568" cy="2248" r="12.4"/><circle cx="2497" cy="2109" r="12.4"/><circle cx="2591" cy="2195" r="12.4"/><circle cx="2532" cy="2146" r="12.4"/><circle cx="2647" cy="2165" r="12.4"/><circle cx="2644" cy="2214" r="12.4"/><circle cx="2581" cy="2150" r="12.4"/><circle cx="2583" cy="2220" r="12.4"/><circle cx="2480" cy="2135" r="12.4"/><circle cx="2564" cy="2212" r="12.4"/><circle cx="2602" cy="2138" r="12.4"/><circle cx="2696" cy="2163" r="12.4"/><circle cx="2562" cy="2127" r="12.4"/><circle cx="2510" cy="2217" r="12.4"/><circle cx="2560" cy="2186" r="12.4"/><circle cx="2578" cy="2140" r="12.4"/><circle cx="2517" cy="2207" r="12.4"/><circle cx="2543" cy="2239" r="12.4"/><circle cx="2668" cy="2150" r="12.4"/><circle cx="2671" cy="2151" r="12.4"/><circle cx="2665" cy="2149" r="12.4"/><circle cx="2660" cy="2147" r="12.4"/><circle cx="2654" cy="2152" r="12.4"/><circle cx="2708" cy="2150" r="12.4"/><circle cx="2719" cy="2159" r="12.4"/><circle cx="2713" cy="2155" r="12.4"/><circle cx="2652" cy="2150" r="12.4"/><circle cx="2706" cy="2151" r="12.4"/><circle cx="2670" cy="2147" r="12.4"/><circle cx="2704" cy="2154" r="12.4"/><circle cx="2679" cy="2149" r="12.4"/><circle cx="2704" cy="2149" r="12.4"/><circle cx="2712" cy="2155" r="12.4"/><circle cx="2704" cy="2153" r="12.4"/><circle cx="2704" cy="2151" r="12.4"/><circle cx="2679" cy="2149" r="12.4"/><circle cx="2678" cy="2155" r="12.4"/><circle cx="2705" cy="2154" r="12.4"/><circle cx="2655" cy="2145" r="12.4"/><circle cx="2716" cy="2156" r="12.4"/><circle cx="2653" cy="2145" r="12.4"/><circle cx="2708" cy="2151" r="12.4"/><circle cx="2652" cy="2140" r="12.4"/><circle cx="2666" cy="2154" r="12.4"/><circle cx="2671" cy="2146" r="12.4"/><circle cx="2678" cy="2152" r="12.4"/><circle cx="2718" cy="2152" r="12.4"/><circle cx="2671" cy="2147" r="12.4"/><circle cx="2674" cy="2149" r="12.4"/><circle cx="2671" cy="2142" r="12.4"/><circle cx="2648" cy="2147" r="12.4"/><circle cx="2699" cy="2153" r="12.4"/><circle cx="2660" cy="2148" r="12.4"/><circle cx="2687" cy="2150" r="12.4"/><circle cx="2541" cy="2334" r="12.4"/><circle cx="2616" cy="2242" r="12.4"/><circle cx="2573" cy="2326" r="12.4"/><circle cx="2609" cy="2256" r="12.4"/><circle cx="2636" cy="2299" r="12.4"/><circle cx="2582" cy="2359" r="12.4"/><circle cx="2673" cy="2304" r="12.4"/><circle cx="2580" cy="2379" r="12.4"/><circle cx="2605" cy="2296" r="12.4"/><circle cx="2597" cy="2257" r="12.4"/><circle cx="2651" cy="2258" r="12.4"/><circle cx="2587" cy="2324" r="12.4"/><circle cx="2564" cy="2335" r="12.4"/><circle cx="2617" cy="2378" r="12.4"/><circle cx="2629" cy="2272" r="12.4"/><circle cx="2640" cy="2350" r="12.4"/><circle cx="2592" cy="2322" r="12.4"/><circle cx="2633" cy="2336" r="12.4"/><circle cx="2621" cy="2315" r="12.4"/><circle cx="2648" cy="2291" r="12.4"/><circle cx="2604" cy="2322" r="12.4"/><circle cx="2590" cy="2350" r="12.4"/><circle cx="2624" cy="2299" r="12.4"/><circle cx="2643" cy="2284" r="12.4"/><circle cx="2617" cy="2254" r="12.4"/><circle cx="2570" cy="2281" r="12.4"/><circle cx="2591" cy="2337" r="12.4"/><circle cx="2606" cy="2373" r="12.4"/><circle cx="2552" cy="2339" r="12.4"/><circle cx="2665" cy="2288" r="12.4"/><circle cx="2665" cy="2278" r="12.4"/><circle cx="2599" cy="2324" r="12.4"/><circle cx="2591" cy="2285" r="12.4"/><circle cx="2588" cy="2294" r="12.4"/><circle cx="2552" cy="2283" r="12.4"/><circle cx="2523" cy="2332" r="12.4"/><circle cx="2589" cy="2279" r="12.4"/><circle cx="2554" cy="2312" r="12.4"/><circle cx="2575" cy="2332" r="12.4"/><circle cx="2609" cy="2373" r="12.4"/><circle cx="2641" cy="2329" r="12.4"/><circle cx="2551" cy="2311" r="12.4"/><circle cx="2571" cy="2232" r="12.4"/><circle cx="2574" cy="2303" r="12.4"/><circle cx="2550" cy="2321" r="12.4"/><circle cx="2610" cy="2374" r="12.4"/><circle cx="2558" cy="2351" r="12.4"/><circle cx="2612" cy="2295" r="12.4"/><circle cx="2573" cy="2286" r="12.4"/><circle cx="2571" cy="2357" r="12.4"/><circle cx="2543" cy="2302" r="12.4"/><circle cx="2580" cy="2318" r="12.4"/><circle cx="2610" cy="2309" r="12.4"/><circle cx="2584" cy="2282" r="12.4"/><circle cx="2587" cy="2270" r="12.4"/><circle cx="2546" cy="2380" r="12.4"/><circle cx="2597" cy="2300" r="12.4"/><circle cx="2639" cy="2293" r="12.4"/><circle cx="2586" cy="2354" r="12.4"/><circle cx="2611" cy="2357" r="12.4"/><circle cx="2529" cy="2286" r="12.4"/><circle cx="2543" cy="2300" r="12.4"/><circle cx="2553" cy="2315" r="12.4"/><circle cx="2515" cy="2355" r="12.4"/><circle cx="2527" cy="2362" r="12.4"/><circle cx="2570" cy="2381" r="12.4"/><circle cx="2584" cy="2380" r="12.4"/><circle cx="2570" cy="2396" r="12.4"/><circle cx="2599" cy="2406" r="12.4"/><circle cx="2619" cy="2420" r="12.4"/><circle cx="2637" cy="2428" r="12.4"/><circle cx="2643" cy="2399" r="12.4"/><circle cx="2632" cy="2458" r="12.4"/><circle cx="2578" cy="2470" r="12.4"/><circle cx="2514" cy="2477" r="12.4"/><circle cx="2693" cy="2281" r="12.4"/><circle cx="2690" cy="2278" r="12.4"/><circle cx="2695" cy="2383" r="12.4"/><circle cx="2691" cy="2385" r="12.4"/><circle cx="2743" cy="2385" r="12.4"/><circle cx="2759" cy="2367" r="12.4"/><circle cx="2741" cy="2324" r="12.4"/><circle cx="2745" cy="2262" r="12.4"/><circle cx="2743" cy="2301" r="12.4"/><circle cx="2784" cy="2262" r="12.4"/><circle cx="2803" cy="2266" r="12.4"/><circle cx="2763" cy="2274" r="12.4"/><circle cx="2763" cy="2315" r="12.4"/><circle cx="2774" cy="2339" r="12.4"/><circle cx="2772" cy="2341" r="12.4"/><circle cx="2790" cy="2335" r="12.4"/><circle cx="2948" cy="2264" r="12.4"/><circle cx="2948" cy="2274" r="12.4"/><circle cx="2982" cy="2296" r="12.4"/><circle cx="2911" cy="2342" r="12.4"/><circle cx="2872" cy="2326" r="12.4"/><circle cx="2797" cy="2390" r="12.4"/><circle cx="2806" cy="2394" r="12.4"/><circle cx="2893" cy="2390" r="12.4"/><circle cx="2855" cy="2408" r="12.4"/><circle cx="2881" cy="2418" r="12.4"/><circle cx="2893" cy="2435" r="12.4"/><circle cx="2945" cy="2406" r="12.4"/><circle cx="2945" cy="2418" r="12.4"/><circle cx="2920" cy="2440" r="12.4"/><circle cx="2949" cy="2447" r="12.4"/><circle cx="2946" cy="2467" r="12.4"/><circle cx="2813" cy="2437" r="12.4"/><circle cx="2822" cy="2449" r="12.4"/><circle cx="2815" cy="2477" r="12.4"/><circle cx="2886" cy="2481" r="12.4"/><circle cx="2899" cy="2485" r="12.4"/><circle cx="2877" cy="2508" r="12.4"/><circle cx="2988" cy="2452" r="12.4"/><circle cx="2993" cy="2458" r="12.4"/><circle cx="3063" cy="2433" r="12.4"/><circle cx="2735" cy="2522" r="12.4"/><circle cx="2724" cy="2578" r="12.4"/><circle cx="2851" cy="2596" r="12.4"/><circle cx="2874" cy="2586" r="12.4"/><circle cx="2899" cy="2587" r="12.4"/><circle cx="2952" cy="2586" r="12.4"/><circle cx="2963" cy="2561" r="12.4"/><circle cx="2888" cy="2626" r="12.4"/><circle cx="2899" cy="2626" r="12.4"/><circle cx="2938" cy="2626" r="12.4"/><circle cx="2959" cy="2656" r="12.4"/><circle cx="3004" cy="2608" r="12.4"/><circle cx="3088" cy="2560" r="12.4"/><circle cx="3090" cy="2565" r="12.4"/><circle cx="3088" cy="2585" r="12.4"/><circle cx="3095" cy="2587" r="12.4"/><circle cx="3102" cy="2581" r="12.4"/><circle cx="3049" cy="2587" r="12.4"/><circle cx="3111" cy="2608" r="12.4"/><circle cx="3058" cy="2626" r="12.4"/><circle cx="3016" cy="2626" r="12.4"/><circle cx="3024" cy="2628" r="12.4"/><circle cx="3111" cy="2626" r="12.4"/><circle cx="3116" cy="2428" r="12.4"/><circle cx="2999" cy="2656" r="12.4"/><circle cx="3063" cy="2656" r="12.4"/><circle cx="3069" cy="2656" r="12.4"/><circle cx="3063" cy="2656" r="12.4"/><circle cx="3053" cy="2656" r="12.4"/><circle cx="3043" cy="2656" r="12.4"/><circle cx="3046" cy="2656" r="12.4"/><circle cx="3031" cy="2656" r="12.4"/><circle cx="3035" cy="2656" r="12.4"/><circle cx="3089" cy="2656" r="12.4"/><circle cx="3102" cy="2656" r="12.4"/><circle cx="3090" cy="2656" r="12.4"/><circle cx="3091" cy="2656" r="12.4"/><circle cx="3168" cy="2422" r="12.4"/><circle cx="3207" cy="2428" r="12.4"/><circle cx="3199" cy="2448" r="12.4"/><circle cx="3329" cy="2445" r="12.4"/><circle cx="3285" cy="2465" r="12.4"/><circle cx="3352" cy="2477" r="12.4"/><circle cx="3200" cy="2533" r="12.4"/><circle cx="3403" cy="2536" r="12.4"/><circle cx="3299" cy="2516" r="12.4"/><circle cx="3294" cy="2529" r="12.4"/><circle cx="3171" cy="2559" r="12.4"/><circle cx="3188" cy="2552" r="12.4"/><circle cx="3191" cy="2557" r="12.4"/><circle cx="3204" cy="2561" r="12.4"/><circle cx="3184" cy="2577" r="12.4"/><circle cx="3298" cy="2564" r="12.4"/><circle cx="3364" cy="2566" r="12.4"/><circle cx="3280" cy="2586" r="12.4"/><circle cx="3312" cy="2609" r="12.4"/><circle cx="3147" cy="2609" r="12.4"/><circle cx="3161" cy="2627" r="12.4"/><circle cx="3164" cy="2627" r="12.4"/><circle cx="3257" cy="2627" r="12.4"/><circle cx="3298" cy="2627" r="12.4"/><circle cx="3145" cy="2656" r="12.4"/><circle cx="3179" cy="2656" r="12.4"/><circle cx="3271" cy="2656" r="12.4"/><circle cx="3279" cy="2656" r="12.4"/><circle cx="3314" cy="2656" r="12.4"/><circle cx="3326" cy="2656" r="12.4"/></g>
<g class="pg"><circle cx="2539" cy="2187" r="12.4"/><circle cx="2559" cy="2197" r="12.4"/><circle cx="2616" cy="2208" r="12.4"/><circle cx="2544" cy="2221" r="12.4"/><circle cx="2591" cy="2226" r="12.4"/><circle cx="2676" cy="2218" r="12.4"/><circle cx="2699" cy="2237" r="12.4"/><circle cx="2487" cy="2242" r="12.4"/><circle cx="2506" cy="2244" r="12.4"/><circle cx="2515" cy="2249" r="12.4"/><circle cx="2527" cy="2250" r="12.4"/><circle cx="2587" cy="2280" r="12.4"/><circle cx="2588" cy="2306" r="12.4"/><circle cx="2587" cy="2240" r="12.4"/><circle cx="2603" cy="2277" r="12.4"/><circle cx="2584" cy="2289" r="12.4"/><circle cx="2599" cy="2320" r="12.4"/><circle cx="2614" cy="2288" r="12.4"/><circle cx="2566" cy="2254" r="12.4"/><circle cx="2600" cy="2325" r="12.4"/><circle cx="2593" cy="2282" r="12.4"/><circle cx="2609" cy="2241" r="12.4"/><circle cx="2581" cy="2300" r="12.4"/><circle cx="2621" cy="2278" r="12.4"/><circle cx="2604" cy="2293" r="12.4"/><circle cx="2618" cy="2251" r="12.4"/><circle cx="2611" cy="2239" r="12.4"/><circle cx="2560" cy="2312" r="12.4"/><circle cx="2614" cy="2248" r="12.4"/><circle cx="2620" cy="2255" r="12.4"/><circle cx="2589" cy="2276" r="12.4"/><circle cx="2595" cy="2310" r="12.4"/><circle cx="2613" cy="2296" r="12.4"/><circle cx="2613" cy="2300" r="12.4"/><circle cx="2570" cy="2263" r="12.4"/><circle cx="2575" cy="2300" r="12.4"/><circle cx="2564" cy="2252" r="12.4"/><circle cx="2618" cy="2328" r="12.4"/><circle cx="2609" cy="2310" r="12.4"/><circle cx="2640" cy="2282" r="12.4"/><circle cx="2543" cy="2269" r="12.4"/><circle cx="2624" cy="2241" r="12.4"/><circle cx="2593" cy="2293" r="12.4"/><circle cx="2581" cy="2307" r="12.4"/><circle cx="2612" cy="2267" r="12.4"/><circle cx="2572" cy="2260" r="12.4"/><circle cx="2624" cy="2268" r="12.4"/><circle cx="2589" cy="2308" r="12.4"/><circle cx="2567" cy="2276" r="12.4"/><circle cx="2572" cy="2298" r="12.4"/><circle cx="2632" cy="2284" r="12.4"/><circle cx="2600" cy="2290" r="12.4"/><circle cx="2628" cy="2312" r="12.4"/><circle cx="2601" cy="2254" r="12.4"/><circle cx="2622" cy="2297" r="12.4"/><circle cx="2633" cy="2284" r="12.4"/><circle cx="2658" cy="2274" r="12.4"/><circle cx="2645" cy="2288" r="12.4"/><circle cx="2574" cy="2251" r="12.4"/><circle cx="2586" cy="2328" r="12.4"/><circle cx="2619" cy="2306" r="12.4"/><circle cx="2610" cy="2268" r="12.4"/><circle cx="2570" cy="2285" r="12.4"/><circle cx="2650" cy="2253" r="12.4"/><circle cx="2577" cy="2326" r="12.4"/><circle cx="2576" cy="2274" r="12.4"/><circle cx="2595" cy="2247" r="12.4"/><circle cx="2599" cy="2248" r="12.4"/><circle cx="2621" cy="2285" r="12.4"/><circle cx="2638" cy="2245" r="12.4"/><circle cx="2587" cy="2295" r="12.4"/><circle cx="2625" cy="2303" r="12.4"/><circle cx="2643" cy="2307" r="12.4"/><circle cx="2593" cy="2269" r="12.4"/><circle cx="2549" cy="2291" r="12.4"/><circle cx="2585" cy="2346" r="12.4"/><circle cx="2571" cy="2295" r="12.4"/><circle cx="2538" cy="2273" r="12.4"/><circle cx="2600" cy="2310" r="12.4"/><circle cx="2641" cy="2284" r="12.4"/><circle cx="2554" cy="2299" r="12.4"/><circle cx="2609" cy="2300" r="12.4"/><circle cx="2568" cy="2319" r="12.4"/><circle cx="2594" cy="2306" r="12.4"/><circle cx="2635" cy="2303" r="12.4"/><circle cx="2600" cy="2276" r="12.4"/><circle cx="2595" cy="2330" r="12.4"/><circle cx="2595" cy="2301" r="12.4"/><circle cx="2632" cy="2269" r="12.4"/><circle cx="2533" cy="2294" r="12.4"/><circle cx="2599" cy="2267" r="12.4"/><circle cx="2621" cy="2303" r="12.4"/><circle cx="2558" cy="2301" r="12.4"/><circle cx="2585" cy="2240" r="12.4"/><circle cx="2607" cy="2284" r="12.4"/><circle cx="2566" cy="2301" r="12.4"/><circle cx="2608" cy="2267" r="12.4"/><circle cx="2605" cy="2316" r="12.4"/><circle cx="2567" cy="2297" r="12.4"/><circle cx="2528" cy="2306" r="12.4"/><circle cx="2581" cy="2282" r="12.4"/><circle cx="2656" cy="2285" r="12.4"/><circle cx="2603" cy="2270" r="12.4"/><circle cx="2568" cy="2287" r="12.4"/><circle cx="2582" cy="2291" r="12.4"/><circle cx="2586" cy="2338" r="12.4"/><circle cx="2557" cy="2294" r="12.4"/><circle cx="2541" cy="2268" r="12.4"/><circle cx="2607" cy="2306" r="12.4"/><circle cx="2635" cy="2277" r="12.4"/><circle cx="2537" cy="2272" r="12.4"/><circle cx="2634" cy="2299" r="12.4"/><circle cx="2525" cy="2284" r="12.4"/><circle cx="2610" cy="2294" r="12.4"/><circle cx="2549" cy="2259" r="12.4"/><circle cx="2593" cy="2300" r="12.4"/><circle cx="2690" cy="2325" r="12.4"/><circle cx="2619" cy="2316" r="12.4"/><circle cx="2619" cy="2357" r="12.4"/><circle cx="2685" cy="2382" r="12.4"/><circle cx="2669" cy="2367" r="12.4"/><circle cx="2650" cy="2317" r="12.4"/><circle cx="2639" cy="2382" r="12.4"/><circle cx="2707" cy="2352" r="12.4"/><circle cx="2692" cy="2347" r="12.4"/><circle cx="2728" cy="2299" r="12.4"/><circle cx="2650" cy="2351" r="12.4"/><circle cx="2699" cy="2300" r="12.4"/><circle cx="2664" cy="2336" r="12.4"/><circle cx="2681" cy="2317" r="12.4"/><circle cx="2680" cy="2349" r="12.4"/><circle cx="2707" cy="2361" r="12.4"/><circle cx="2659" cy="2377" r="12.4"/><circle cx="2661" cy="2320" r="12.4"/><circle cx="2645" cy="2322" r="12.4"/><circle cx="2677" cy="2328" r="12.4"/><circle cx="2637" cy="2349" r="12.4"/><circle cx="2737" cy="2340" r="12.4"/><circle cx="2646" cy="2322" r="12.4"/><circle cx="2664" cy="2302" r="12.4"/><circle cx="2661" cy="2340" r="12.4"/><circle cx="2742" cy="2366" r="12.4"/><circle cx="2709" cy="2318" r="12.4"/><circle cx="2694" cy="2306" r="12.4"/><circle cx="2679" cy="2351" r="12.4"/><circle cx="2690" cy="2284" r="12.4"/><circle cx="2689" cy="2327" r="12.4"/><circle cx="2666" cy="2352" r="12.4"/><circle cx="2682" cy="2280" r="12.4"/><circle cx="2619" cy="2361" r="12.4"/><circle cx="2698" cy="2284" r="12.4"/><circle cx="2733" cy="2346" r="12.4"/><circle cx="2693" cy="2285" r="12.4"/><circle cx="2678" cy="2318" r="12.4"/><circle cx="2671" cy="2325" r="12.4"/><circle cx="2723" cy="2298" r="12.4"/><circle cx="2679" cy="2390" r="12.4"/><circle cx="2632" cy="2345" r="12.4"/><circle cx="2675" cy="2319" r="12.4"/><circle cx="2693" cy="2341" r="12.4"/><circle cx="2628" cy="2389" r="12.4"/><circle cx="2699" cy="2334" r="12.4"/><circle cx="2640" cy="2316" r="12.4"/><circle cx="2717" cy="2334" r="12.4"/><circle cx="2685" cy="2333" r="12.4"/><circle cx="2692" cy="2335" r="12.4"/><circle cx="2698" cy="2333" r="12.4"/><circle cx="2701" cy="2358" r="12.4"/><circle cx="2662" cy="2314" r="12.4"/><circle cx="2628" cy="2317" r="12.4"/><circle cx="2626" cy="2363" r="12.4"/><circle cx="2665" cy="2383" r="12.4"/><circle cx="2603" cy="2328" r="12.4"/><circle cx="2663" cy="2296" r="12.4"/><circle cx="2656" cy="2347" r="12.4"/><circle cx="2648" cy="2317" r="12.4"/><circle cx="2635" cy="2390" r="12.4"/><circle cx="2660" cy="2315" r="12.4"/><circle cx="2651" cy="2366" r="12.4"/><circle cx="2638" cy="2352" r="12.4"/><circle cx="2696" cy="2360" r="12.4"/><circle cx="2724" cy="2323" r="12.4"/><circle cx="2713" cy="2316" r="12.4"/><circle cx="2650" cy="2373" r="12.4"/><circle cx="2700" cy="2339" r="12.4"/><circle cx="2617" cy="2355" r="12.4"/><circle cx="2641" cy="2312" r="12.4"/><circle cx="2640" cy="2346" r="12.4"/><circle cx="2674" cy="2322" r="12.4"/><circle cx="2709" cy="2356" r="12.4"/><circle cx="2642" cy="2319" r="12.4"/><circle cx="2695" cy="2295" r="12.4"/><circle cx="2653" cy="2321" r="12.4"/><circle cx="2669" cy="2345" r="12.4"/><circle cx="2668" cy="2371" r="12.4"/><circle cx="2676" cy="2330" r="12.4"/><circle cx="2617" cy="2359" r="12.4"/><circle cx="2688" cy="2380" r="12.4"/><circle cx="2636" cy="2339" r="12.4"/><circle cx="2664" cy="2336" r="12.4"/><circle cx="2667" cy="2290" r="12.4"/><circle cx="2700" cy="2357" r="12.4"/><circle cx="2653" cy="2338" r="12.4"/><circle cx="2667" cy="2394" r="12.4"/><circle cx="2595" cy="2352" r="12.4"/><circle cx="2710" cy="2314" r="12.4"/><circle cx="2657" cy="2305" r="12.4"/><circle cx="2692" cy="2307" r="12.4"/><circle cx="2721" cy="2310" r="12.4"/><circle cx="2635" cy="2342" r="12.4"/><circle cx="2667" cy="2379" r="12.4"/><circle cx="2671" cy="2304" r="12.4"/><circle cx="2643" cy="2322" r="12.4"/><circle cx="2696" cy="2350" r="12.4"/><circle cx="2662" cy="2363" r="12.4"/><circle cx="2645" cy="2335" r="12.4"/><circle cx="2674" cy="2382" r="12.4"/><circle cx="2662" cy="2329" r="12.4"/><circle cx="2623" cy="2358" r="12.4"/><circle cx="2642" cy="2348" r="12.4"/><circle cx="2612" cy="2316" r="12.4"/><circle cx="2710" cy="2300" r="12.4"/><circle cx="2663" cy="2341" r="12.4"/><circle cx="2625" cy="2377" r="12.4"/><circle cx="2607" cy="2362" r="12.4"/><circle cx="2613" cy="2327" r="12.4"/><circle cx="2672" cy="2358" r="12.4"/><circle cx="2657" cy="2341" r="12.4"/><circle cx="2635" cy="2375" r="12.4"/><circle cx="2646" cy="2348" r="12.4"/><circle cx="2645" cy="2342" r="12.4"/><circle cx="2629" cy="2258" r="12.4"/><circle cx="2602" cy="2269" r="12.4"/><circle cx="2680" cy="2263" r="12.4"/><circle cx="2658" cy="2269" r="12.4"/><circle cx="2664" cy="2263" r="12.4"/><circle cx="2641" cy="2269" r="12.4"/><circle cx="2636" cy="2250" r="12.4"/><circle cx="2635" cy="2240" r="12.4"/><circle cx="2634" cy="2264" r="12.4"/><circle cx="2674" cy="2262" r="12.4"/><circle cx="2664" cy="2260" r="12.4"/><circle cx="2601" cy="2245" r="12.4"/><circle cx="2603" cy="2245" r="12.4"/><circle cx="2655" cy="2258" r="12.4"/><circle cx="2653" cy="2261" r="12.4"/><circle cx="2668" cy="2271" r="12.4"/><circle cx="2614" cy="2257" r="12.4"/><circle cx="2617" cy="2243" r="12.4"/><circle cx="2656" cy="2273" r="12.4"/><circle cx="2634" cy="2255" r="12.4"/><circle cx="2640" cy="2262" r="12.4"/><circle cx="2616" cy="2275" r="12.4"/><circle cx="2518" cy="2342" r="12.4"/><circle cx="2554" cy="2346" r="12.4"/><circle cx="2565" cy="2346" r="12.4"/><circle cx="2579" cy="2342" r="12.4"/><circle cx="2577" cy="2390" r="12.4"/><circle cx="2627" cy="2396" r="12.4"/><circle cx="2645" cy="2381" r="12.4"/><circle cx="2656" cy="2394" r="12.4"/><circle cx="2697" cy="2412" r="12.4"/><circle cx="2706" cy="2416" r="12.4"/><circle cx="2716" cy="2285" r="12.4"/><circle cx="2738" cy="2277" r="12.4"/><circle cx="2752" cy="2279" r="12.4"/><circle cx="2774" cy="2276" r="12.4"/><circle cx="2775" cy="2283" r="12.4"/><circle cx="2795" cy="2289" r="12.4"/><circle cx="2810" cy="2280" r="12.4"/><circle cx="2774" cy="2289" r="12.4"/><circle cx="2763" cy="2308" r="12.4"/><circle cx="2736" cy="2324" r="12.4"/><circle cx="2867" cy="2283" r="12.4"/><circle cx="3052" cy="2271" r="12.4"/><circle cx="2832" cy="2316" r="12.4"/><circle cx="2871" cy="2321" r="12.4"/><circle cx="2832" cy="2336" r="12.4"/><circle cx="2816" cy="2334" r="12.4"/><circle cx="2802" cy="2335" r="12.4"/><circle cx="2861" cy="2339" r="12.4"/><circle cx="2877" cy="2342" r="12.4"/><circle cx="2922" cy="2325" r="12.4"/><circle cx="2945" cy="2326" r="12.4"/><circle cx="2956" cy="2332" r="12.4"/><circle cx="2984" cy="2336" r="12.4"/><circle cx="3045" cy="2338" r="12.4"/><circle cx="3058" cy="2349" r="12.4"/><circle cx="2920" cy="2356" r="12.4"/><circle cx="2787" cy="2366" r="12.4"/><circle cx="2809" cy="2371" r="12.4"/><circle cx="2846" cy="2374" r="12.4"/><circle cx="2816" cy="2387" r="12.4"/><circle cx="2831" cy="2386" r="12.4"/><circle cx="2865" cy="2387" r="12.4"/><circle cx="2781" cy="2395" r="12.4"/><circle cx="2758" cy="2402" r="12.4"/><circle cx="2890" cy="2394" r="12.4"/><circle cx="2902" cy="2396" r="12.4"/><circle cx="2922" cy="2392" r="12.4"/><circle cx="2943" cy="2393" r="12.4"/><circle cx="2902" cy="2408" r="12.4"/><circle cx="2922" cy="2406" r="12.4"/><circle cx="2904" cy="2412" r="12.4"/><circle cx="2913" cy="2431" r="12.4"/><circle cx="2927" cy="2434" r="12.4"/><circle cx="2984" cy="2385" r="12.4"/><circle cx="2998" cy="2378" r="12.4"/><circle cx="3069" cy="2415" r="12.4"/><circle cx="2568" cy="2430" r="12.4"/><circle cx="2574" cy="2435" r="12.4"/><circle cx="2594" cy="2427" r="12.4"/><circle cx="2671" cy="2444" r="12.4"/><circle cx="2596" cy="2458" r="12.4"/><circle cx="2568" cy="2477" r="12.4"/><circle cx="2632" cy="2487" r="12.4"/><circle cx="2705" cy="2481" r="12.4"/><circle cx="2585" cy="2506" r="12.4"/><circle cx="2565" cy="2524" r="12.4"/><circle cx="2671" cy="2608" r="12.4"/><circle cx="2888" cy="2464" r="12.4"/><circle cx="2841" cy="2485" r="12.4"/><circle cx="2862" cy="2509" r="12.4"/><circle cx="3016" cy="2468" r="12.4"/><circle cx="3078" cy="2446" r="12.4"/><circle cx="3079" cy="2493" r="12.4"/><circle cx="3034" cy="2508" r="12.4"/><circle cx="3036" cy="2526" r="12.4"/><circle cx="3006" cy="2530" r="12.4"/><circle cx="2977" cy="2552" r="12.4"/><circle cx="2950" cy="2565" r="12.4"/><circle cx="2989" cy="2565" r="12.4"/><circle cx="2972" cy="2586" r="12.4"/><circle cx="3059" cy="2571" r="12.4"/><circle cx="3059" cy="2586" r="12.4"/><circle cx="3032" cy="2596" r="12.4"/><circle cx="3036" cy="2596" r="12.4"/><circle cx="3027" cy="2626" r="12.4"/><circle cx="3031" cy="2626" r="12.4"/><circle cx="3095" cy="2626" r="12.4"/><circle cx="3113" cy="2485" r="12.4"/><circle cx="3113" cy="2505" r="12.4"/><circle cx="3102" cy="2544" r="12.4"/><circle cx="3111" cy="2555" r="12.4"/><circle cx="3116" cy="2424" r="12.4"/><circle cx="3027" cy="2656" r="12.4"/><circle cx="3031" cy="2656" r="12.4"/><circle cx="3095" cy="2656" r="12.4"/><circle cx="3102" cy="2656" r="12.4"/><circle cx="3189" cy="2400" r="12.4"/><circle cx="3257" cy="2400" r="12.4"/><circle cx="3200" cy="2501" r="12.4"/><circle cx="3374" cy="2466" r="12.4"/><circle cx="3391" cy="2496" r="12.4"/><circle cx="3433" cy="2445" r="12.4"/><circle cx="3439" cy="2480" r="12.4"/><circle cx="3433" cy="2521" r="12.4"/><circle cx="3438" cy="2556" r="12.4"/><circle cx="3745" cy="2479" r="12.4"/><circle cx="3311" cy="2508" r="12.4"/><circle cx="3323" cy="2530" r="12.4"/><circle cx="3355" cy="2530" r="12.4"/><circle cx="3289" cy="2538" r="12.4"/><circle cx="3296" cy="2545" r="12.4"/><circle cx="3327" cy="2552" r="12.4"/><circle cx="3354" cy="2556" r="12.4"/><circle cx="3298" cy="2556" r="12.4"/><circle cx="3275" cy="2556" r="12.4"/><circle cx="3154" cy="2556" r="12.4"/><circle cx="3143" cy="2559" r="12.4"/><circle cx="3131" cy="2559" r="12.4"/><circle cx="3121" cy="2556" r="12.4"/><circle cx="3195" cy="2554" r="12.4"/><circle cx="3197" cy="2564" r="12.4"/><circle cx="3224" cy="2556" r="12.4"/><circle cx="3238" cy="2566" r="12.4"/><circle cx="3311" cy="2579" r="12.4"/><circle cx="3309" cy="2578" r="12.4"/><circle cx="3181" cy="2582" r="12.4"/><circle cx="3175" cy="2596" r="12.4"/><circle cx="3181" cy="2596" r="12.4"/><circle cx="3213" cy="2586" r="12.4"/><circle cx="3222" cy="2586" r="12.4"/><circle cx="3252" cy="2596" r="12.4"/><circle cx="3280" cy="2593" r="12.4"/><circle cx="3344" cy="2596" r="12.4"/><circle cx="3234" cy="2608" r="12.4"/><circle cx="3247" cy="2609" r="12.4"/><circle cx="3331" cy="2627" r="12.4"/><circle cx="3181" cy="2639" r="12.4"/><circle cx="3261" cy="2627" r="12.4"/><circle cx="3264" cy="2627" r="12.4"/><circle cx="3273" cy="2627" r="12.4"/><circle cx="3277" cy="2627" r="12.4"/><circle cx="3284" cy="2627" r="12.4"/><circle cx="3154" cy="2627" r="12.4"/><circle cx="3166" cy="2656" r="12.4"/><circle cx="3168" cy="2656" r="12.4"/><circle cx="3180" cy="2654" r="12.4"/><circle cx="3195" cy="2655" r="12.4"/><circle cx="3232" cy="2656" r="12.4"/><circle cx="3246" cy="2656" r="12.4"/><circle cx="3259" cy="2655" r="12.4"/><circle cx="3261" cy="2656" r="12.4"/><circle cx="3264" cy="2656" r="12.4"/><circle cx="3275" cy="2656" r="12.4"/><circle cx="3307" cy="2656" r="12.4"/><circle cx="3311" cy="2656" r="12.4"/><circle cx="3357" cy="2656" r="12.4"/><circle cx="3168" cy="2692" r="12.4"/><circle cx="3221" cy="2686" r="12.4"/><circle cx="3221" cy="2696" r="12.4"/><circle cx="3221" cy="2702" r="12.4"/><circle cx="3247" cy="2697" r="12.4"/><circle cx="3261" cy="2704" r="12.4"/><circle cx="3273" cy="2716" r="12.4"/><circle cx="3286" cy="2738" r="12.4"/><circle cx="3273" cy="2740" r="12.4"/><circle cx="3339" cy="2725" r="12.4"/><circle cx="3207" cy="2740" r="12.4"/><circle cx="3221" cy="2750" r="12.4"/><circle cx="3234" cy="2754" r="12.4"/><circle cx="3207" cy="2774" r="12.4"/><circle cx="3155" cy="2780" r="12.4"/><circle cx="3260" cy="2780" r="12.4"/><circle cx="3273" cy="2798" r="12.4"/><circle cx="3296" cy="2789" r="12.4"/><circle cx="3155" cy="2811" r="12.4"/><circle cx="3195" cy="2811" r="12.4"/><circle cx="3207" cy="2811" r="12.4"/><circle cx="3195" cy="2828" r="12.4"/><circle cx="3234" cy="2828" r="12.4"/><circle cx="3245" cy="2828" r="12.4"/><circle cx="3246" cy="2828" r="12.4"/><circle cx="3268" cy="2828" r="12.4"/><circle cx="3207" cy="2859" r="12.4"/></g>
<path class="tk" d="M2369.6 1949.4h23M2369.6 2050.5h23M2369.6 2151.5h23M2369.6 2252.6h23M2369.6 2353.6h23M2369.6 2454.7h23M2369.6 2555.7h23M2369.6 2656.7h23M2369.6 2757.8h23M2369.6 2858.8h23M2369.6 2959.9h23M2500.6 3060.9v-22.7M2631.6 3060.9v-22.7M2762.6 3060.9v-22.7M2893.6 3060.9v-22.7M3024.6 3060.9v-22.7M3155.6 3060.9v-22.7M3286.6 3060.9v-22.7M3417.6 3060.9v-22.7M3548.6 3060.9v-22.7M3679.6 3060.9v-22.7M3810.6 3060.9v-22.7"/>
<path class="mtk" d="M2369.6 1919h11.7M2369.6 1901.2h11.7M2369.6 1888.6h11.7M2369.6 1878.8h11.7M2369.6 1870.8h11.7M2369.6 1864.1h11.7M2369.6 1858.2h11.7M2369.6 1853h11.7M2369.6 2020.1h11.7M2369.6 2002.3h11.7M2369.6 1989.7h11.7M2369.6 1979.9h11.7M2369.6 1971.9h11.7M2369.6 1965.1h11.7M2369.6 1959.2h11.7M2369.6 1954.1h11.7M2369.6 2121.1h11.7M2369.6 2103.3h11.7M2369.6 2090.7h11.7M2369.6 2080.9h11.7M2369.6 2072.9h11.7M2369.6 2066.1h11.7M2369.6 2060.3h11.7M2369.6 2055.1h11.7M2369.6 2222.2h11.7M2369.6 2204.4h11.7M2369.6 2191.7h11.7M2369.6 2181.9h11.7M2369.6 2173.9h11.7M2369.6 2167.2h11.7M2369.6 2161.3h11.7M2369.6 2156.1h11.7M2369.6 2323.2h11.7M2369.6 2305.4h11.7M2369.6 2292.8h11.7M2369.6 2283h11.7M2369.6 2275h11.7M2369.6 2268.2h11.7M2369.6 2262.4h11.7M2369.6 2257.2h11.7M2369.6 2424.2h11.7M2369.6 2406.4h11.7M2369.6 2393.8h11.7M2369.6 2384h11.7M2369.6 2376h11.7M2369.6 2369.3h11.7M2369.6 2363.4h11.7M2369.6 2358.2h11.7M2369.6 2525.3h11.7M2369.6 2507.5h11.7M2369.6 2494.9h11.7M2369.6 2485.1h11.7M2369.6 2477.1h11.7M2369.6 2470.3h11.7M2369.6 2464.4h11.7M2369.6 2459.3h11.7M2369.6 2626.3h11.7M2369.6 2608.5h11.7M2369.6 2595.9h11.7M2369.6 2586.1h11.7M2369.6 2578.1h11.7M2369.6 2571.3h11.7M2369.6 2565.5h11.7M2369.6 2560.3h11.7M2369.6 2727.4h11.7M2369.6 2709.6h11.7M2369.6 2696.9h11.7M2369.6 2687.1h11.7M2369.6 2679.1h11.7M2369.6 2672.4h11.7M2369.6 2666.5h11.7M2369.6 2661.4h11.7M2369.6 2828.4h11.7M2369.6 2810.6h11.7M2369.6 2798h11.7M2369.6 2788.2h11.7M2369.6 2780.2h11.7M2369.6 2773.4h11.7M2369.6 2767.6h11.7M2369.6 2762.4h11.7M2369.6 2929.4h11.7M2369.6 2911.6h11.7M2369.6 2899h11.7M2369.6 2889.2h11.7M2369.6 2881.2h11.7M2369.6 2874.5h11.7M2369.6 2868.6h11.7M2369.6 2863.4h11.7M2369.6 3030.5h11.7M2369.6 3012.7h11.7M2369.6 3000.1h11.7M2369.6 2990.3h11.7M2369.6 2982.3h11.7M2369.6 2975.5h11.7M2369.6 2969.7h11.7M2369.6 2964.5h11.7M2435.1 3060.9v-11.1M2566.1 3060.9v-11.1M2697.1 3060.9v-11.1M2828.1 3060.9v-11.1M2959.1 3060.9v-11.1M3090.1 3060.9v-11.1M3221.1 3060.9v-11.1M3352.1 3060.9v-11.1M3483.1 3060.9v-11.1M3614.1 3060.9v-11.1M3745.1 3060.9v-11.1M3876.1 3060.9v-11.1"/>
<rect class="fr" x="2369.6" y="1848.4" width="1572" height="1212.5"/>
<text class="tl" text-anchor="middle" x="2370.4" y="3124.5">1</text>
<text class="tl" text-anchor="middle" x="2501.4" y="3124.5">2</text>
<text class="tl" text-anchor="middle" x="2632.4" y="3124.5">3</text>
<text class="tl" text-anchor="middle" x="2763.4" y="3124.5">4</text>
<text class="tl" text-anchor="middle" x="2894.4" y="3124.5">5</text>
<text class="tl" text-anchor="middle" x="3025.4" y="3124.5">6</text>
<text class="tl" text-anchor="middle" x="3156.4" y="3124.5">7</text>
<text class="tl" text-anchor="middle" x="3287.4" y="3124.5">8</text>
<text class="tl" text-anchor="middle" x="3418.4" y="3124.5">9</text>
<text class="tl" text-anchor="middle" x="3551.6" y="3124.5">10</text>
<text class="tl" text-anchor="middle" x="3682.6" y="3124.5">11</text>
<text class="tl" text-anchor="middle" x="3813.6" y="3124.5">12</text>
<text class="tl" text-anchor="middle" x="3944.6" y="3124.5">13</text>
<text class="tl" x="2277.5" y="1867.5">10<tspan class="sp" dy="-25.2">6</tspan></text>
<text class="tl" x="2277.5" y="1968.5">10<tspan class="sp" dy="-25.2">5</tspan></text>
<text class="tl" x="2277.5" y="2069.6">10<tspan class="sp" dy="-25.2">4</tspan></text>
<text class="tl" x="2277.5" y="2170.6">10<tspan class="sp" dy="-25.2">3</tspan></text>
<text class="tl" x="2277.5" y="2271.7">10<tspan class="sp" dy="-25.2">2</tspan></text>
<text class="tl" x="2277.5" y="2372.7">10<tspan class="sp" dy="-25.2">1</tspan></text>
<text class="tl" x="2277.5" y="2473.8">10<tspan class="sp" dy="-25.2">0</tspan></text>
<text class="tl" x="2277.5" y="2574.8">10<tspan class="sp" dy="-25.2">-1</tspan></text>
<text class="tl" x="2277.5" y="2675.8">10<tspan class="sp" dy="-25.2">-2</tspan></text>
<text class="tl" x="2277.5" y="2776.9">10<tspan class="sp" dy="-25.2">-3</tspan></text>
<text class="tl" x="2277.5" y="2877.9">10<tspan class="sp" dy="-25.2">-4</tspan></text>
<text class="tl" x="2277.5" y="2979">10<tspan class="sp" dy="-25.2">-5</tspan></text>
<text class="tl" x="2277.5" y="3080">10<tspan class="sp" dy="-25.2">-6</tspan></text>
<text class="al" text-anchor="middle" x="3156.8" y="3212.3">pH</text>
<text class="al" text-anchor="middle" transform="translate(2226.3 2454.7) rotate(-90)">Al (mg/L)</text>
<text class="tag" x="2140.6" y="1872">(d)</text>
<rect class="hbl" x="2369.6" y="1820.5" width="131" height="7.9"/><rect class="hbl" x="2500.6" y="1745.2" width="131" height="83.2"/><rect class="hgr" x="2500.6" y="1712.8" width="131" height="32.4"/><rect class="hbl" x="2631.6" y="1779.5" width="131" height="48.9"/><rect class="hgr" x="2631.6" y="1744" width="131" height="35.5"/><rect class="hbl" x="2762.6" y="1816.5" width="131" height="11.9"/><rect class="hgr" x="2762.6" y="1804.3" width="131" height="12.2"/><rect class="hbl" x="2893.6" y="1816.1" width="131" height="12.3"/><rect class="hgr" x="2893.6" y="1805.9" width="131" height="10.2"/><rect class="hbl" x="3024.6" y="1815.4" width="131" height="13"/><rect class="hgr" x="3024.6" y="1797.2" width="131" height="18.2"/><rect class="hbl" x="3155.6" y="1818.9" width="131" height="9.5"/><rect class="hgr" x="3155.6" y="1789.7" width="131" height="29.2"/><rect class="hbl" x="3286.6" y="1822.9" width="131" height="5.5"/><rect class="hgr" x="3286.6" y="1813.4" width="131" height="9.5"/><path class="hl" d="M3417.6 1828.4h131"/><path class="hl" d="M3679.6 1828.4h131"/><path class="hl hr" d="M3958.2 1949.4v101"/><rect class="hbl" x="3958.2" y="2050.5" width="33.1" height="101"/><rect class="hbl" x="3958.2" y="2151.5" width="90" height="101"/><rect class="hgr" x="4048.2" y="2151.5" width="10.8" height="101"/><rect class="hbl" x="3958.2" y="2252.6" width="42.5" height="101"/><rect class="hgr" x="4000.7" y="2252.6" width="66.9" height="101"/><rect class="hbl" x="3958.2" y="2353.6" width="24.5" height="101"/><rect class="hgr" x="3982.7" y="2353.6" width="37.4" height="101"/><rect class="hbl" x="3958.2" y="2454.7" width="9.4" height="101"/><rect class="hgr" x="3967.6" y="2454.7" width="23.7" height="101"/><rect class="hbl" x="3958.2" y="2555.7" width="33.8" height="101"/><rect class="hgr" x="3992" y="2555.7" width="31" height="101"/><rect class="hgr" x="3958.2" y="2656.7" width="5.8" height="101"/><rect class="hgr" x="3958.2" y="2757.8" width="7.9" height="101"/>
</g>
<circle cx="1468.8" cy="3286.7" r="34.2" fill="#c1e9b9" fill-opacity=".69" stroke="#7cc184" stroke-opacity=".85" stroke-width="3.6"/>
<text class="lg" x="1580.5" y="3316.4">Coal mine</text>
<circle cx="2278.6" cy="3286.7" r="34.2" fill="#a5b3d8" fill-opacity=".69" stroke="#7088c0" stroke-opacity=".85" stroke-width="3.6"/>
<text class="lg" x="2389.8" y="3316.4">Metal mine</text>
</svg></body></html>
